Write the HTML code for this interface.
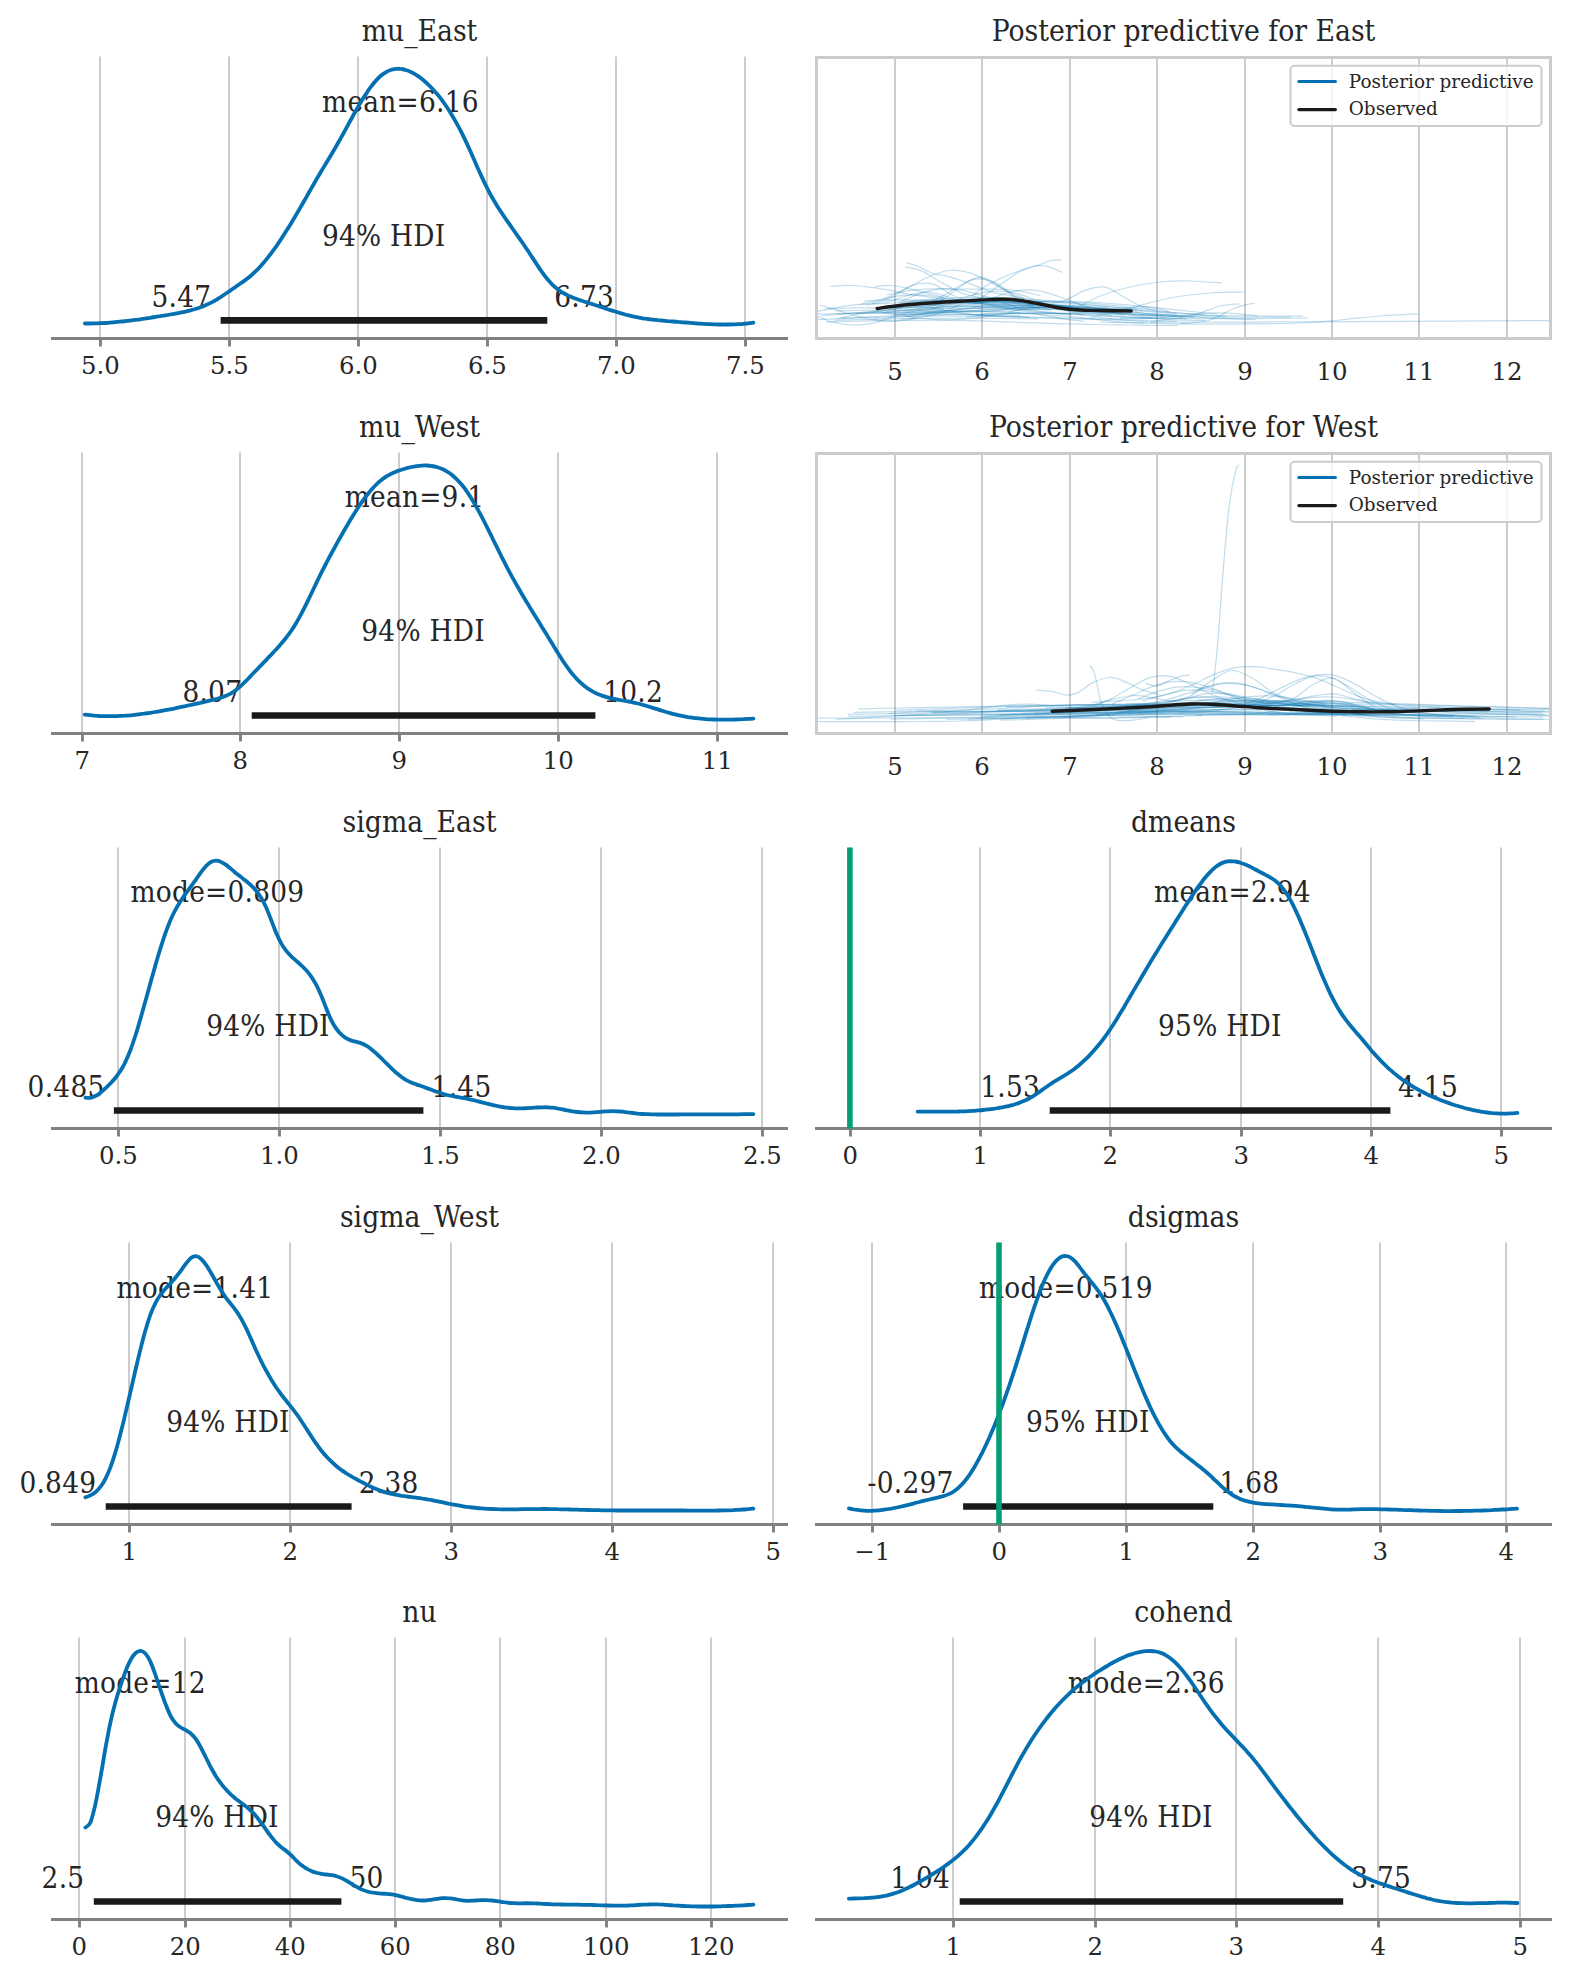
<!DOCTYPE html><html><head><meta charset="utf-8"><title>Posterior plots</title><style>html,body{margin:0;padding:0;background:#fff}svg{display:block}</style></head><body><svg width="1570" height="1980" viewBox="0 0 1570 1980" fill="#262626">
<style>.r{font-family:"DejaVu Serif","Liberation Serif",serif;font-stretch:normal}.c{font-family:"DejaVu Serif Condensed","DejaVu Serif","Liberation Serif",serif;font-stretch:condensed;letter-spacing:0.25px}.t{font-family:"DejaVu Serif Condensed","DejaVu Serif","Liberation Serif",serif;font-stretch:condensed}</style>
<rect width="1570" height="1980" fill="#ffffff"/>
<line x1="100" y1="56.5" x2="100" y2="338.5" stroke="#cccccc" stroke-width="2"/>
<line x1="229" y1="56.5" x2="229" y2="338.5" stroke="#cccccc" stroke-width="2"/>
<line x1="358" y1="56.5" x2="358" y2="338.5" stroke="#cccccc" stroke-width="2"/>
<line x1="487" y1="56.5" x2="487" y2="338.5" stroke="#cccccc" stroke-width="2"/>
<line x1="616" y1="56.5" x2="616" y2="338.5" stroke="#cccccc" stroke-width="2"/>
<line x1="745" y1="56.5" x2="745" y2="338.5" stroke="#cccccc" stroke-width="2"/>
<text class="c" x="322.1" y="112.0" font-size="29.4" text-anchor="start">mean=6.16</text>
<text class="c" x="321.9" y="246.3" font-size="29.4" text-anchor="start">94% HDI</text>
<text class="c" x="151.5" y="306.9" font-size="29.4" text-anchor="start">5.47</text>
<text class="c" x="554.2" y="306.9" font-size="29.4" text-anchor="start">6.73</text>
<path d="M84.9,323.5C85.7,323.5 88.3,323.5 89.9,323.5C91.6,323.5 93.3,323.5 95.0,323.4C96.6,323.4 98.3,323.3 100.0,323.2C101.7,323.1 103.3,323.1 105.0,323.0C106.7,322.9 108.4,322.7 110.0,322.6C111.7,322.5 113.4,322.4 115.1,322.2C116.7,322.1 118.4,321.9 120.1,321.7C121.8,321.6 123.4,321.4 125.1,321.2C126.8,321.0 128.5,320.8 130.1,320.6C131.8,320.4 133.5,320.2 135.2,319.9C136.8,319.7 138.5,319.5 140.2,319.3C141.9,319.0 143.5,318.8 145.2,318.5C146.9,318.3 148.6,318.0 150.2,317.8C151.9,317.5 153.6,317.2 155.3,317.0C156.9,316.7 158.6,316.4 160.3,316.2C162.0,315.9 163.6,315.6 165.3,315.3C167.0,315.1 168.7,314.8 170.3,314.5C172.0,314.2 173.7,313.9 175.4,313.6C177.0,313.3 178.7,313.0 180.4,312.7C182.1,312.4 183.8,312.0 185.4,311.7C187.1,311.3 188.8,310.9 190.5,310.4C192.1,310.0 193.8,309.5 195.5,309.0C197.2,308.5 198.8,307.9 200.5,307.3C202.2,306.7 203.9,306.0 205.5,305.3C207.2,304.6 208.9,303.8 210.6,302.9C212.2,302.1 213.9,301.1 215.6,300.2C217.3,299.2 218.9,298.1 220.6,297.1C222.3,296.0 224.0,294.8 225.6,293.7C227.3,292.6 229.0,291.4 230.7,290.3C232.3,289.1 234.0,287.9 235.7,286.8C237.4,285.6 239.0,284.5 240.7,283.3C242.4,282.1 244.1,281.0 245.7,279.7C247.4,278.4 249.1,277.1 250.8,275.7C252.4,274.3 254.1,272.8 255.8,271.2C257.5,269.5 259.1,267.8 260.8,265.9C262.5,264.1 264.2,262.1 265.8,260.1C267.5,258.1 269.2,255.9 270.9,253.7C272.5,251.5 274.2,249.1 275.9,246.8C277.6,244.4 279.2,241.9 280.9,239.4C282.6,236.8 284.3,234.2 285.9,231.6C287.6,228.9 289.3,226.2 291.0,223.4C292.6,220.7 294.3,217.9 296.0,215.0C297.7,212.2 299.4,209.3 301.0,206.4C302.7,203.5 304.4,200.5 306.1,197.6C307.7,194.7 309.4,191.7 311.1,188.8C312.8,185.8 314.4,182.9 316.1,180.0C317.8,177.1 319.5,174.3 321.1,171.5C322.8,168.6 324.5,165.9 326.2,163.1C327.8,160.3 329.5,157.5 331.2,154.7C332.9,151.9 334.5,149.1 336.2,146.2C337.9,143.2 339.6,140.3 341.2,137.3C342.9,134.3 344.6,131.2 346.3,128.1C347.9,125.1 349.6,122.0 351.3,119.0C353.0,115.9 354.6,112.9 356.3,110.0C358.0,107.0 359.7,104.1 361.3,101.4C363.0,98.6 364.7,95.9 366.4,93.4C368.0,90.8 369.7,88.4 371.4,86.2C373.1,84.0 374.7,81.9 376.4,80.1C378.1,78.3 379.8,76.7 381.4,75.3C383.1,73.9 384.8,72.8 386.5,71.8C388.1,70.9 389.8,70.2 391.5,69.7C393.2,69.2 394.8,68.9 396.5,68.8C398.2,68.7 399.9,68.7 401.5,69.0C403.2,69.2 404.9,69.6 406.6,70.2C408.3,70.7 409.9,71.4 411.6,72.3C413.3,73.1 415.0,74.1 416.6,75.2C418.3,76.3 420.0,77.5 421.7,78.8C423.3,80.1 425.0,81.6 426.7,83.1C428.4,84.6 430.0,86.3 431.7,88.0C433.4,89.8 435.1,91.6 436.7,93.6C438.4,95.6 440.1,97.7 441.8,99.9C443.4,102.2 445.1,104.5 446.8,107.0C448.5,109.5 450.1,112.1 451.8,114.9C453.5,117.7 455.2,120.6 456.8,123.6C458.5,126.6 460.2,129.8 461.9,133.2C463.5,136.5 465.2,140.0 466.9,143.6C468.6,147.2 470.2,151.0 471.9,154.8C473.6,158.5 475.3,162.4 476.9,166.2C478.6,169.9 480.3,173.7 482.0,177.4C483.6,181.0 485.3,184.5 487.0,187.9C488.7,191.2 490.3,194.3 492.0,197.3C493.7,200.3 495.4,203.1 497.0,205.7C498.7,208.4 500.4,211.0 502.1,213.5C503.7,216.0 505.4,218.4 507.1,220.8C508.8,223.2 510.4,225.6 512.1,228.0C513.8,230.4 515.5,232.8 517.1,235.2C518.8,237.6 520.5,240.0 522.2,242.4C523.9,244.8 525.5,247.3 527.2,249.8C528.9,252.3 530.6,254.8 532.2,257.4C533.9,259.9 535.6,262.5 537.3,265.1C538.9,267.6 540.6,270.1 542.3,272.5C544.0,274.8 545.6,277.1 547.3,279.1C549.0,281.1 550.7,283.0 552.3,284.6C554.0,286.3 555.7,287.7 557.4,289.0C559.0,290.3 560.7,291.4 562.4,292.5C564.1,293.5 565.7,294.4 567.4,295.2C569.1,296.0 570.8,296.7 572.4,297.4C574.1,298.1 575.8,298.7 577.5,299.3C579.1,299.9 580.8,300.5 582.5,301.0C584.2,301.6 585.8,302.1 587.5,302.6C589.2,303.1 590.9,303.7 592.5,304.2C594.2,304.7 595.9,305.3 597.6,305.8C599.2,306.4 600.9,307.0 602.6,307.5C604.3,308.1 605.9,308.6 607.6,309.2C609.3,309.7 611.0,310.3 612.6,310.8C614.3,311.3 616.0,311.8 617.7,312.3C619.3,312.9 621.0,313.3 622.7,313.8C624.4,314.3 626.0,314.7 627.7,315.2C629.4,315.6 631.1,316.0 632.7,316.4C634.4,316.7 636.1,317.1 637.8,317.4C639.5,317.7 641.1,318.0 642.8,318.3C644.5,318.5 646.2,318.8 647.8,319.0C649.5,319.2 651.2,319.4 652.9,319.6C654.5,319.8 656.2,320.0 657.9,320.2C659.6,320.3 661.2,320.5 662.9,320.6C664.6,320.8 666.3,320.9 667.9,321.1C669.6,321.2 671.3,321.3 673.0,321.5C674.6,321.6 676.3,321.7 678.0,321.9C679.7,322.0 681.3,322.2 683.0,322.3C684.7,322.4 686.4,322.6 688.0,322.7C689.7,322.8 691.4,323.0 693.1,323.1C694.7,323.2 696.4,323.3 698.1,323.5C699.8,323.6 701.4,323.7 703.1,323.8C704.8,323.9 706.5,324.0 708.1,324.1C709.8,324.2 711.5,324.2 713.2,324.3C714.8,324.4 716.5,324.4 718.2,324.5C719.9,324.5 721.5,324.5 723.2,324.5C724.9,324.6 726.6,324.5 728.2,324.5C729.9,324.5 731.6,324.5 733.3,324.4C734.9,324.4 736.6,324.3 738.3,324.2C740.0,324.1 741.6,324.0 743.3,323.8C745.0,323.7 746.7,323.5 748.3,323.3C750.0,323.2 752.5,322.8 753.4,322.7" fill="none" stroke="#0470b1" stroke-width="3.8" stroke-linecap="round" stroke-linejoin="round"/>
<line x1="220.6" y1="320.4" x2="547.3" y2="320.4" stroke="#1a1a1a" stroke-width="6.7"/>
<line x1="51.0" y1="338.5" x2="788.0" y2="338.5" stroke="#808080" stroke-width="3.0"/>
<line x1="100.5" y1="338.5" x2="100.5" y2="346.5" stroke="#808080" stroke-width="2.9"/>
<line x1="229.5" y1="338.5" x2="229.5" y2="346.5" stroke="#808080" stroke-width="2.9"/>
<line x1="358.5" y1="338.5" x2="358.5" y2="346.5" stroke="#808080" stroke-width="2.9"/>
<line x1="487.5" y1="338.5" x2="487.5" y2="346.5" stroke="#808080" stroke-width="2.9"/>
<line x1="616.5" y1="338.5" x2="616.5" y2="346.5" stroke="#808080" stroke-width="2.9"/>
<line x1="745.5" y1="338.5" x2="745.5" y2="346.5" stroke="#808080" stroke-width="2.9"/>
<text class="r" x="100.3" y="374.0" font-size="24.4" text-anchor="middle">5.0</text>
<text class="r" x="229.3" y="374.0" font-size="24.4" text-anchor="middle">5.5</text>
<text class="r" x="358.3" y="374.0" font-size="24.4" text-anchor="middle">6.0</text>
<text class="r" x="487.3" y="374.0" font-size="24.4" text-anchor="middle">6.5</text>
<text class="r" x="616.3" y="374.0" font-size="24.4" text-anchor="middle">7.0</text>
<text class="r" x="745.3" y="374.0" font-size="24.4" text-anchor="middle">7.5</text>
<text class="t" x="419.5" y="41.3" font-size="29.7" text-anchor="middle">mu_East</text>
<line x1="82" y1="452.5" x2="82" y2="733.5" stroke="#cccccc" stroke-width="2"/>
<line x1="240" y1="452.5" x2="240" y2="733.5" stroke="#cccccc" stroke-width="2"/>
<line x1="399" y1="452.5" x2="399" y2="733.5" stroke="#cccccc" stroke-width="2"/>
<line x1="558" y1="452.5" x2="558" y2="733.5" stroke="#cccccc" stroke-width="2"/>
<line x1="717" y1="452.5" x2="717" y2="733.5" stroke="#cccccc" stroke-width="2"/>
<text class="c" x="344.7" y="507.0" font-size="29.4" text-anchor="start">mean=9.1</text>
<text class="c" x="361.3" y="641.3" font-size="29.4" text-anchor="start">94% HDI</text>
<text class="c" x="182.4" y="701.9" font-size="29.4" text-anchor="start">8.07</text>
<text class="c" x="603.2" y="701.9" font-size="29.4" text-anchor="start">10.2</text>
<path d="M84.8,714.6C85.6,714.7 88.1,715.0 89.8,715.2C91.5,715.4 93.2,715.5 94.8,715.7C96.5,715.8 98.2,715.9 99.9,716.0C101.5,716.0 103.2,716.1 104.9,716.1C106.6,716.2 108.2,716.2 109.9,716.2C111.6,716.2 113.3,716.2 114.9,716.1C116.6,716.1 118.3,716.0 120.0,715.9C121.6,715.9 123.3,715.8 125.0,715.7C126.7,715.5 128.3,715.4 130.0,715.3C131.7,715.1 133.4,715.0 135.0,714.8C136.7,714.6 138.4,714.4 140.1,714.2C141.8,714.0 143.4,713.8 145.1,713.5C146.8,713.3 148.5,713.1 150.1,712.8C151.8,712.6 153.5,712.3 155.2,712.0C156.8,711.7 158.5,711.5 160.2,711.2C161.9,710.9 163.5,710.6 165.2,710.2C166.9,709.9 168.6,709.6 170.2,709.3C171.9,709.0 173.6,708.6 175.3,708.3C176.9,707.9 178.6,707.6 180.3,707.2C182.0,706.9 183.6,706.5 185.3,706.2C187.0,705.8 188.7,705.4 190.3,705.0C192.0,704.7 193.7,704.3 195.4,703.9C197.0,703.5 198.7,703.1 200.4,702.8C202.1,702.4 203.8,702.0 205.4,701.6C207.1,701.2 208.8,700.8 210.5,700.4C212.1,700.0 213.8,699.6 215.5,699.2C217.2,698.7 218.8,698.3 220.5,697.8C222.2,697.2 223.9,696.7 225.5,696.0C227.2,695.3 228.9,694.5 230.6,693.6C232.2,692.6 233.9,691.6 235.6,690.3C237.3,689.1 238.9,687.7 240.6,686.2C242.3,684.7 244.0,683.0 245.6,681.3C247.3,679.6 249.0,677.8 250.7,676.1C252.3,674.3 254.0,672.6 255.7,670.8C257.4,669.1 259.0,667.3 260.7,665.6C262.4,663.9 264.1,662.2 265.8,660.4C267.4,658.7 269.1,656.9 270.8,655.2C272.5,653.4 274.1,651.6 275.8,649.8C277.5,647.9 279.2,646.1 280.8,644.1C282.5,642.2 284.2,640.2 285.9,638.0C287.5,635.9 289.2,633.7 290.9,631.2C292.6,628.8 294.2,626.2 295.9,623.4C297.6,620.6 299.3,617.6 300.9,614.5C302.6,611.3 304.3,608.0 306.0,604.6C307.6,601.2 309.3,597.7 311.0,594.2C312.7,590.7 314.3,587.2 316.0,583.7C317.7,580.2 319.4,576.7 321.0,573.4C322.7,570.0 324.4,566.7 326.1,563.5C327.8,560.3 329.4,557.1 331.1,554.0C332.8,550.9 334.5,547.8 336.1,544.8C337.8,541.7 339.5,538.7 341.2,535.8C342.8,532.8 344.5,529.8 346.2,527.0C347.9,524.1 349.5,521.3 351.2,518.5C352.9,515.8 354.6,513.1 356.2,510.5C357.9,507.9 359.6,505.3 361.3,502.9C362.9,500.5 364.6,498.2 366.3,496.0C368.0,493.9 369.6,491.8 371.3,489.8C373.0,487.9 374.7,486.1 376.3,484.5C378.0,482.8 379.7,481.3 381.4,480.0C383.0,478.6 384.7,477.5 386.4,476.4C388.1,475.4 389.8,474.5 391.4,473.6C393.1,472.8 394.8,472.1 396.5,471.4C398.1,470.8 399.8,470.2 401.5,469.7C403.2,469.2 404.8,468.7 406.5,468.2C408.2,467.8 409.9,467.4 411.5,467.0C413.2,466.7 414.9,466.4 416.6,466.1C418.2,465.9 419.9,465.7 421.6,465.6C423.3,465.5 424.9,465.4 426.6,465.5C428.3,465.6 430.0,465.7 431.6,466.0C433.3,466.2 435.0,466.5 436.7,467.0C438.3,467.5 440.0,468.1 441.7,468.8C443.4,469.5 445.0,470.4 446.7,471.4C448.4,472.4 450.1,473.5 451.8,474.8C453.4,476.2 455.1,477.6 456.8,479.3C458.5,480.9 460.1,482.8 461.8,484.8C463.5,486.8 465.2,489.0 466.8,491.4C468.5,493.9 470.2,496.5 471.9,499.2C473.5,501.9 475.2,504.9 476.9,507.9C478.6,510.9 480.2,514.0 481.9,517.2C483.6,520.4 485.3,523.7 486.9,527.0C488.6,530.4 490.3,533.8 492.0,537.2C493.6,540.6 495.3,544.0 497.0,547.4C498.7,550.8 500.3,554.2 502.0,557.6C503.7,560.9 505.4,564.2 507.0,567.4C508.7,570.6 510.4,573.7 512.1,576.8C513.8,579.9 515.4,582.9 517.1,585.8C518.8,588.8 520.5,591.7 522.1,594.5C523.8,597.4 525.5,600.2 527.2,602.9C528.8,605.7 530.5,608.5 532.2,611.2C533.9,613.9 535.5,616.6 537.2,619.3C538.9,622.0 540.6,624.7 542.2,627.5C543.9,630.2 545.6,632.9 547.3,635.6C548.9,638.3 550.6,641.1 552.3,643.8C554.0,646.6 555.6,649.3 557.3,652.0C559.0,654.7 560.7,657.4 562.3,659.9C564.0,662.5 565.7,665.0 567.4,667.3C569.1,669.7 570.7,671.9 572.4,673.9C574.1,676.0 575.8,677.9 577.4,679.6C579.1,681.3 580.8,682.9 582.5,684.3C584.1,685.8 585.8,687.1 587.5,688.3C589.2,689.4 590.8,690.5 592.5,691.4C594.2,692.4 595.9,693.2 597.5,693.9C599.2,694.7 600.9,695.3 602.6,695.9C604.2,696.5 605.9,697.0 607.6,697.4C609.3,697.9 610.9,698.3 612.6,698.6C614.3,699.0 616.0,699.3 617.6,699.6C619.3,699.9 621.0,700.2 622.7,700.5C624.3,700.8 626.0,701.1 627.7,701.4C629.4,701.7 631.1,702.0 632.7,702.4C634.4,702.7 636.1,703.1 637.8,703.5C639.4,703.9 641.1,704.4 642.8,704.9C644.5,705.3 646.1,705.8 647.8,706.3C649.5,706.8 651.2,707.3 652.8,707.9C654.5,708.4 656.2,708.9 657.9,709.4C659.5,710.0 661.2,710.5 662.9,711.0C664.6,711.5 666.2,712.0 667.9,712.5C669.6,713.0 671.3,713.4 672.9,713.9C674.6,714.3 676.3,714.7 678.0,715.1C679.6,715.5 681.3,715.8 683.0,716.2C684.7,716.5 686.3,716.8 688.0,717.1C689.7,717.3 691.4,717.6 693.1,717.8C694.7,718.0 696.4,718.2 698.1,718.4C699.8,718.6 701.4,718.8 703.1,718.9C704.8,719.0 706.5,719.2 708.1,719.3C709.8,719.4 711.5,719.4 713.2,719.5C714.8,719.6 716.5,719.6 718.2,719.6C719.9,719.7 721.5,719.7 723.2,719.7C724.9,719.7 726.6,719.7 728.2,719.7C729.9,719.6 731.6,719.6 733.3,719.6C734.9,719.5 736.6,719.5 738.3,719.4C740.0,719.3 741.6,719.2 743.3,719.2C745.0,719.1 746.7,719.0 748.3,718.9C750.0,718.8 752.5,718.6 753.4,718.6" fill="none" stroke="#0470b1" stroke-width="3.8" stroke-linecap="round" stroke-linejoin="round"/>
<line x1="251.7" y1="715.5" x2="595.4" y2="715.5" stroke="#1a1a1a" stroke-width="6.7"/>
<line x1="51.0" y1="733.5" x2="788.0" y2="733.5" stroke="#808080" stroke-width="3.0"/>
<line x1="82.5" y1="733.5" x2="82.5" y2="741.5" stroke="#808080" stroke-width="2.9"/>
<line x1="240.5" y1="733.5" x2="240.5" y2="741.5" stroke="#808080" stroke-width="2.9"/>
<line x1="399.5" y1="733.5" x2="399.5" y2="741.5" stroke="#808080" stroke-width="2.9"/>
<line x1="558.5" y1="733.5" x2="558.5" y2="741.5" stroke="#808080" stroke-width="2.9"/>
<line x1="717.5" y1="733.5" x2="717.5" y2="741.5" stroke="#808080" stroke-width="2.9"/>
<text class="r" x="82.3" y="769.0" font-size="24.4" text-anchor="middle">7</text>
<text class="r" x="240.3" y="769.0" font-size="24.4" text-anchor="middle">8</text>
<text class="r" x="399.3" y="769.0" font-size="24.4" text-anchor="middle">9</text>
<text class="r" x="558.3" y="769.0" font-size="24.4" text-anchor="middle">10</text>
<text class="r" x="717.3" y="769.0" font-size="24.4" text-anchor="middle">11</text>
<text class="t" x="419.5" y="437.3" font-size="29.7" text-anchor="middle">mu_West</text>
<line x1="118" y1="847.5" x2="118" y2="1128.5" stroke="#cccccc" stroke-width="2"/>
<line x1="279" y1="847.5" x2="279" y2="1128.5" stroke="#cccccc" stroke-width="2"/>
<line x1="440" y1="847.5" x2="440" y2="1128.5" stroke="#cccccc" stroke-width="2"/>
<line x1="601" y1="847.5" x2="601" y2="1128.5" stroke="#cccccc" stroke-width="2"/>
<line x1="762" y1="847.5" x2="762" y2="1128.5" stroke="#cccccc" stroke-width="2"/>
<text class="c" x="130.5" y="902.0" font-size="29.4" text-anchor="start">mode=0.809</text>
<text class="c" x="206.2" y="1036.3" font-size="29.4" text-anchor="start">94% HDI</text>
<text class="c" x="27.6" y="1096.9" font-size="29.4" text-anchor="start">0.485</text>
<text class="c" x="431.6" y="1096.9" font-size="29.4" text-anchor="start">1.45</text>
<path d="M85.4,1097.7C86.2,1097.8 88.7,1098.1 90.4,1097.8C92.0,1097.6 93.7,1096.9 95.4,1096.0C97.1,1095.2 98.7,1094.0 100.4,1092.7C102.1,1091.5 103.8,1089.9 105.4,1088.4C107.1,1086.8 108.8,1085.1 110.5,1083.3C112.1,1081.6 113.8,1079.8 115.5,1077.7C117.2,1075.6 118.8,1073.4 120.5,1070.8C122.2,1068.1 123.9,1065.2 125.5,1061.7C127.2,1058.2 128.9,1054.2 130.6,1049.7C132.2,1045.3 133.9,1040.2 135.6,1035.0C137.3,1029.8 138.9,1024.1 140.6,1018.3C142.3,1012.5 143.9,1006.4 145.6,1000.4C147.3,994.4 149.0,988.2 150.6,982.2C152.3,976.2 154.0,970.1 155.7,964.3C157.3,958.5 159.0,952.9 160.7,947.5C162.4,942.2 164.0,937.1 165.7,932.4C167.4,927.8 169.1,923.4 170.7,919.6C172.4,915.7 174.1,912.3 175.8,909.2C177.4,906.1 179.1,903.4 180.8,900.7C182.5,898.1 184.1,895.8 185.8,893.4C187.5,891.1 189.2,888.9 190.8,886.6C192.5,884.3 194.2,881.9 195.9,879.6C197.5,877.2 199.2,874.7 200.9,872.4C202.5,870.2 204.2,868.0 205.9,866.2C207.6,864.5 209.2,862.9 210.9,862.0C212.6,861.0 214.3,860.6 215.9,860.6C217.6,860.6 219.3,861.1 221.0,861.9C222.6,862.6 224.3,863.7 226.0,864.9C227.7,866.1 229.3,867.5 231.0,868.9C232.7,870.3 234.4,871.8 236.0,873.2C237.7,874.5 239.4,875.8 241.1,877.1C242.7,878.4 244.4,879.6 246.1,881.0C247.8,882.4 249.4,883.7 251.1,885.4C252.8,887.0 254.4,888.7 256.1,890.7C257.8,892.8 259.5,895.0 261.1,897.8C262.8,900.6 264.5,903.8 266.2,907.5C267.8,911.2 269.5,915.8 271.2,920.1C272.9,924.3 274.5,929.1 276.2,933.0C277.9,936.8 279.6,940.4 281.2,943.4C282.9,946.4 284.6,948.7 286.3,950.9C287.9,953.0 289.6,954.7 291.3,956.3C293.0,958.0 294.6,959.3 296.3,960.8C298.0,962.3 299.7,963.7 301.3,965.3C303.0,966.9 304.7,968.5 306.4,970.4C308.0,972.3 309.7,974.4 311.4,976.8C313.0,979.3 314.7,981.9 316.4,985.1C318.1,988.3 319.7,992.1 321.4,996.0C323.1,999.9 324.8,1004.7 326.4,1008.8C328.1,1012.9 329.8,1017.3 331.5,1020.6C333.1,1024.0 334.8,1026.7 336.5,1029.0C338.2,1031.4 339.8,1033.1 341.5,1034.6C343.2,1036.2 344.9,1037.3 346.5,1038.3C348.2,1039.3 349.9,1040.0 351.6,1040.6C353.2,1041.1 354.9,1041.4 356.6,1041.9C358.3,1042.4 359.9,1042.7 361.6,1043.4C363.3,1044.0 364.9,1044.9 366.6,1045.9C368.3,1046.9 370.0,1048.1 371.6,1049.5C373.3,1050.8 375.0,1052.3 376.7,1053.8C378.3,1055.4 380.0,1057.0 381.7,1058.7C383.4,1060.3 385.0,1062.0 386.7,1063.7C388.4,1065.3 390.1,1067.0 391.7,1068.6C393.4,1070.2 395.1,1071.8 396.8,1073.2C398.4,1074.7 400.1,1076.0 401.8,1077.2C403.5,1078.4 405.1,1079.5 406.8,1080.4C408.5,1081.3 410.2,1082.1 411.8,1082.8C413.5,1083.5 415.2,1084.0 416.9,1084.6C418.5,1085.2 420.2,1085.7 421.9,1086.3C423.5,1086.9 425.2,1087.5 426.9,1088.1C428.6,1088.7 430.2,1089.4 431.9,1090.0C433.6,1090.6 435.3,1091.3 436.9,1091.8C438.6,1092.4 440.3,1093.0 442.0,1093.5C443.6,1094.1 445.3,1094.5 447.0,1095.0C448.7,1095.4 450.3,1095.7 452.0,1096.0C453.7,1096.4 455.4,1096.6 457.0,1096.9C458.7,1097.2 460.4,1097.5 462.1,1097.8C463.7,1098.1 465.4,1098.4 467.1,1098.7C468.8,1099.1 470.4,1099.5 472.1,1099.9C473.8,1100.2 475.5,1100.7 477.1,1101.1C478.8,1101.5 480.5,1101.9 482.1,1102.4C483.8,1102.8 485.5,1103.2 487.2,1103.7C488.8,1104.1 490.5,1104.5 492.2,1104.9C493.9,1105.3 495.5,1105.7 497.2,1106.0C498.9,1106.4 500.6,1106.7 502.2,1107.0C503.9,1107.2 505.6,1107.5 507.3,1107.7C508.9,1107.9 510.6,1108.0 512.3,1108.1C514.0,1108.2 515.6,1108.3 517.3,1108.3C519.0,1108.4 520.7,1108.4 522.3,1108.3C524.0,1108.3 525.7,1108.2 527.4,1108.2C529.0,1108.1 530.7,1108.0 532.4,1107.9C534.0,1107.8 535.7,1107.6 537.4,1107.5C539.1,1107.4 540.7,1107.3 542.4,1107.3C544.1,1107.3 545.8,1107.2 547.4,1107.3C549.1,1107.4 550.8,1107.5 552.5,1107.7C554.1,1107.9 555.8,1108.2 557.5,1108.5C559.2,1108.8 560.8,1109.1 562.5,1109.4C564.2,1109.8 565.9,1110.1 567.5,1110.4C569.2,1110.8 570.9,1111.1 572.6,1111.4C574.2,1111.6 575.9,1111.8 577.6,1112.0C579.3,1112.2 580.9,1112.3 582.6,1112.4C584.3,1112.5 586.0,1112.6 587.6,1112.6C589.3,1112.6 591.0,1112.5 592.6,1112.4C594.3,1112.4 596.0,1112.2 597.7,1112.1C599.3,1112.0 601.0,1111.8 602.7,1111.6C604.4,1111.5 606.0,1111.4 607.7,1111.3C609.4,1111.2 611.1,1111.1 612.7,1111.1C614.4,1111.1 616.1,1111.1 617.8,1111.3C619.4,1111.4 621.1,1111.6 622.8,1111.7C624.5,1111.9 626.1,1112.2 627.8,1112.4C629.5,1112.6 631.2,1112.8 632.8,1113.0C634.5,1113.2 636.2,1113.4 637.9,1113.6C639.5,1113.7 641.2,1113.9 642.9,1114.0C644.5,1114.1 646.2,1114.2 647.9,1114.2C649.6,1114.3 651.2,1114.4 652.9,1114.4C654.6,1114.4 656.3,1114.5 657.9,1114.5C659.6,1114.5 661.3,1114.5 663.0,1114.5C664.6,1114.5 666.3,1114.5 668.0,1114.5C669.7,1114.5 671.3,1114.5 673.0,1114.5C674.7,1114.5 676.4,1114.5 678.0,1114.5C679.7,1114.5 681.4,1114.4 683.1,1114.4C684.7,1114.4 686.4,1114.4 688.1,1114.4C689.8,1114.4 691.4,1114.4 693.1,1114.4C694.8,1114.4 696.5,1114.4 698.1,1114.4C699.8,1114.4 701.5,1114.4 703.1,1114.4C704.8,1114.4 706.5,1114.4 708.2,1114.4C709.8,1114.4 711.5,1114.4 713.2,1114.4C714.9,1114.4 716.5,1114.4 718.2,1114.4C719.9,1114.4 721.6,1114.4 723.2,1114.4C724.9,1114.4 726.6,1114.4 728.3,1114.4C729.9,1114.4 731.6,1114.3 733.3,1114.3C735.0,1114.3 736.6,1114.3 738.3,1114.3C740.0,1114.3 741.7,1114.3 743.3,1114.2C745.0,1114.2 746.7,1114.2 748.4,1114.2C750.0,1114.1 752.5,1114.1 753.4,1114.1" fill="none" stroke="#0470b1" stroke-width="3.8" stroke-linecap="round" stroke-linejoin="round"/>
<line x1="113.9" y1="1110.5" x2="423.4" y2="1110.5" stroke="#1a1a1a" stroke-width="6.7"/>
<line x1="51.0" y1="1128.5" x2="788.0" y2="1128.5" stroke="#808080" stroke-width="3.0"/>
<line x1="118.5" y1="1128.5" x2="118.5" y2="1136.5" stroke="#808080" stroke-width="2.9"/>
<line x1="279.5" y1="1128.5" x2="279.5" y2="1136.5" stroke="#808080" stroke-width="2.9"/>
<line x1="440.5" y1="1128.5" x2="440.5" y2="1136.5" stroke="#808080" stroke-width="2.9"/>
<line x1="601.5" y1="1128.5" x2="601.5" y2="1136.5" stroke="#808080" stroke-width="2.9"/>
<line x1="762.5" y1="1128.5" x2="762.5" y2="1136.5" stroke="#808080" stroke-width="2.9"/>
<text class="r" x="118.3" y="1164.0" font-size="24.4" text-anchor="middle">0.5</text>
<text class="r" x="279.3" y="1164.0" font-size="24.4" text-anchor="middle">1.0</text>
<text class="r" x="440.3" y="1164.0" font-size="24.4" text-anchor="middle">1.5</text>
<text class="r" x="601.3" y="1164.0" font-size="24.4" text-anchor="middle">2.0</text>
<text class="r" x="762.3" y="1164.0" font-size="24.4" text-anchor="middle">2.5</text>
<text class="t" x="419.5" y="832.3" font-size="29.7" text-anchor="middle">sigma_East</text>
<line x1="850" y1="847.5" x2="850" y2="1128.5" stroke="#cccccc" stroke-width="2"/>
<line x1="980" y1="847.5" x2="980" y2="1128.5" stroke="#cccccc" stroke-width="2"/>
<line x1="1110" y1="847.5" x2="1110" y2="1128.5" stroke="#cccccc" stroke-width="2"/>
<line x1="1241" y1="847.5" x2="1241" y2="1128.5" stroke="#cccccc" stroke-width="2"/>
<line x1="1371" y1="847.5" x2="1371" y2="1128.5" stroke="#cccccc" stroke-width="2"/>
<line x1="1501" y1="847.5" x2="1501" y2="1128.5" stroke="#cccccc" stroke-width="2"/>
<text class="c" x="1154.1" y="902.0" font-size="29.4" text-anchor="start">mean=2.94</text>
<text class="c" x="1158.0" y="1036.3" font-size="29.4" text-anchor="start">95% HDI</text>
<text class="c" x="980.2" y="1096.9" font-size="29.4" text-anchor="start">1.53</text>
<text class="c" x="1398.1" y="1096.9" font-size="29.4" text-anchor="start">4.15</text>
<path d="M917.7,1111.7C918.5,1111.7 921.1,1111.7 922.7,1111.7C924.4,1111.7 926.1,1111.7 927.8,1111.7C929.5,1111.7 931.1,1111.7 932.8,1111.7C934.5,1111.7 936.2,1111.7 937.9,1111.7C939.5,1111.7 941.2,1111.7 942.9,1111.7C944.6,1111.7 946.3,1111.7 947.9,1111.7C949.6,1111.7 951.3,1111.6 953.0,1111.6C954.7,1111.6 956.4,1111.5 958.0,1111.5C959.7,1111.4 961.4,1111.4 963.1,1111.3C964.8,1111.3 966.4,1111.2 968.1,1111.1C969.8,1111.0 971.5,1110.9 973.2,1110.8C974.8,1110.7 976.5,1110.6 978.2,1110.4C979.9,1110.3 981.6,1110.2 983.2,1110.0C984.9,1109.8 986.6,1109.6 988.3,1109.4C990.0,1109.2 991.6,1109.0 993.3,1108.8C995.0,1108.6 996.7,1108.3 998.4,1108.0C1000.0,1107.8 1001.7,1107.5 1003.4,1107.2C1005.1,1106.8 1006.8,1106.5 1008.4,1106.1C1010.1,1105.7 1011.8,1105.2 1013.5,1104.8C1015.2,1104.3 1016.8,1103.7 1018.5,1103.1C1020.2,1102.5 1021.9,1101.8 1023.6,1101.1C1025.2,1100.4 1026.9,1099.6 1028.6,1098.7C1030.3,1097.8 1032.0,1096.8 1033.6,1095.8C1035.3,1094.7 1037.0,1093.5 1038.7,1092.4C1040.4,1091.2 1042.0,1090.0 1043.7,1088.8C1045.4,1087.6 1047.1,1086.4 1048.8,1085.2C1050.4,1084.1 1052.1,1083.0 1053.8,1081.9C1055.5,1080.9 1057.2,1079.9 1058.8,1078.9C1060.5,1077.9 1062.2,1076.9 1063.9,1075.9C1065.6,1074.9 1067.2,1073.9 1068.9,1072.7C1070.6,1071.6 1072.3,1070.4 1074.0,1069.2C1075.6,1067.9 1077.3,1066.6 1079.0,1065.2C1080.7,1063.8 1082.4,1062.3 1084.0,1060.7C1085.7,1059.2 1087.4,1057.5 1089.1,1055.8C1090.8,1054.1 1092.4,1052.2 1094.1,1050.3C1095.8,1048.4 1097.5,1046.4 1099.2,1044.3C1100.8,1042.3 1102.5,1040.1 1104.2,1037.8C1105.9,1035.5 1107.6,1033.2 1109.2,1030.7C1110.9,1028.2 1112.6,1025.7 1114.3,1023.0C1116.0,1020.4 1117.6,1017.6 1119.3,1014.8C1121.0,1012.1 1122.7,1009.2 1124.4,1006.4C1126.0,1003.5 1127.7,1000.7 1129.4,997.8C1131.1,995.0 1132.8,992.1 1134.4,989.2C1136.1,986.3 1137.8,983.5 1139.5,980.6C1141.2,977.7 1142.8,974.9 1144.5,972.0C1146.2,969.2 1147.9,966.4 1149.6,963.6C1151.2,960.8 1152.9,958.0 1154.6,955.3C1156.3,952.5 1158.0,949.8 1159.6,947.1C1161.3,944.3 1163.0,941.6 1164.7,939.0C1166.4,936.3 1168.0,933.6 1169.7,930.9C1171.4,928.3 1173.1,925.6 1174.8,922.9C1176.4,920.3 1178.1,917.7 1179.8,915.0C1181.5,912.4 1183.2,909.7 1184.8,907.1C1186.5,904.5 1188.2,901.8 1189.9,899.2C1191.6,896.7 1193.2,894.1 1194.9,891.6C1196.6,889.1 1198.3,886.7 1200.0,884.4C1201.7,882.1 1203.3,879.9 1205.0,877.8C1206.7,875.8 1208.4,873.8 1210.1,872.1C1211.7,870.4 1213.4,868.8 1215.1,867.4C1216.8,866.0 1218.5,864.9 1220.1,864.0C1221.8,863.0 1223.5,862.4 1225.2,861.9C1226.9,861.4 1228.5,861.2 1230.2,861.1C1231.9,861.1 1233.6,861.2 1235.3,861.5C1236.9,861.7 1238.6,862.1 1240.3,862.7C1242.0,863.2 1243.7,863.8 1245.3,864.5C1247.0,865.2 1248.7,866.1 1250.4,866.9C1252.1,867.7 1253.7,868.6 1255.4,869.5C1257.1,870.4 1258.8,871.4 1260.5,872.3C1262.1,873.1 1263.8,874.0 1265.5,874.9C1267.2,875.7 1268.9,876.5 1270.5,877.6C1272.2,878.6 1273.9,879.6 1275.6,881.0C1277.3,882.3 1278.9,883.8 1280.6,885.7C1282.3,887.6 1284.0,889.8 1285.7,892.3C1287.3,894.8 1289.0,897.6 1290.7,900.7C1292.4,903.7 1294.1,907.1 1295.7,910.6C1297.4,914.2 1299.1,917.9 1300.8,921.9C1302.5,925.8 1304.1,929.9 1305.8,934.1C1307.5,938.2 1309.2,942.6 1310.9,946.9C1312.5,951.1 1314.2,955.5 1315.9,959.8C1317.6,964.0 1319.3,968.3 1320.9,972.4C1322.6,976.4 1324.3,980.4 1326.0,984.3C1327.7,988.1 1329.3,991.7 1331.0,995.2C1332.7,998.6 1334.4,1001.9 1336.1,1004.8C1337.7,1007.8 1339.4,1010.5 1341.1,1013.1C1342.8,1015.6 1344.5,1017.9 1346.1,1020.2C1347.8,1022.4 1349.5,1024.4 1351.2,1026.5C1352.9,1028.5 1354.5,1030.4 1356.2,1032.4C1357.9,1034.4 1359.6,1036.3 1361.3,1038.3C1362.9,1040.3 1364.6,1042.3 1366.3,1044.3C1368.0,1046.3 1369.7,1048.4 1371.3,1050.4C1373.0,1052.3 1374.7,1054.3 1376.4,1056.1C1378.1,1058.0 1379.7,1059.7 1381.4,1061.4C1383.1,1063.1 1384.8,1064.8 1386.5,1066.4C1388.1,1067.9 1389.8,1069.5 1391.5,1070.9C1393.2,1072.4 1394.9,1073.8 1396.5,1075.1C1398.2,1076.5 1399.9,1077.7 1401.6,1079.0C1403.3,1080.2 1404.9,1081.4 1406.6,1082.5C1408.3,1083.7 1410.0,1084.7 1411.7,1085.8C1413.3,1086.8 1415.0,1087.8 1416.7,1088.8C1418.4,1089.7 1420.1,1090.7 1421.7,1091.5C1423.4,1092.4 1425.1,1093.3 1426.8,1094.1C1428.5,1094.9 1430.1,1095.7 1431.8,1096.4C1433.5,1097.1 1435.2,1097.9 1436.9,1098.6C1438.5,1099.3 1440.2,1099.9 1441.9,1100.6C1443.6,1101.2 1445.3,1101.8 1447.0,1102.4C1448.6,1103.0 1450.3,1103.6 1452.0,1104.2C1453.7,1104.8 1455.4,1105.3 1457.0,1105.8C1458.7,1106.3 1460.4,1106.8 1462.1,1107.3C1463.8,1107.8 1465.4,1108.2 1467.1,1108.7C1468.8,1109.1 1470.5,1109.5 1472.2,1109.9C1473.8,1110.2 1475.5,1110.6 1477.2,1110.9C1478.9,1111.2 1480.6,1111.5 1482.2,1111.8C1483.9,1112.1 1485.6,1112.3 1487.3,1112.5C1489.0,1112.7 1490.6,1112.9 1492.3,1113.1C1494.0,1113.2 1495.7,1113.3 1497.4,1113.4C1499.0,1113.5 1500.7,1113.6 1502.4,1113.6C1504.1,1113.6 1505.8,1113.6 1507.4,1113.6C1509.1,1113.5 1510.8,1113.4 1512.5,1113.3C1514.2,1113.2 1516.7,1112.9 1517.5,1112.9" fill="none" stroke="#0470b1" stroke-width="3.8" stroke-linecap="round" stroke-linejoin="round"/>
<line x1="1049.7" y1="1110.5" x2="1390.4" y2="1110.5" stroke="#1a1a1a" stroke-width="6.7"/>
<line x1="815.0" y1="1128.5" x2="1552.0" y2="1128.5" stroke="#808080" stroke-width="3.0"/>
<line x1="850.5" y1="1128.5" x2="850.5" y2="1136.5" stroke="#808080" stroke-width="2.9"/>
<line x1="980.5" y1="1128.5" x2="980.5" y2="1136.5" stroke="#808080" stroke-width="2.9"/>
<line x1="1110.5" y1="1128.5" x2="1110.5" y2="1136.5" stroke="#808080" stroke-width="2.9"/>
<line x1="1241.5" y1="1128.5" x2="1241.5" y2="1136.5" stroke="#808080" stroke-width="2.9"/>
<line x1="1371.5" y1="1128.5" x2="1371.5" y2="1136.5" stroke="#808080" stroke-width="2.9"/>
<line x1="1501.5" y1="1128.5" x2="1501.5" y2="1136.5" stroke="#808080" stroke-width="2.9"/>
<text class="r" x="850.3" y="1164.0" font-size="24.4" text-anchor="middle">0</text>
<text class="r" x="980.3" y="1164.0" font-size="24.4" text-anchor="middle">1</text>
<text class="r" x="1110.3" y="1164.0" font-size="24.4" text-anchor="middle">2</text>
<text class="r" x="1241.3" y="1164.0" font-size="24.4" text-anchor="middle">3</text>
<text class="r" x="1371.3" y="1164.0" font-size="24.4" text-anchor="middle">4</text>
<text class="r" x="1501.3" y="1164.0" font-size="24.4" text-anchor="middle">5</text>
<text class="t" x="1183.5" y="832.3" font-size="29.7" text-anchor="middle">dmeans</text>
<line x1="849.9" y1="847.5" x2="849.9" y2="1128.5" stroke="#069e73" stroke-width="5.6"/>
<line x1="129" y1="1242.5" x2="129" y2="1524.5" stroke="#cccccc" stroke-width="2"/>
<line x1="290" y1="1242.5" x2="290" y2="1524.5" stroke="#cccccc" stroke-width="2"/>
<line x1="451" y1="1242.5" x2="451" y2="1524.5" stroke="#cccccc" stroke-width="2"/>
<line x1="612" y1="1242.5" x2="612" y2="1524.5" stroke="#cccccc" stroke-width="2"/>
<line x1="773" y1="1242.5" x2="773" y2="1524.5" stroke="#cccccc" stroke-width="2"/>
<text class="c" x="116.5" y="1298.0" font-size="29.4" text-anchor="start">mode=1.41</text>
<text class="c" x="166.2" y="1432.3" font-size="29.4" text-anchor="start">94% HDI</text>
<text class="c" x="19.4" y="1492.9" font-size="29.4" text-anchor="start">0.849</text>
<text class="c" x="358.8" y="1492.9" font-size="29.4" text-anchor="start">2.38</text>
<path d="M85.4,1497.3C86.2,1497.0 88.7,1496.3 90.4,1495.4C92.0,1494.6 93.7,1493.6 95.4,1492.2C97.1,1490.8 98.7,1489.1 100.4,1486.9C102.1,1484.7 103.8,1482.1 105.4,1478.8C107.1,1475.5 108.8,1471.7 110.5,1467.2C112.1,1462.8 113.8,1457.5 115.5,1451.9C117.2,1446.3 118.8,1440.1 120.5,1433.6C122.2,1427.1 123.9,1420.2 125.5,1413.1C127.2,1406.1 128.9,1398.7 130.6,1391.4C132.2,1384.2 133.9,1376.7 135.6,1369.5C137.3,1362.4 138.9,1355.2 140.6,1348.6C142.3,1341.9 143.9,1335.4 145.6,1329.7C147.3,1323.9 149.0,1318.6 150.6,1314.0C152.3,1309.5 154.0,1305.8 155.7,1302.6C157.3,1299.3 159.0,1296.9 160.7,1294.5C162.4,1292.2 164.0,1290.4 165.7,1288.5C167.4,1286.6 169.1,1285.0 170.7,1283.1C172.4,1281.2 174.1,1279.3 175.8,1277.2C177.4,1275.2 179.1,1273.0 180.8,1270.8C182.5,1268.5 184.1,1265.9 185.8,1263.8C187.5,1261.7 189.2,1259.4 190.8,1258.1C192.5,1256.8 194.2,1256.1 195.9,1256.2C197.5,1256.3 199.2,1257.3 200.9,1258.7C202.5,1260.1 204.2,1262.3 205.9,1264.6C207.6,1267.0 209.2,1269.8 210.9,1272.7C212.6,1275.5 214.3,1278.7 215.9,1281.6C217.6,1284.6 219.3,1287.6 221.0,1290.3C222.6,1293.0 224.3,1295.5 226.0,1297.8C227.7,1300.1 229.3,1302.0 231.0,1304.1C232.7,1306.3 234.4,1308.3 236.0,1310.7C237.7,1313.1 239.4,1315.7 241.1,1318.6C242.7,1321.5 244.4,1324.7 246.1,1328.1C247.8,1331.5 249.4,1335.4 251.1,1339.1C252.8,1342.9 254.4,1346.8 256.1,1350.5C257.8,1354.1 259.5,1357.7 261.1,1361.0C262.8,1364.4 264.5,1367.7 266.2,1370.7C267.8,1373.8 269.5,1376.8 271.2,1379.6C272.9,1382.3 274.5,1385.0 276.2,1387.5C277.9,1389.9 279.6,1392.2 281.2,1394.5C282.9,1396.7 284.6,1398.7 286.3,1400.8C287.9,1402.9 289.6,1404.9 291.3,1407.1C293.0,1409.2 294.6,1411.4 296.3,1413.7C298.0,1416.0 299.7,1418.5 301.3,1421.0C303.0,1423.5 304.7,1426.1 306.4,1428.7C308.0,1431.3 309.7,1433.9 311.4,1436.4C313.0,1439.0 314.7,1441.5 316.4,1443.9C318.1,1446.3 319.7,1448.6 321.4,1450.7C323.1,1452.8 324.8,1454.8 326.4,1456.6C328.1,1458.5 329.8,1460.1 331.5,1461.7C333.1,1463.3 334.8,1464.8 336.5,1466.2C338.2,1467.6 339.8,1468.8 341.5,1470.1C343.2,1471.3 344.9,1472.4 346.5,1473.5C348.2,1474.6 349.9,1475.6 351.6,1476.5C353.2,1477.5 354.9,1478.4 356.6,1479.3C358.3,1480.3 359.9,1481.1 361.6,1482.0C363.3,1482.9 364.9,1483.7 366.6,1484.6C368.3,1485.4 370.0,1486.2 371.6,1487.0C373.3,1487.8 375.0,1488.5 376.7,1489.2C378.3,1489.9 380.0,1490.5 381.7,1491.1C383.4,1491.7 385.0,1492.2 386.7,1492.6C388.4,1493.1 390.1,1493.5 391.7,1493.9C393.4,1494.3 395.1,1494.6 396.8,1494.9C398.4,1495.2 400.1,1495.5 401.8,1495.8C403.5,1496.0 405.1,1496.2 406.8,1496.5C408.5,1496.7 410.2,1496.9 411.8,1497.1C413.5,1497.3 415.2,1497.6 416.9,1497.8C418.5,1498.0 420.2,1498.2 421.9,1498.5C423.5,1498.8 425.2,1499.0 426.9,1499.3C428.6,1499.6 430.2,1499.9 431.9,1500.2C433.6,1500.6 435.3,1500.9 436.9,1501.2C438.6,1501.6 440.3,1501.9 442.0,1502.2C443.6,1502.6 445.3,1502.9 447.0,1503.3C448.7,1503.6 450.3,1503.9 452.0,1504.3C453.7,1504.6 455.4,1504.9 457.0,1505.2C458.7,1505.5 460.4,1505.8 462.1,1506.1C463.7,1506.4 465.4,1506.6 467.1,1506.9C468.8,1507.1 470.4,1507.3 472.1,1507.5C473.8,1507.7 475.5,1507.9 477.1,1508.0C478.8,1508.2 480.5,1508.3 482.1,1508.4C483.8,1508.6 485.5,1508.7 487.2,1508.8C488.8,1508.8 490.5,1508.9 492.2,1509.0C493.9,1509.1 495.5,1509.1 497.2,1509.2C498.9,1509.2 500.6,1509.2 502.2,1509.3C503.9,1509.3 505.6,1509.3 507.3,1509.3C508.9,1509.3 510.6,1509.3 512.3,1509.3C514.0,1509.3 515.6,1509.3 517.3,1509.3C519.0,1509.3 520.7,1509.3 522.3,1509.2C524.0,1509.2 525.7,1509.2 527.4,1509.2C529.0,1509.2 530.7,1509.1 532.4,1509.1C534.0,1509.1 535.7,1509.1 537.4,1509.1C539.1,1509.1 540.7,1509.0 542.4,1509.0C544.1,1509.0 545.8,1509.0 547.4,1509.0C549.1,1509.0 550.8,1509.1 552.5,1509.1C554.1,1509.1 555.8,1509.1 557.5,1509.2C559.2,1509.2 560.8,1509.2 562.5,1509.3C564.2,1509.3 565.9,1509.4 567.5,1509.4C569.2,1509.5 570.9,1509.5 572.6,1509.6C574.2,1509.6 575.9,1509.7 577.6,1509.7C579.3,1509.8 580.9,1509.8 582.6,1509.9C584.3,1509.9 586.0,1510.0 587.6,1510.0C589.3,1510.1 591.0,1510.1 592.6,1510.1C594.3,1510.2 596.0,1510.2 597.7,1510.2C599.3,1510.3 601.0,1510.3 602.7,1510.3C604.4,1510.4 606.0,1510.4 607.7,1510.4C609.4,1510.4 611.1,1510.4 612.7,1510.4C614.4,1510.5 616.1,1510.5 617.8,1510.5C619.4,1510.5 621.1,1510.5 622.8,1510.5C624.5,1510.5 626.1,1510.5 627.8,1510.5C629.5,1510.5 631.2,1510.5 632.8,1510.5C634.5,1510.5 636.2,1510.5 637.9,1510.5C639.5,1510.5 641.2,1510.5 642.9,1510.5C644.5,1510.5 646.2,1510.5 647.9,1510.5C649.6,1510.5 651.2,1510.5 652.9,1510.5C654.6,1510.5 656.3,1510.5 657.9,1510.5C659.6,1510.5 661.3,1510.5 663.0,1510.5C664.6,1510.5 666.3,1510.5 668.0,1510.5C669.7,1510.5 671.3,1510.5 673.0,1510.5C674.7,1510.5 676.4,1510.5 678.0,1510.5C679.7,1510.5 681.4,1510.5 683.1,1510.5C684.7,1510.6 686.4,1510.6 688.1,1510.6C689.8,1510.6 691.4,1510.6 693.1,1510.6C694.8,1510.6 696.5,1510.6 698.1,1510.6C699.8,1510.6 701.5,1510.6 703.1,1510.6C704.8,1510.6 706.5,1510.6 708.2,1510.6C709.8,1510.6 711.5,1510.6 713.2,1510.6C714.9,1510.6 716.5,1510.5 718.2,1510.5C719.9,1510.5 721.6,1510.5 723.2,1510.4C724.9,1510.4 726.6,1510.3 728.3,1510.3C729.9,1510.2 731.6,1510.1 733.3,1510.1C735.0,1510.0 736.6,1509.9 738.3,1509.8C740.0,1509.7 741.7,1509.6 743.3,1509.5C745.0,1509.4 746.7,1509.2 748.4,1509.1C750.0,1509.0 752.5,1508.7 753.4,1508.6" fill="none" stroke="#0470b1" stroke-width="3.8" stroke-linecap="round" stroke-linejoin="round"/>
<line x1="105.7" y1="1506.5" x2="351.6" y2="1506.5" stroke="#1a1a1a" stroke-width="6.7"/>
<line x1="51.0" y1="1524.5" x2="788.0" y2="1524.5" stroke="#808080" stroke-width="3.0"/>
<line x1="129.5" y1="1524.5" x2="129.5" y2="1532.5" stroke="#808080" stroke-width="2.9"/>
<line x1="290.5" y1="1524.5" x2="290.5" y2="1532.5" stroke="#808080" stroke-width="2.9"/>
<line x1="451.5" y1="1524.5" x2="451.5" y2="1532.5" stroke="#808080" stroke-width="2.9"/>
<line x1="612.5" y1="1524.5" x2="612.5" y2="1532.5" stroke="#808080" stroke-width="2.9"/>
<line x1="773.5" y1="1524.5" x2="773.5" y2="1532.5" stroke="#808080" stroke-width="2.9"/>
<text class="r" x="129.3" y="1560.0" font-size="24.4" text-anchor="middle">1</text>
<text class="r" x="290.3" y="1560.0" font-size="24.4" text-anchor="middle">2</text>
<text class="r" x="451.3" y="1560.0" font-size="24.4" text-anchor="middle">3</text>
<text class="r" x="612.3" y="1560.0" font-size="24.4" text-anchor="middle">4</text>
<text class="r" x="773.3" y="1560.0" font-size="24.4" text-anchor="middle">5</text>
<text class="t" x="419.5" y="1227.3" font-size="29.7" text-anchor="middle">sigma_West</text>
<line x1="872" y1="1242.5" x2="872" y2="1524.5" stroke="#cccccc" stroke-width="2"/>
<line x1="999" y1="1242.5" x2="999" y2="1524.5" stroke="#cccccc" stroke-width="2"/>
<line x1="1126" y1="1242.5" x2="1126" y2="1524.5" stroke="#cccccc" stroke-width="2"/>
<line x1="1253" y1="1242.5" x2="1253" y2="1524.5" stroke="#cccccc" stroke-width="2"/>
<line x1="1380" y1="1242.5" x2="1380" y2="1524.5" stroke="#cccccc" stroke-width="2"/>
<line x1="1506" y1="1242.5" x2="1506" y2="1524.5" stroke="#cccccc" stroke-width="2"/>
<text class="c" x="978.9" y="1298.0" font-size="29.4" text-anchor="start">mode=0.519</text>
<text class="c" x="1026.1" y="1432.3" font-size="29.4" text-anchor="start">95% HDI</text>
<text class="c" x="867.6" y="1492.9" font-size="29.4" text-anchor="start">-0.297</text>
<text class="c" x="1219.5" y="1492.9" font-size="29.4" text-anchor="start">1.68</text>
<path d="M848.9,1508.4C849.8,1508.6 852.3,1509.2 853.9,1509.5C855.6,1509.8 857.3,1510.0 859.0,1510.2C860.6,1510.4 862.3,1510.5 864.0,1510.6C865.7,1510.7 867.3,1510.8 869.0,1510.8C870.7,1510.8 872.4,1510.7 874.0,1510.6C875.7,1510.6 877.4,1510.4 879.1,1510.3C880.7,1510.1 882.4,1509.9 884.1,1509.7C885.8,1509.5 887.4,1509.3 889.1,1509.0C890.8,1508.7 892.5,1508.4 894.1,1508.0C895.8,1507.7 897.5,1507.4 899.1,1507.0C900.8,1506.6 902.5,1506.2 904.2,1505.8C905.8,1505.4 907.5,1505.0 909.2,1504.6C910.9,1504.1 912.5,1503.7 914.2,1503.3C915.9,1502.8 917.6,1502.4 919.2,1502.0C920.9,1501.5 922.6,1501.1 924.3,1500.7C925.9,1500.3 927.6,1499.9 929.3,1499.5C931.0,1499.1 932.6,1498.7 934.3,1498.3C936.0,1498.0 937.7,1497.6 939.3,1497.2C941.0,1496.8 942.7,1496.4 944.4,1495.8C946.0,1495.3 947.7,1494.7 949.4,1493.9C951.1,1493.1 952.7,1492.2 954.4,1491.0C956.1,1489.8 957.8,1488.5 959.4,1486.9C961.1,1485.3 962.8,1483.5 964.5,1481.5C966.1,1479.4 967.8,1477.2 969.5,1474.8C971.1,1472.3 972.8,1469.7 974.5,1466.9C976.2,1464.1 977.8,1461.1 979.5,1457.9C981.2,1454.8 982.9,1451.5 984.5,1448.0C986.2,1444.5 987.9,1440.8 989.6,1437.0C991.2,1433.2 992.9,1429.3 994.6,1425.2C996.3,1421.0 997.9,1416.8 999.6,1412.4C1001.3,1408.0 1003.0,1403.5 1004.6,1398.8C1006.3,1394.1 1008.0,1389.3 1009.7,1384.4C1011.3,1379.5 1013.0,1374.4 1014.7,1369.2C1016.4,1364.1 1018.0,1358.7 1019.7,1353.4C1021.4,1348.0 1023.1,1342.5 1024.7,1337.1C1026.4,1331.7 1028.1,1326.3 1029.8,1321.0C1031.4,1315.8 1033.1,1310.6 1034.8,1305.7C1036.5,1300.8 1038.1,1296.0 1039.8,1291.7C1041.5,1287.3 1043.1,1283.2 1044.8,1279.5C1046.5,1275.9 1048.2,1272.5 1049.8,1269.7C1051.5,1266.8 1053.2,1264.3 1054.9,1262.3C1056.5,1260.3 1058.2,1258.7 1059.9,1257.6C1061.6,1256.5 1063.2,1255.9 1064.9,1255.8C1066.6,1255.8 1068.3,1256.2 1069.9,1257.1C1071.6,1258.0 1073.3,1259.6 1075.0,1261.3C1076.6,1263.1 1078.3,1265.4 1080.0,1267.6C1081.7,1269.7 1083.3,1272.1 1085.0,1274.2C1086.7,1276.4 1088.4,1278.3 1090.0,1280.4C1091.7,1282.4 1093.4,1284.4 1095.1,1286.6C1096.7,1288.7 1098.4,1290.9 1100.1,1293.5C1101.8,1296.0 1103.4,1298.7 1105.1,1301.7C1106.8,1304.7 1108.5,1308.0 1110.1,1311.5C1111.8,1314.9 1113.5,1318.6 1115.1,1322.3C1116.8,1326.1 1118.5,1330.1 1120.2,1334.1C1121.8,1338.1 1123.5,1342.3 1125.2,1346.4C1126.9,1350.6 1128.5,1354.9 1130.2,1359.1C1131.9,1363.3 1133.6,1367.6 1135.2,1371.8C1136.9,1376.0 1138.6,1380.2 1140.3,1384.3C1141.9,1388.3 1143.6,1392.3 1145.3,1396.2C1147.0,1400.0 1148.6,1403.8 1150.3,1407.3C1152.0,1410.9 1153.7,1414.3 1155.3,1417.5C1157.0,1420.8 1158.7,1423.9 1160.4,1426.7C1162.0,1429.6 1163.7,1432.3 1165.4,1434.7C1167.1,1437.2 1168.7,1439.4 1170.4,1441.4C1172.1,1443.4 1173.8,1445.2 1175.4,1446.9C1177.1,1448.6 1178.8,1450.0 1180.5,1451.5C1182.1,1452.9 1183.8,1454.2 1185.5,1455.6C1187.1,1456.9 1188.8,1458.2 1190.5,1459.5C1192.2,1460.8 1193.8,1462.0 1195.5,1463.4C1197.2,1464.7 1198.9,1466.0 1200.5,1467.3C1202.2,1468.7 1203.9,1470.0 1205.6,1471.5C1207.2,1472.9 1208.9,1474.4 1210.6,1475.9C1212.3,1477.5 1213.9,1479.1 1215.6,1480.7C1217.3,1482.3 1219.0,1483.9 1220.6,1485.5C1222.3,1487.0 1224.0,1488.6 1225.7,1489.9C1227.3,1491.3 1229.0,1492.6 1230.7,1493.8C1232.4,1494.9 1234.0,1495.9 1235.7,1496.8C1237.4,1497.7 1239.1,1498.5 1240.7,1499.2C1242.4,1499.8 1244.1,1500.4 1245.8,1500.9C1247.4,1501.4 1249.1,1501.8 1250.8,1502.2C1252.4,1502.6 1254.1,1502.9 1255.8,1503.1C1257.5,1503.3 1259.1,1503.5 1260.8,1503.7C1262.5,1503.9 1264.2,1504.0 1265.8,1504.1C1267.5,1504.2 1269.2,1504.3 1270.9,1504.4C1272.5,1504.5 1274.2,1504.6 1275.9,1504.7C1277.6,1504.8 1279.2,1504.9 1280.9,1505.0C1282.6,1505.1 1284.3,1505.2 1285.9,1505.3C1287.6,1505.4 1289.3,1505.5 1291.0,1505.6C1292.6,1505.7 1294.3,1505.8 1296.0,1505.9C1297.7,1506.1 1299.3,1506.2 1301.0,1506.3C1302.7,1506.5 1304.4,1506.6 1306.0,1506.8C1307.7,1506.9 1309.4,1507.1 1311.1,1507.3C1312.7,1507.4 1314.4,1507.6 1316.1,1507.8C1317.8,1508.0 1319.4,1508.2 1321.1,1508.4C1322.8,1508.6 1324.4,1508.8 1326.1,1508.9C1327.8,1509.1 1329.5,1509.3 1331.1,1509.4C1332.8,1509.5 1334.5,1509.6 1336.2,1509.7C1337.8,1509.7 1339.5,1509.7 1341.2,1509.7C1342.9,1509.7 1344.5,1509.7 1346.2,1509.6C1347.9,1509.6 1349.6,1509.5 1351.2,1509.5C1352.9,1509.4 1354.6,1509.4 1356.3,1509.3C1357.9,1509.3 1359.6,1509.3 1361.3,1509.2C1363.0,1509.2 1364.6,1509.2 1366.3,1509.2C1368.0,1509.2 1369.7,1509.2 1371.3,1509.2C1373.0,1509.2 1374.7,1509.2 1376.4,1509.2C1378.0,1509.3 1379.7,1509.3 1381.4,1509.3C1383.1,1509.4 1384.7,1509.4 1386.4,1509.4C1388.1,1509.5 1389.8,1509.5 1391.4,1509.6C1393.1,1509.6 1394.8,1509.7 1396.4,1509.7C1398.1,1509.8 1399.8,1509.8 1401.5,1509.9C1403.1,1509.9 1404.8,1510.0 1406.5,1510.1C1408.2,1510.1 1409.8,1510.2 1411.5,1510.2C1413.2,1510.3 1414.9,1510.4 1416.5,1510.4C1418.2,1510.5 1419.9,1510.5 1421.6,1510.6C1423.2,1510.6 1424.9,1510.7 1426.6,1510.7C1428.3,1510.8 1429.9,1510.8 1431.6,1510.8C1433.3,1510.9 1435.0,1510.9 1436.6,1510.9C1438.3,1511.0 1440.0,1511.0 1441.7,1511.0C1443.3,1511.0 1445.0,1511.1 1446.7,1511.1C1448.4,1511.1 1450.0,1511.1 1451.7,1511.1C1453.4,1511.1 1455.1,1511.1 1456.7,1511.0C1458.4,1511.0 1460.1,1511.0 1461.8,1511.0C1463.4,1511.0 1465.1,1510.9 1466.8,1510.9C1468.4,1510.9 1470.1,1510.8 1471.8,1510.8C1473.5,1510.7 1475.1,1510.7 1476.8,1510.6C1478.5,1510.6 1480.2,1510.5 1481.8,1510.5C1483.5,1510.4 1485.2,1510.3 1486.9,1510.3C1488.5,1510.2 1490.2,1510.1 1491.9,1510.1C1493.6,1510.0 1495.2,1509.9 1496.9,1509.8C1498.6,1509.7 1500.3,1509.6 1501.9,1509.5C1503.6,1509.5 1505.3,1509.4 1507.0,1509.3C1508.6,1509.2 1510.3,1509.0 1512.0,1508.9C1513.7,1508.8 1516.2,1508.7 1517.0,1508.6" fill="none" stroke="#0470b1" stroke-width="3.8" stroke-linecap="round" stroke-linejoin="round"/>
<line x1="963.1" y1="1506.5" x2="1213.3" y2="1506.5" stroke="#1a1a1a" stroke-width="6.7"/>
<line x1="815.0" y1="1524.5" x2="1552.0" y2="1524.5" stroke="#808080" stroke-width="3.0"/>
<line x1="872.5" y1="1524.5" x2="872.5" y2="1532.5" stroke="#808080" stroke-width="2.9"/>
<line x1="999.5" y1="1524.5" x2="999.5" y2="1532.5" stroke="#808080" stroke-width="2.9"/>
<line x1="1126.5" y1="1524.5" x2="1126.5" y2="1532.5" stroke="#808080" stroke-width="2.9"/>
<line x1="1253.5" y1="1524.5" x2="1253.5" y2="1532.5" stroke="#808080" stroke-width="2.9"/>
<line x1="1380.5" y1="1524.5" x2="1380.5" y2="1532.5" stroke="#808080" stroke-width="2.9"/>
<line x1="1506.5" y1="1524.5" x2="1506.5" y2="1532.5" stroke="#808080" stroke-width="2.9"/>
<text class="r" x="872.3" y="1560.0" font-size="24.4" text-anchor="middle">−1</text>
<text class="r" x="999.3" y="1560.0" font-size="24.4" text-anchor="middle">0</text>
<text class="r" x="1126.3" y="1560.0" font-size="24.4" text-anchor="middle">1</text>
<text class="r" x="1253.3" y="1560.0" font-size="24.4" text-anchor="middle">2</text>
<text class="r" x="1380.3" y="1560.0" font-size="24.4" text-anchor="middle">3</text>
<text class="r" x="1506.3" y="1560.0" font-size="24.4" text-anchor="middle">4</text>
<text class="t" x="1183.5" y="1227.3" font-size="29.7" text-anchor="middle">dsigmas</text>
<line x1="999.0" y1="1242.5" x2="999.0" y2="1524.5" stroke="#069e73" stroke-width="5.6"/>
<line x1="79" y1="1637.5" x2="79" y2="1919.5" stroke="#cccccc" stroke-width="2"/>
<line x1="185" y1="1637.5" x2="185" y2="1919.5" stroke="#cccccc" stroke-width="2"/>
<line x1="290" y1="1637.5" x2="290" y2="1919.5" stroke="#cccccc" stroke-width="2"/>
<line x1="395" y1="1637.5" x2="395" y2="1919.5" stroke="#cccccc" stroke-width="2"/>
<line x1="500" y1="1637.5" x2="500" y2="1919.5" stroke="#cccccc" stroke-width="2"/>
<line x1="606" y1="1637.5" x2="606" y2="1919.5" stroke="#cccccc" stroke-width="2"/>
<line x1="711" y1="1637.5" x2="711" y2="1919.5" stroke="#cccccc" stroke-width="2"/>
<text class="c" x="74.7" y="1693.0" font-size="29.4" text-anchor="start">mode=12</text>
<text class="c" x="155.2" y="1827.3" font-size="29.4" text-anchor="start">94% HDI</text>
<text class="c" x="41.6" y="1887.9" font-size="29.4" text-anchor="start">2.5</text>
<text class="c" x="349.4" y="1887.9" font-size="29.4" text-anchor="start">50</text>
<path d="M85.4,1827.5C86.2,1826.7 88.7,1826.5 90.4,1822.6C92.0,1818.7 93.7,1811.6 95.4,1804.1C97.1,1796.7 98.7,1786.9 100.4,1777.6C102.1,1768.3 103.8,1757.7 105.4,1748.4C107.1,1739.2 108.8,1729.9 110.5,1722.1C112.1,1714.3 113.8,1707.9 115.5,1701.9C117.2,1695.8 118.8,1690.8 120.5,1685.7C122.2,1680.6 123.9,1675.6 125.5,1671.3C127.2,1667.0 128.9,1663.0 130.6,1660.0C132.2,1656.9 133.9,1654.5 135.6,1653.0C137.3,1651.5 138.9,1650.7 140.6,1650.8C142.3,1650.9 143.9,1651.8 145.6,1653.7C147.3,1655.6 149.0,1658.4 150.6,1662.1C152.3,1665.8 154.0,1671.0 155.7,1675.7C157.3,1680.5 159.0,1685.7 160.7,1690.5C162.4,1695.2 164.0,1700.1 165.7,1704.4C167.4,1708.7 169.1,1713.1 170.7,1716.2C172.4,1719.4 174.1,1721.6 175.8,1723.5C177.4,1725.3 179.1,1726.4 180.8,1727.5C182.5,1728.6 184.1,1729.2 185.8,1730.2C187.5,1731.2 189.2,1732.0 190.8,1733.5C192.5,1735.0 194.2,1736.8 195.9,1739.2C197.5,1741.5 199.2,1744.5 200.9,1747.6C202.5,1750.7 204.2,1754.2 205.9,1757.5C207.6,1760.8 209.2,1764.4 210.9,1767.5C212.6,1770.6 214.3,1773.5 215.9,1776.2C217.6,1778.9 219.3,1781.3 221.0,1783.5C222.6,1785.7 224.3,1787.7 226.0,1789.6C227.7,1791.5 229.3,1793.1 231.0,1794.7C232.7,1796.2 234.4,1797.6 236.0,1799.0C237.7,1800.3 239.4,1801.5 241.1,1802.7C242.7,1804.0 244.4,1805.1 246.1,1806.5C247.8,1807.8 249.4,1809.2 251.1,1810.8C252.8,1812.4 254.4,1814.2 256.1,1816.2C257.8,1818.2 259.5,1820.5 261.1,1822.8C262.8,1825.0 264.5,1827.5 266.2,1829.8C267.8,1832.1 269.5,1834.5 271.2,1836.7C272.9,1838.8 274.5,1840.9 276.2,1842.7C277.9,1844.4 279.6,1845.9 281.2,1847.2C282.9,1848.6 284.6,1849.6 286.3,1851.0C287.9,1852.4 289.6,1853.8 291.3,1855.4C293.0,1857.0 294.6,1859.0 296.3,1860.6C298.0,1862.2 299.7,1863.8 301.3,1865.1C303.0,1866.4 304.7,1867.5 306.4,1868.5C308.0,1869.5 309.7,1870.3 311.4,1871.0C313.0,1871.8 314.7,1872.3 316.4,1872.8C318.1,1873.3 319.7,1873.6 321.4,1873.9C323.1,1874.2 324.8,1874.3 326.4,1874.5C328.1,1874.7 329.8,1874.9 331.5,1875.1C333.1,1875.4 334.8,1875.7 336.5,1876.2C338.2,1876.7 339.8,1877.3 341.5,1878.1C343.2,1878.9 344.9,1879.8 346.5,1880.8C348.2,1881.7 349.9,1882.8 351.6,1883.8C353.2,1884.8 354.9,1885.9 356.6,1886.8C358.3,1887.8 359.9,1888.7 361.6,1889.4C363.3,1890.2 364.9,1890.8 366.6,1891.3C368.3,1891.8 370.0,1892.2 371.6,1892.5C373.3,1892.8 375.0,1893.0 376.7,1893.2C378.3,1893.4 380.0,1893.5 381.7,1893.6C383.4,1893.7 385.0,1893.8 386.7,1893.9C388.4,1894.0 390.1,1894.2 391.7,1894.4C393.4,1894.7 395.1,1895.0 396.8,1895.4C398.4,1895.8 400.1,1896.2 401.8,1896.7C403.5,1897.1 405.1,1897.6 406.8,1898.0C408.5,1898.4 410.2,1898.9 411.8,1899.2C413.5,1899.6 415.2,1899.9 416.9,1900.1C418.5,1900.3 420.2,1900.5 421.9,1900.5C423.5,1900.5 425.2,1900.4 426.9,1900.3C428.6,1900.1 430.2,1899.8 431.9,1899.6C433.6,1899.3 435.3,1899.0 436.9,1898.8C438.6,1898.6 440.3,1898.3 442.0,1898.2C443.6,1898.1 445.3,1898.0 447.0,1898.1C448.7,1898.1 450.3,1898.4 452.0,1898.6C453.7,1898.8 455.4,1899.2 457.0,1899.5C458.7,1899.8 460.4,1900.1 462.1,1900.3C463.7,1900.6 465.4,1900.7 467.1,1900.8C468.8,1900.8 470.4,1900.8 472.1,1900.7C473.8,1900.7 475.5,1900.5 477.1,1900.4C478.8,1900.3 480.5,1900.2 482.1,1900.1C483.8,1900.1 485.5,1900.0 487.2,1900.1C488.8,1900.1 490.5,1900.3 492.2,1900.5C493.9,1900.6 495.5,1900.9 497.2,1901.2C498.9,1901.5 500.6,1901.8 502.2,1902.0C503.9,1902.3 505.6,1902.5 507.3,1902.7C508.9,1902.9 510.6,1903.0 512.3,1903.1C514.0,1903.2 515.6,1903.2 517.3,1903.3C519.0,1903.3 520.7,1903.3 522.3,1903.3C524.0,1903.3 525.7,1903.2 527.4,1903.2C529.0,1903.3 530.7,1903.3 532.4,1903.3C534.0,1903.4 535.7,1903.4 537.4,1903.5C539.1,1903.6 540.7,1903.7 542.4,1903.8C544.1,1903.9 545.8,1904.0 547.4,1904.0C549.1,1904.1 550.8,1904.2 552.5,1904.3C554.1,1904.3 555.8,1904.4 557.5,1904.4C559.2,1904.5 560.8,1904.5 562.5,1904.5C564.2,1904.6 565.9,1904.6 567.5,1904.6C569.2,1904.6 570.9,1904.7 572.6,1904.7C574.2,1904.7 575.9,1904.7 577.6,1904.7C579.3,1904.8 580.9,1904.8 582.6,1904.8C584.3,1904.8 586.0,1904.9 587.6,1904.9C589.3,1904.9 591.0,1905.0 592.6,1905.0C594.3,1905.1 596.0,1905.1 597.7,1905.2C599.3,1905.2 601.0,1905.3 602.7,1905.4C604.4,1905.4 606.0,1905.5 607.7,1905.5C609.4,1905.6 611.1,1905.6 612.7,1905.6C614.4,1905.7 616.1,1905.7 617.8,1905.7C619.4,1905.7 621.1,1905.6 622.8,1905.6C624.5,1905.6 626.1,1905.5 627.8,1905.5C629.5,1905.4 631.2,1905.4 632.8,1905.3C634.5,1905.2 636.2,1905.1 637.9,1905.0C639.5,1904.9 641.2,1904.8 642.9,1904.7C644.5,1904.6 646.2,1904.5 647.9,1904.5C649.6,1904.4 651.2,1904.4 652.9,1904.3C654.6,1904.3 656.3,1904.3 657.9,1904.4C659.6,1904.4 661.3,1904.5 663.0,1904.6C664.6,1904.7 666.3,1904.8 668.0,1905.0C669.7,1905.1 671.3,1905.2 673.0,1905.4C674.7,1905.5 676.4,1905.6 678.0,1905.7C679.7,1905.8 681.4,1905.9 683.1,1906.0C684.7,1906.1 686.4,1906.2 688.1,1906.2C689.8,1906.3 691.4,1906.4 693.1,1906.4C694.8,1906.4 696.5,1906.5 698.1,1906.5C699.8,1906.5 701.5,1906.5 703.1,1906.5C704.8,1906.5 706.5,1906.5 708.2,1906.5C709.8,1906.5 711.5,1906.5 713.2,1906.5C714.9,1906.4 716.5,1906.4 718.2,1906.4C719.9,1906.3 721.6,1906.3 723.2,1906.2C724.9,1906.2 726.6,1906.1 728.3,1906.0C729.9,1906.0 731.6,1905.9 733.3,1905.8C735.0,1905.7 736.6,1905.7 738.3,1905.6C740.0,1905.5 741.7,1905.4 743.3,1905.3C745.0,1905.2 746.7,1905.1 748.4,1905.0C750.0,1904.9 752.5,1904.8 753.4,1904.7" fill="none" stroke="#0470b1" stroke-width="3.8" stroke-linecap="round" stroke-linejoin="round"/>
<line x1="93.8" y1="1901.5" x2="341.4" y2="1901.5" stroke="#1a1a1a" stroke-width="6.7"/>
<line x1="51.0" y1="1919.5" x2="788.0" y2="1919.5" stroke="#808080" stroke-width="3.0"/>
<line x1="79.5" y1="1919.5" x2="79.5" y2="1927.5" stroke="#808080" stroke-width="2.9"/>
<line x1="185.5" y1="1919.5" x2="185.5" y2="1927.5" stroke="#808080" stroke-width="2.9"/>
<line x1="290.5" y1="1919.5" x2="290.5" y2="1927.5" stroke="#808080" stroke-width="2.9"/>
<line x1="395.5" y1="1919.5" x2="395.5" y2="1927.5" stroke="#808080" stroke-width="2.9"/>
<line x1="500.5" y1="1919.5" x2="500.5" y2="1927.5" stroke="#808080" stroke-width="2.9"/>
<line x1="606.5" y1="1919.5" x2="606.5" y2="1927.5" stroke="#808080" stroke-width="2.9"/>
<line x1="711.5" y1="1919.5" x2="711.5" y2="1927.5" stroke="#808080" stroke-width="2.9"/>
<text class="r" x="79.3" y="1955.0" font-size="24.4" text-anchor="middle">0</text>
<text class="r" x="185.3" y="1955.0" font-size="24.4" text-anchor="middle">20</text>
<text class="r" x="290.3" y="1955.0" font-size="24.4" text-anchor="middle">40</text>
<text class="r" x="395.3" y="1955.0" font-size="24.4" text-anchor="middle">60</text>
<text class="r" x="500.3" y="1955.0" font-size="24.4" text-anchor="middle">80</text>
<text class="r" x="606.3" y="1955.0" font-size="24.4" text-anchor="middle">100</text>
<text class="r" x="711.3" y="1955.0" font-size="24.4" text-anchor="middle">120</text>
<text class="t" x="419.5" y="1622.3" font-size="29.7" text-anchor="middle">nu</text>
<line x1="953" y1="1637.5" x2="953" y2="1919.5" stroke="#cccccc" stroke-width="2"/>
<line x1="1095" y1="1637.5" x2="1095" y2="1919.5" stroke="#cccccc" stroke-width="2"/>
<line x1="1236" y1="1637.5" x2="1236" y2="1919.5" stroke="#cccccc" stroke-width="2"/>
<line x1="1378" y1="1637.5" x2="1378" y2="1919.5" stroke="#cccccc" stroke-width="2"/>
<line x1="1520" y1="1637.5" x2="1520" y2="1919.5" stroke="#cccccc" stroke-width="2"/>
<text class="c" x="1068.1" y="1693.0" font-size="29.4" text-anchor="start">mode=2.36</text>
<text class="c" x="1089.2" y="1827.3" font-size="29.4" text-anchor="start">94% HDI</text>
<text class="c" x="890.3" y="1887.9" font-size="29.4" text-anchor="start">1.04</text>
<text class="c" x="1351.2" y="1887.9" font-size="29.4" text-anchor="start">3.75</text>
<path d="M848.9,1898.7C849.8,1898.7 852.3,1898.6 853.9,1898.5C855.6,1898.5 857.3,1898.4 859.0,1898.4C860.6,1898.3 862.3,1898.2 864.0,1898.2C865.7,1898.1 867.3,1898.0 869.0,1897.9C870.7,1897.8 872.4,1897.6 874.1,1897.5C875.7,1897.3 877.4,1897.1 879.1,1896.8C880.8,1896.6 882.4,1896.3 884.1,1896.0C885.8,1895.7 887.5,1895.3 889.1,1894.9C890.8,1894.5 892.5,1894.0 894.2,1893.4C895.8,1892.9 897.5,1892.3 899.2,1891.7C900.9,1891.0 902.5,1890.3 904.2,1889.6C905.9,1888.9 907.6,1888.1 909.2,1887.3C910.9,1886.5 912.6,1885.6 914.3,1884.7C915.9,1883.8 917.6,1882.9 919.3,1882.0C921.0,1881.0 922.6,1880.1 924.3,1879.1C926.0,1878.1 927.7,1877.1 929.4,1876.1C931.0,1875.0 932.7,1874.0 934.4,1873.0C936.1,1871.9 937.7,1870.9 939.4,1869.8C941.1,1868.7 942.8,1867.6 944.4,1866.4C946.1,1865.3 947.8,1864.1 949.5,1862.8C951.1,1861.6 952.8,1860.3 954.5,1858.9C956.2,1857.5 957.8,1856.1 959.5,1854.6C961.2,1853.1 962.9,1851.5 964.5,1849.8C966.2,1848.1 967.9,1846.3 969.6,1844.4C971.2,1842.5 972.9,1840.5 974.6,1838.4C976.3,1836.3 977.9,1834.0 979.6,1831.7C981.3,1829.3 983.0,1826.8 984.6,1824.2C986.3,1821.7 988.0,1819.0 989.7,1816.2C991.4,1813.4 993.0,1810.5 994.7,1807.5C996.4,1804.5 998.1,1801.5 999.7,1798.3C1001.4,1795.2 1003.1,1791.9 1004.8,1788.7C1006.4,1785.4 1008.1,1782.1 1009.8,1778.8C1011.5,1775.6 1013.1,1772.3 1014.8,1769.1C1016.5,1765.9 1018.2,1762.8 1019.8,1759.7C1021.5,1756.7 1023.2,1753.8 1024.9,1750.9C1026.5,1748.1 1028.2,1745.3 1029.9,1742.6C1031.6,1739.9 1033.2,1737.3 1034.9,1734.8C1036.6,1732.3 1038.3,1729.8 1039.9,1727.5C1041.6,1725.1 1043.3,1722.8 1045.0,1720.6C1046.6,1718.4 1048.3,1716.3 1050.0,1714.2C1051.7,1712.2 1053.4,1710.2 1055.0,1708.3C1056.7,1706.4 1058.4,1704.5 1060.1,1702.7C1061.7,1701.0 1063.4,1699.2 1065.1,1697.6C1066.8,1695.9 1068.4,1694.4 1070.1,1692.8C1071.8,1691.3 1073.5,1689.8 1075.1,1688.4C1076.8,1687.0 1078.5,1685.6 1080.2,1684.3C1081.8,1682.9 1083.5,1681.7 1085.2,1680.4C1086.9,1679.2 1088.5,1678.0 1090.2,1676.8C1091.9,1675.6 1093.6,1674.5 1095.2,1673.4C1096.9,1672.2 1098.6,1671.2 1100.3,1670.1C1101.9,1669.1 1103.6,1668.0 1105.3,1667.0C1107.0,1666.0 1108.6,1665.0 1110.3,1664.0C1112.0,1663.1 1113.7,1662.2 1115.4,1661.3C1117.0,1660.4 1118.7,1659.6 1120.4,1658.8C1122.1,1658.0 1123.7,1657.2 1125.4,1656.5C1127.1,1655.8 1128.8,1655.2 1130.4,1654.6C1132.1,1654.0 1133.8,1653.5 1135.5,1653.0C1137.1,1652.6 1138.8,1652.2 1140.5,1651.9C1142.2,1651.6 1143.8,1651.3 1145.5,1651.2C1147.2,1651.1 1148.9,1651.0 1150.5,1651.0C1152.2,1651.1 1153.9,1651.2 1155.6,1651.5C1157.2,1651.8 1158.9,1652.2 1160.6,1652.8C1162.3,1653.4 1163.9,1654.1 1165.6,1655.1C1167.3,1656.0 1169.0,1657.1 1170.6,1658.4C1172.3,1659.7 1174.0,1661.2 1175.7,1662.8C1177.4,1664.5 1179.0,1666.3 1180.7,1668.2C1182.4,1670.2 1184.1,1672.3 1185.7,1674.5C1187.4,1676.7 1189.1,1679.0 1190.8,1681.4C1192.4,1683.7 1194.1,1686.2 1195.8,1688.7C1197.5,1691.2 1199.1,1693.7 1200.8,1696.2C1202.5,1698.7 1204.2,1701.3 1205.8,1703.7C1207.5,1706.1 1209.2,1708.5 1210.9,1710.8C1212.5,1713.0 1214.2,1715.2 1215.9,1717.3C1217.6,1719.4 1219.2,1721.5 1220.9,1723.4C1222.6,1725.4 1224.3,1727.3 1225.9,1729.2C1227.6,1731.0 1229.3,1732.8 1231.0,1734.6C1232.6,1736.4 1234.3,1738.1 1236.0,1739.9C1237.7,1741.6 1239.4,1743.4 1241.0,1745.2C1242.7,1746.9 1244.4,1748.7 1246.1,1750.6C1247.7,1752.4 1249.4,1754.3 1251.1,1756.3C1252.8,1758.3 1254.4,1760.3 1256.1,1762.4C1257.8,1764.5 1259.5,1766.7 1261.1,1768.9C1262.8,1771.1 1264.5,1773.4 1266.2,1775.7C1267.8,1777.9 1269.5,1780.2 1271.2,1782.5C1272.9,1784.7 1274.5,1787.0 1276.2,1789.2C1277.9,1791.5 1279.6,1793.7 1281.2,1795.9C1282.9,1798.1 1284.6,1800.3 1286.3,1802.5C1287.9,1804.6 1289.6,1806.8 1291.3,1808.9C1293.0,1811.0 1294.6,1813.1 1296.3,1815.2C1298.0,1817.3 1299.7,1819.3 1301.4,1821.4C1303.0,1823.4 1304.7,1825.4 1306.4,1827.3C1308.1,1829.3 1309.7,1831.2 1311.4,1833.1C1313.1,1835.0 1314.8,1836.9 1316.4,1838.7C1318.1,1840.5 1319.8,1842.3 1321.5,1844.0C1323.1,1845.7 1324.8,1847.4 1326.5,1849.0C1328.2,1850.7 1329.8,1852.3 1331.5,1853.8C1333.2,1855.4 1334.9,1856.9 1336.5,1858.3C1338.2,1859.7 1339.9,1861.1 1341.6,1862.5C1343.2,1863.8 1344.9,1865.1 1346.6,1866.3C1348.3,1867.5 1349.9,1868.7 1351.6,1869.8C1353.3,1870.9 1355.0,1871.9 1356.7,1872.9C1358.3,1873.9 1360.0,1874.8 1361.7,1875.6C1363.4,1876.5 1365.0,1877.3 1366.7,1878.1C1368.4,1878.8 1370.1,1879.5 1371.7,1880.2C1373.4,1880.9 1375.1,1881.5 1376.8,1882.2C1378.4,1882.8 1380.1,1883.4 1381.8,1883.9C1383.5,1884.5 1385.1,1885.1 1386.8,1885.6C1388.5,1886.2 1390.2,1886.7 1391.8,1887.2C1393.5,1887.8 1395.2,1888.3 1396.9,1888.8C1398.5,1889.4 1400.2,1889.9 1401.9,1890.5C1403.6,1891.0 1405.2,1891.6 1406.9,1892.1C1408.6,1892.7 1410.3,1893.2 1411.9,1893.8C1413.6,1894.3 1415.3,1894.8 1417.0,1895.3C1418.7,1895.9 1420.3,1896.4 1422.0,1896.9C1423.7,1897.3 1425.4,1897.8 1427.0,1898.3C1428.7,1898.7 1430.4,1899.1 1432.1,1899.5C1433.7,1899.9 1435.4,1900.3 1437.1,1900.6C1438.8,1900.9 1440.4,1901.2 1442.1,1901.5C1443.8,1901.8 1445.5,1902.0 1447.1,1902.2C1448.8,1902.4 1450.5,1902.5 1452.2,1902.7C1453.8,1902.8 1455.5,1902.9 1457.2,1903.0C1458.9,1903.1 1460.5,1903.2 1462.2,1903.2C1463.9,1903.3 1465.6,1903.3 1467.2,1903.3C1468.9,1903.3 1470.6,1903.3 1472.3,1903.3C1473.9,1903.3 1475.6,1903.3 1477.3,1903.2C1479.0,1903.2 1480.7,1903.2 1482.3,1903.1C1484.0,1903.1 1485.7,1903.0 1487.4,1903.0C1489.0,1902.9 1490.7,1902.9 1492.4,1902.9C1494.1,1902.8 1495.7,1902.8 1497.4,1902.7C1499.1,1902.7 1500.8,1902.7 1502.4,1902.7C1504.1,1902.7 1505.8,1902.7 1507.5,1902.7C1509.1,1902.7 1510.8,1902.8 1512.5,1902.8C1514.2,1902.9 1516.7,1903.0 1517.5,1903.0" fill="none" stroke="#0470b1" stroke-width="3.8" stroke-linecap="round" stroke-linejoin="round"/>
<line x1="959.7" y1="1901.5" x2="1343.2" y2="1901.5" stroke="#1a1a1a" stroke-width="6.7"/>
<line x1="815.0" y1="1919.5" x2="1552.0" y2="1919.5" stroke="#808080" stroke-width="3.0"/>
<line x1="953.5" y1="1919.5" x2="953.5" y2="1927.5" stroke="#808080" stroke-width="2.9"/>
<line x1="1095.5" y1="1919.5" x2="1095.5" y2="1927.5" stroke="#808080" stroke-width="2.9"/>
<line x1="1236.5" y1="1919.5" x2="1236.5" y2="1927.5" stroke="#808080" stroke-width="2.9"/>
<line x1="1378.5" y1="1919.5" x2="1378.5" y2="1927.5" stroke="#808080" stroke-width="2.9"/>
<line x1="1520.5" y1="1919.5" x2="1520.5" y2="1927.5" stroke="#808080" stroke-width="2.9"/>
<text class="r" x="953.3" y="1955.0" font-size="24.4" text-anchor="middle">1</text>
<text class="r" x="1095.3" y="1955.0" font-size="24.4" text-anchor="middle">2</text>
<text class="r" x="1236.3" y="1955.0" font-size="24.4" text-anchor="middle">3</text>
<text class="r" x="1378.3" y="1955.0" font-size="24.4" text-anchor="middle">4</text>
<text class="r" x="1520.3" y="1955.0" font-size="24.4" text-anchor="middle">5</text>
<text class="t" x="1183.5" y="1622.3" font-size="29.7" text-anchor="middle">cohend</text>
<clipPath id="cp57"><rect x="816.5" y="57.5" width="734.0" height="281.0"/></clipPath>
<line x1="895" y1="57.5" x2="895" y2="338.5" stroke="#cccccc" stroke-width="2"/>
<line x1="982" y1="57.5" x2="982" y2="338.5" stroke="#cccccc" stroke-width="2"/>
<line x1="1070" y1="57.5" x2="1070" y2="338.5" stroke="#cccccc" stroke-width="2"/>
<line x1="1157" y1="57.5" x2="1157" y2="338.5" stroke="#cccccc" stroke-width="2"/>
<line x1="1245" y1="57.5" x2="1245" y2="338.5" stroke="#cccccc" stroke-width="2"/>
<line x1="1332" y1="57.5" x2="1332" y2="338.5" stroke="#cccccc" stroke-width="2"/>
<line x1="1419" y1="57.5" x2="1419" y2="338.5" stroke="#cccccc" stroke-width="2"/>
<line x1="1507" y1="57.5" x2="1507" y2="338.5" stroke="#cccccc" stroke-width="2"/>
<g clip-path="url(#cp57)" fill="none" stroke="#0173b2" stroke-opacity="0.24" stroke-width="1.25">
<path d="M834.0,320.2C837.4,320.1 847.6,319.9 854.5,319.7C861.3,319.6 868.1,319.4 874.9,319.3C881.8,319.1 888.6,319.0 895.4,318.9C902.2,318.7 909.0,318.6 915.9,318.5C922.7,318.4 929.5,318.3 936.3,318.3C943.2,318.2 950.0,318.2 956.8,318.1C963.6,318.1 970.4,318.1 977.3,318.2C984.1,318.2 990.9,318.2 997.7,318.3C1004.6,318.4 1011.4,318.5 1018.2,318.6C1025.0,318.7 1035.3,318.9 1038.7,318.9"/>
<path d="M895.5,306.1C899.2,306.0 910.3,305.9 917.7,305.9C925.1,305.9 932.5,306.0 939.9,306.0C947.3,306.1 954.7,306.3 962.1,306.5C969.5,306.6 976.9,306.9 984.2,307.1C991.6,307.4 999.0,307.7 1006.4,308.0C1013.8,308.3 1021.2,308.6 1028.6,309.0C1036.0,309.3 1047.1,309.9 1050.8,310.0"/>
<path d="M886.8,306.6C890.3,305.9 900.8,303.4 907.8,302.4C914.8,301.3 921.7,300.7 928.7,300.2C935.7,299.8 942.7,299.5 949.7,299.4C956.7,299.4 963.7,299.6 970.6,299.9C977.6,300.2 984.6,301.0 991.6,301.4C998.6,301.9 1005.6,302.3 1012.6,302.6C1019.6,302.9 1030.0,303.0 1033.5,303.1"/>
<path d="M871.6,312.2C875.4,311.7 886.7,310.0 894.2,309.1C901.7,308.3 909.2,307.1 916.7,307.0C924.3,307.0 931.8,308.0 939.3,309.0C946.8,310.0 954.4,312.1 961.9,313.2C969.4,314.3 976.9,315.1 984.4,315.7C992.0,316.3 999.5,316.4 1007.0,316.6C1014.5,316.9 1025.8,317.1 1029.6,317.2"/>
<path d="M883.4,299.1C887.0,297.5 897.8,292.9 905.0,289.3C912.2,285.8 919.4,280.8 926.6,277.7C933.8,274.5 941.1,271.3 948.3,270.5C955.5,269.7 962.7,270.8 969.9,272.9C977.1,275.0 984.3,279.4 991.5,282.9C998.7,286.4 1005.9,290.9 1013.1,294.0C1020.3,297.1 1027.5,299.7 1034.7,301.6C1041.9,303.4 1049.1,304.4 1056.3,305.3C1063.5,306.2 1070.8,306.6 1078.0,307.1C1085.2,307.6 1092.4,307.9 1099.6,308.3C1106.8,308.6 1114.0,309.0 1121.2,309.3C1128.4,309.7 1139.2,310.2 1142.8,310.4"/>
<path d="M860.2,304.3C863.7,303.5 874.2,300.8 881.2,299.3C888.3,297.8 895.3,296.1 902.3,295.4C909.4,294.7 916.4,294.8 923.4,295.2C930.4,295.6 937.5,297.0 944.5,298.0C951.5,298.9 958.5,300.1 965.6,300.8C972.6,301.6 979.6,302.0 986.6,302.4C993.7,302.8 1000.7,303.0 1007.7,303.3C1014.7,303.5 1021.8,303.8 1028.8,304.1C1035.8,304.4 1042.8,304.7 1049.9,305.1C1056.9,305.5 1063.9,305.9 1070.9,306.3C1078.0,306.8 1085.0,307.3 1092.0,307.7C1099.1,308.2 1106.1,308.7 1113.1,309.2C1120.1,309.7 1127.2,310.2 1134.2,310.7C1141.2,311.2 1148.2,311.7 1155.3,312.1C1162.3,312.6 1172.8,313.2 1176.3,313.4"/>
<path d="M871.5,303.6C874.9,302.6 885.1,300.4 891.8,297.4C898.6,294.3 905.3,287.6 912.1,285.4C918.9,283.1 925.6,282.2 932.4,283.8C939.1,285.4 945.9,292.1 952.7,295.2C959.4,298.3 966.2,300.9 973.0,302.4C979.7,303.9 986.5,303.8 993.2,304.2C1000.0,304.7 1006.8,304.8 1013.5,305.1C1020.3,305.5 1027.1,305.8 1033.8,306.1C1040.6,306.5 1047.3,306.9 1054.1,307.3C1060.9,307.7 1067.6,308.1 1074.4,308.5C1081.1,309.0 1091.3,309.7 1094.7,309.9"/>
<path d="M826.0,321.8C829.6,321.7 840.3,321.5 847.5,321.3C854.7,321.2 861.9,321.1 869.0,320.9C876.2,320.8 883.4,320.7 890.6,320.6C897.7,320.5 904.9,320.4 912.1,320.4C919.3,320.3 926.4,320.3 933.6,320.2C940.8,320.1 948.0,320.1 955.1,319.7C962.3,319.3 969.5,318.8 976.7,318.0C983.8,317.2 991.0,315.6 998.2,314.7C1005.4,313.8 1012.5,312.6 1019.7,312.7C1026.9,312.7 1034.1,313.8 1041.2,314.9C1048.4,315.9 1055.6,317.7 1062.8,318.8C1069.9,319.9 1080.7,320.9 1084.3,321.3"/>
<path d="M837.7,318.5C841.0,317.8 851.0,315.3 857.7,314.3C864.4,313.2 871.0,312.1 877.7,312.2C884.4,312.3 891.1,313.7 897.7,314.6C904.4,315.6 911.1,317.2 917.7,318.0C924.4,318.8 931.1,319.3 937.8,319.6C944.4,320.0 951.1,320.1 957.8,320.3C964.5,320.5 971.1,320.7 977.8,320.9C984.5,321.1 991.2,321.4 997.8,321.6C1004.5,321.8 1011.2,322.0 1017.8,322.3C1024.5,322.5 1031.2,322.7 1037.9,322.9C1044.5,323.2 1051.2,323.4 1057.9,323.6C1064.6,323.8 1071.2,323.9 1077.9,324.1C1084.6,324.3 1091.2,324.4 1097.9,324.5C1104.6,324.7 1111.3,324.8 1117.9,324.9C1124.6,325.0 1131.3,325.0 1138.0,325.1C1144.6,325.2 1151.3,325.2 1158.0,325.3C1164.7,325.3 1174.7,325.4 1178.0,325.4"/>
<path d="M815.3,314.1C818.8,314.0 829.4,313.8 836.5,313.7C843.5,313.5 850.6,313.4 857.6,313.3C864.7,313.2 871.7,313.1 878.8,313.1C885.8,313.0 892.9,312.9 899.9,312.8C907.0,312.6 914.1,312.5 921.1,312.2C928.2,311.9 935.2,311.4 942.3,310.9C949.3,310.4 956.4,309.6 963.4,309.0C970.5,308.4 977.5,307.7 984.6,307.4C991.7,307.1 998.7,307.1 1005.8,307.1C1012.8,307.2 1019.9,307.6 1026.9,307.7C1034.0,307.7 1041.0,307.6 1048.1,307.7C1055.1,307.8 1062.2,307.7 1069.2,308.3C1076.3,309.0 1083.4,310.4 1090.4,311.6C1097.5,312.8 1108.0,314.9 1111.6,315.6"/>
<path d="M841.4,318.1C844.7,318.0 854.7,317.8 861.4,317.6C868.1,317.4 874.7,317.2 881.4,317.0C888.1,316.8 894.7,316.6 901.4,316.4C908.1,316.2 914.7,315.9 921.4,315.7C928.1,315.5 934.8,315.3 941.4,315.1C948.1,314.9 954.8,314.7 961.4,314.5C968.1,314.3 974.8,314.2 981.4,314.0C988.1,313.9 994.8,313.8 1001.4,313.7C1008.1,313.6 1014.8,313.5 1021.5,313.4C1028.1,313.4 1034.8,313.4 1041.5,313.4C1048.1,313.4 1054.8,313.4 1061.5,313.5C1068.1,313.6 1074.8,313.7 1081.5,313.8C1088.2,313.9 1098.2,314.1 1101.5,314.2"/>
<path d="M835.7,310.9C839.1,310.8 849.4,310.6 856.2,310.5C863.0,310.4 869.8,310.3 876.7,310.2C883.5,310.2 890.3,310.1 897.1,310.1C904.0,310.1 910.8,310.2 917.6,310.2C924.4,310.3 931.3,310.4 938.1,310.5C944.9,310.6 951.7,310.8 958.6,310.9C965.4,311.1 972.2,311.3 979.0,311.4C985.9,311.6 992.7,311.8 999.5,312.0C1006.3,312.2 1016.6,312.6 1020.0,312.7"/>
<path d="M807.4,313.5C810.7,312.8 820.8,310.8 827.6,309.4C834.3,308.1 841.0,306.5 847.7,305.6C854.5,304.7 861.2,304.6 867.9,303.9C874.6,303.2 881.4,303.1 888.1,301.6C894.8,300.2 901.5,297.0 908.3,295.4C915.0,293.8 921.7,291.7 928.4,292.0C935.2,292.2 941.9,295.1 948.6,297.0C955.4,298.8 962.1,301.6 968.8,302.9C975.5,304.3 982.3,304.6 989.0,304.9C995.7,305.2 1002.4,304.9 1009.2,304.9C1015.9,304.8 1022.6,304.7 1029.3,304.7C1036.1,304.7 1046.1,304.8 1049.5,304.8"/>
<path d="M887.0,294.9C890.7,294.2 901.7,291.7 909.0,290.7C916.3,289.7 923.6,289.2 930.9,288.9C938.2,288.7 945.6,289.0 952.9,289.1C960.2,289.1 967.5,289.2 974.8,289.2C982.1,289.2 989.5,288.8 996.8,289.1C1004.1,289.4 1011.4,289.8 1018.7,290.9C1026.0,292.0 1037.0,294.9 1040.7,295.6"/>
<path d="M837.3,313.9C840.9,313.7 851.7,313.1 858.8,312.8C866.0,312.4 873.2,312.0 880.3,311.7C887.5,311.3 894.7,311.0 901.8,310.7C909.0,310.4 916.2,310.2 923.3,309.8C930.5,309.5 937.7,309.4 944.8,308.7C952.0,308.0 959.2,306.9 966.3,305.8C973.5,304.6 980.7,302.4 987.8,301.8C995.0,301.2 1002.2,301.5 1009.3,302.3C1016.5,303.1 1023.7,305.6 1030.8,306.8C1038.0,308.1 1048.7,309.3 1052.3,309.8"/>
<path d="M854.4,313.5C857.7,313.4 867.9,313.2 874.6,313.1C881.4,313.0 888.2,313.0 894.9,312.9C901.7,312.8 908.5,312.8 915.2,312.7C922.0,312.7 928.8,312.7 935.5,312.6C942.3,312.6 949.0,312.5 955.8,312.4C962.6,312.3 969.3,312.2 976.1,311.9C982.9,311.6 989.6,311.3 996.4,310.6C1003.2,310.0 1009.9,308.9 1016.7,308.0C1023.4,307.1 1030.2,305.6 1037.0,305.2C1043.7,304.8 1050.5,304.9 1057.3,305.6C1064.0,306.2 1074.2,308.5 1077.6,309.1"/>
<path d="M820.7,315.8C824.1,315.5 834.5,314.7 841.4,314.1C848.3,313.5 855.2,312.9 862.1,312.3C869.1,311.6 876.0,310.9 882.9,310.2C889.8,309.6 896.7,308.8 903.6,308.1C910.5,307.4 917.5,306.6 924.4,305.8C931.3,305.0 938.2,304.2 945.1,303.4C952.0,302.7 958.9,301.9 965.9,301.3C972.8,300.8 979.7,300.3 986.6,300.0C993.5,299.8 1000.4,299.7 1007.3,299.8C1014.3,299.9 1021.2,300.3 1028.1,300.6C1035.0,301.0 1045.4,301.7 1048.8,302.0"/>
<path d="M882.1,313.3C885.6,312.8 896.0,311.1 902.9,310.2C909.9,309.4 916.8,308.7 923.7,308.2C930.7,307.6 937.6,307.4 944.5,306.8C951.5,306.2 958.4,305.5 965.3,304.7C972.3,303.8 979.2,302.6 986.1,301.8C993.1,301.1 1000.0,300.4 1006.9,300.3C1013.9,300.3 1020.8,300.9 1027.7,301.8C1034.7,302.7 1041.6,304.4 1048.5,305.8C1055.5,307.2 1062.4,308.9 1069.3,310.2C1076.3,311.5 1083.2,312.8 1090.1,313.7C1097.1,314.6 1104.0,315.3 1110.9,315.8C1117.9,316.4 1124.8,316.8 1131.7,317.1C1138.7,317.5 1149.1,317.8 1152.5,318.0"/>
<path d="M864.2,300.8C867.8,300.7 878.6,300.3 885.8,300.1C893.0,300.0 900.2,299.9 907.4,299.9C914.6,300.0 921.8,300.1 929.0,300.3C936.2,300.4 943.4,300.7 950.5,301.1C957.7,301.4 964.9,301.8 972.1,302.3C979.3,302.8 986.5,303.4 993.7,303.9C1000.9,304.5 1008.1,305.1 1015.3,305.8C1022.5,306.4 1029.7,307.1 1036.9,307.7C1044.1,308.4 1051.3,309.1 1058.5,309.7C1065.7,310.4 1072.9,311.0 1080.0,311.7C1087.2,312.3 1094.4,312.9 1101.6,313.4C1108.8,314.0 1119.6,314.7 1123.2,315.0"/>
<path d="M801.5,320.1C804.9,320.0 815.3,319.6 822.2,319.3C829.1,319.0 836.0,318.7 842.9,318.3C849.8,318.0 856.6,317.6 863.5,317.2C870.4,316.8 877.3,316.4 884.2,316.0C891.1,315.5 898.0,315.1 904.9,314.7C911.8,314.2 918.7,313.8 925.6,313.3C932.5,312.9 939.4,312.5 946.3,312.1C953.2,311.7 960.1,311.4 967.0,311.0C973.9,310.7 980.7,310.4 987.6,310.2C994.5,310.0 1001.4,309.8 1008.3,309.7C1015.2,309.5 1022.1,309.5 1029.0,309.4C1035.9,309.4 1042.8,309.4 1049.7,309.2C1056.6,309.1 1063.5,308.8 1070.4,308.5C1077.3,308.3 1084.2,307.7 1091.1,307.8C1097.9,307.8 1104.8,308.3 1111.7,308.9C1118.6,309.6 1125.5,310.9 1132.4,311.8C1139.3,312.6 1146.2,313.5 1153.1,314.2C1160.0,314.9 1166.9,315.4 1173.8,315.9C1180.7,316.4 1191.0,316.9 1194.5,317.1"/>
<path d="M825.3,308.6C828.8,308.5 839.4,308.3 846.4,308.2C853.5,308.0 860.5,307.9 867.6,307.8C874.6,307.7 881.7,307.7 888.7,307.7C895.8,307.6 902.8,307.6 909.9,307.6C916.9,307.7 924.0,307.7 931.0,307.8C938.1,307.9 945.1,308.0 952.2,308.1C959.2,308.2 966.3,308.4 973.3,308.5C980.4,308.6 987.4,308.8 994.5,308.7C1001.5,308.7 1008.6,308.6 1015.6,308.2C1022.7,307.8 1029.8,307.1 1036.8,306.5C1043.9,306.0 1050.9,305.1 1058.0,305.0C1065.0,304.9 1072.1,305.2 1079.1,305.9C1086.2,306.6 1093.2,308.1 1100.3,309.2C1107.3,310.2 1117.9,311.8 1121.4,312.3"/>
<path d="M886.8,312.0C890.3,311.9 900.7,311.8 907.6,311.7C914.5,311.6 921.4,311.6 928.3,311.5C935.2,311.5 942.1,311.5 949.0,311.4C955.9,311.4 962.8,311.4 969.7,311.4C976.6,311.4 983.5,311.5 990.4,311.5C997.3,311.4 1004.2,311.5 1011.1,311.0C1018.0,310.4 1024.9,309.2 1031.9,308.2C1038.8,307.2 1045.7,305.1 1052.6,304.9C1059.5,304.7 1066.4,306.0 1073.3,307.0C1080.2,308.1 1087.1,310.3 1094.0,311.3C1100.9,312.4 1107.8,312.8 1114.7,313.2C1121.6,313.6 1128.5,313.6 1135.4,313.8C1142.3,314.0 1149.2,314.1 1156.1,314.2C1163.0,314.4 1173.4,314.6 1176.9,314.7"/>
<path d="M865.0,304.8C868.5,304.6 879.0,303.8 886.0,303.4C893.0,302.9 900.0,302.5 907.0,302.2C914.0,301.8 921.0,301.5 928.0,301.3C934.9,301.1 941.9,300.9 948.9,300.8C955.9,300.7 962.9,300.6 969.9,300.7C976.9,300.7 983.9,300.8 990.9,301.0C997.9,301.1 1004.9,301.4 1011.9,301.7C1018.9,302.0 1029.4,302.5 1032.9,302.7"/>
<path d="M892.7,314.1C896.3,314.1 907.0,314.1 914.1,314.2C921.2,314.2 928.3,314.2 935.4,314.3C942.5,314.4 949.7,314.4 956.8,314.5C963.9,314.6 971.0,314.7 978.1,314.8C985.2,315.0 992.3,315.1 999.5,315.2C1006.6,315.3 1017.2,315.5 1020.8,315.6"/>
<path d="M879.8,308.3C883.2,308.1 893.3,307.5 900.0,307.2C906.8,306.8 913.5,306.5 920.3,306.2C927.0,305.8 933.8,305.5 940.5,305.1C947.3,304.7 954.0,304.2 960.8,303.8C967.5,303.3 974.2,302.7 981.0,302.3C987.7,301.9 994.5,301.4 1001.2,301.3C1008.0,301.2 1014.7,301.2 1021.5,301.5C1028.2,301.9 1035.0,302.5 1041.7,303.3C1048.5,304.1 1055.2,305.2 1061.9,306.1C1068.7,307.1 1075.4,308.1 1082.2,309.0C1088.9,309.9 1095.7,310.7 1102.4,311.4C1109.2,312.1 1115.9,312.7 1122.7,313.3C1129.4,313.8 1136.2,314.3 1142.9,314.7C1149.6,315.1 1156.4,315.5 1163.1,315.9C1169.9,316.2 1180.0,316.7 1183.4,316.9"/>
<path d="M873.4,318.4C876.8,318.3 886.9,318.0 893.6,317.5C900.4,317.0 907.1,316.1 913.8,315.4C920.6,314.6 927.3,313.3 934.0,312.9C940.8,312.6 947.5,312.8 954.3,313.1C961.0,313.4 967.7,314.2 974.5,314.7C981.2,315.1 987.9,315.5 994.7,315.8C1001.4,316.2 1008.1,316.5 1014.9,316.8C1021.6,317.1 1028.3,317.4 1035.1,317.6C1041.8,317.9 1048.6,318.1 1055.3,318.3C1062.0,318.4 1068.8,318.6 1075.5,318.8C1082.2,318.9 1089.0,319.1 1095.7,319.3C1102.4,319.4 1109.2,319.6 1115.9,319.8C1122.7,319.9 1129.4,320.1 1136.1,320.3C1142.9,320.5 1149.6,320.7 1156.3,320.9C1163.1,321.0 1173.2,321.3 1176.5,321.4"/>
<path d="M909.5,302.6C912.8,302.4 922.9,301.5 929.5,301.1C936.2,300.7 942.9,300.5 949.6,300.1C956.3,299.7 963.0,299.3 969.7,298.9C976.4,298.5 983.1,297.8 989.8,297.6C996.5,297.5 1003.2,297.4 1009.9,298.0C1016.6,298.6 1023.2,300.1 1029.9,301.5C1036.6,302.9 1043.3,305.0 1050.0,306.4C1056.7,307.7 1063.4,308.7 1070.1,309.4C1076.8,310.0 1083.5,309.6 1090.2,310.0C1096.9,310.4 1103.6,311.0 1110.3,311.8C1116.9,312.5 1123.6,313.9 1130.3,314.6C1137.0,315.4 1143.7,315.8 1150.4,316.1C1157.1,316.5 1163.8,316.5 1170.5,316.7C1177.2,316.8 1183.9,316.8 1190.6,316.9C1197.3,317.0 1203.9,317.0 1210.6,317.0C1217.3,317.1 1224.0,317.1 1230.7,317.1C1237.4,317.1 1244.1,317.1 1250.8,317.1C1257.5,317.1 1264.2,317.1 1270.9,317.1C1277.6,317.1 1287.6,317.1 1291.0,317.1"/>
<path d="M910.4,314.8C914.1,314.6 925.1,313.9 932.5,313.4C939.8,313.0 947.2,312.4 954.5,311.9C961.9,311.4 969.2,310.9 976.6,310.4C983.9,309.9 991.3,309.5 998.6,309.1C1006.0,308.7 1013.3,308.3 1020.7,308.1C1028.0,307.9 1035.4,307.7 1042.7,307.7C1050.1,307.6 1061.1,307.8 1064.8,307.8"/>
<path d="M966.2,317.2C970.1,316.8 981.8,315.8 989.6,315.2C997.4,314.6 1005.2,314.0 1013.0,313.7C1020.8,313.3 1028.7,313.0 1036.5,313.0C1044.3,313.0 1052.1,313.1 1059.9,313.4C1067.7,313.7 1079.4,314.5 1083.3,314.7"/>
<path d="M924.0,312.5C927.4,312.2 937.4,311.3 944.1,310.8C950.8,310.2 957.5,309.6 964.3,309.1C971.0,308.5 977.7,308.0 984.4,307.6C991.1,307.1 997.8,306.7 1004.5,306.3C1011.2,306.0 1017.9,305.8 1024.6,305.5C1031.3,305.1 1038.1,305.3 1044.8,304.5C1051.5,303.6 1058.2,302.7 1064.9,300.3C1071.6,298.0 1078.3,292.6 1085.0,290.4C1091.7,288.2 1098.4,285.8 1105.1,287.1C1111.9,288.4 1118.6,294.5 1125.3,298.0C1132.0,301.5 1138.7,305.6 1145.4,307.9C1152.1,310.2 1158.8,310.7 1165.5,311.7C1172.2,312.6 1178.9,313.0 1185.7,313.6C1192.4,314.1 1199.1,314.6 1205.8,315.1C1212.5,315.6 1222.6,316.2 1225.9,316.4"/>
<path d="M991.8,298.2C995.5,297.1 1006.6,292.6 1014.0,291.3C1021.5,289.9 1028.9,289.4 1036.3,290.3C1043.7,291.1 1051.1,294.1 1058.5,296.5C1065.9,298.9 1073.3,302.5 1080.7,304.6C1088.1,306.7 1095.5,308.4 1102.9,308.9C1110.3,309.5 1117.7,308.1 1125.1,307.8C1132.5,307.4 1139.9,306.3 1147.3,306.9C1154.7,307.6 1165.8,310.9 1169.5,311.7"/>
<path d="M899.5,318.9C902.9,318.7 913.2,318.6 920.0,317.6C926.9,316.6 933.7,315.2 940.6,312.9C947.4,310.7 954.3,306.4 961.1,304.0C967.9,301.6 974.8,298.8 981.6,298.5C988.5,298.3 995.3,300.9 1002.2,302.6C1009.0,304.3 1015.8,307.1 1022.7,308.6C1029.5,310.1 1036.4,310.8 1043.2,311.6C1050.0,312.3 1056.9,312.8 1063.7,313.3C1070.6,313.9 1077.4,314.4 1084.3,314.9C1091.1,315.4 1097.9,315.8 1104.8,316.2C1111.6,316.6 1118.5,316.8 1125.3,317.1C1132.2,317.3 1139.0,317.5 1145.8,317.8C1152.7,318.0 1159.5,318.1 1166.4,318.3C1173.2,318.5 1183.5,318.7 1186.9,318.8"/>
<path d="M902.8,315.1C906.3,314.9 916.8,314.2 923.8,313.6C930.8,312.9 937.8,312.2 944.8,311.2C951.8,310.3 958.9,309.1 965.9,308.0C972.9,306.9 979.9,305.7 986.9,304.8C993.9,304.0 1000.9,303.5 1007.9,303.0C1014.9,302.6 1021.9,302.4 1028.9,302.2C1036.0,302.0 1043.0,301.8 1050.0,301.8C1057.0,301.8 1064.0,301.9 1071.0,302.1C1078.0,302.4 1085.0,302.8 1092.0,303.3C1099.0,303.9 1106.0,304.6 1113.0,305.3C1120.1,306.1 1127.1,307.0 1134.1,307.8C1141.1,308.6 1151.6,309.8 1155.1,310.2"/>
<path d="M902.1,300.5C905.5,299.3 915.6,294.9 922.3,292.9C929.0,290.9 935.8,289.1 942.5,288.7C949.2,288.3 956.0,289.3 962.7,290.4C969.4,291.6 976.1,294.1 982.9,295.8C989.6,297.5 996.3,299.4 1003.1,300.7C1009.8,301.9 1016.5,302.6 1023.2,303.3C1030.0,304.1 1036.7,304.4 1043.4,305.1C1050.2,305.8 1056.9,306.7 1063.6,307.5C1070.3,308.4 1077.1,309.4 1083.8,310.1C1090.5,310.9 1097.3,311.6 1104.0,312.2C1110.7,312.8 1117.4,313.3 1124.2,313.7C1130.9,314.2 1137.6,314.6 1144.4,314.9C1151.1,315.3 1161.2,315.7 1164.5,315.9"/>
<path d="M899.3,301.9C902.7,301.6 912.9,300.6 919.7,300.1C926.5,299.5 933.3,299.0 940.1,298.6C946.9,298.2 953.7,297.9 960.5,297.7C967.3,297.5 974.0,297.4 980.8,297.4C987.6,297.4 994.4,297.5 1001.2,297.7C1008.0,297.9 1014.8,298.2 1021.6,298.6C1028.4,299.0 1035.2,299.5 1042.0,300.1C1048.8,300.6 1055.6,301.2 1062.4,301.9C1069.2,302.5 1076.0,303.3 1082.8,304.0C1089.6,304.7 1096.4,305.4 1103.1,306.2C1109.9,306.9 1116.7,307.6 1123.5,308.3C1130.3,309.0 1137.1,309.7 1143.9,310.3C1150.7,310.9 1157.5,311.5 1164.3,312.0C1171.1,312.6 1177.9,313.1 1184.7,313.5C1191.5,313.9 1201.7,314.5 1205.1,314.7"/>
<path d="M976.7,314.7C980.2,314.5 990.7,313.4 997.6,313.2C1004.6,312.9 1011.6,313.2 1018.6,313.4C1025.6,313.6 1032.6,314.1 1039.6,314.5C1046.5,314.9 1053.5,315.3 1060.5,315.8C1067.5,316.3 1074.5,317.0 1081.5,317.7C1088.5,318.5 1095.4,319.5 1102.4,320.2C1109.4,321.0 1116.4,321.7 1123.4,322.2C1130.4,322.7 1140.9,323.1 1144.3,323.2"/>
<path d="M890.8,309.6C894.3,308.8 904.8,306.3 911.8,304.9C918.8,303.5 925.8,301.9 932.8,301.1C939.8,300.4 946.7,300.0 953.7,300.2C960.7,300.5 967.7,301.5 974.7,302.5C981.7,303.6 988.7,305.2 995.7,306.4C1002.6,307.7 1009.6,309.1 1016.6,310.2C1023.6,311.2 1030.6,312.2 1037.6,312.7C1044.6,313.3 1051.6,313.5 1058.5,313.5C1065.5,313.5 1072.5,312.9 1079.5,312.6C1086.5,312.4 1093.5,311.9 1100.5,312.1C1107.5,312.4 1114.5,313.1 1121.4,314.0C1128.4,314.8 1135.4,316.2 1142.4,317.1C1149.4,318.0 1156.4,318.8 1163.4,319.3C1170.4,319.8 1177.3,320.0 1184.3,320.2C1191.3,320.4 1201.8,320.4 1205.3,320.4"/>
<path d="M939.2,305.2C942.9,304.7 954.0,302.5 961.4,302.3C968.8,302.0 976.1,302.8 983.5,303.6C990.9,304.4 998.3,306.0 1005.7,307.1C1013.1,308.3 1020.5,309.4 1027.9,310.4C1035.3,311.4 1042.7,312.3 1050.1,313.1C1057.4,313.8 1068.5,314.5 1072.2,314.8"/>
<path d="M971.7,306.6C975.5,306.5 986.8,305.9 994.4,305.7C1002.0,305.4 1009.6,305.2 1017.2,305.1C1024.8,305.1 1032.3,305.1 1039.9,305.1C1047.5,305.2 1055.1,305.4 1062.7,305.6C1070.2,305.9 1077.8,306.2 1085.4,306.6C1093.0,306.9 1104.4,307.6 1108.2,307.8"/>
<path d="M917.6,310.0C921.2,309.6 931.9,308.1 939.0,307.4C946.1,306.8 953.2,306.2 960.3,306.0C967.5,305.7 974.6,305.9 981.7,306.0C988.8,306.1 995.9,306.4 1003.0,306.6C1010.2,306.8 1017.3,307.0 1024.4,307.1C1031.5,307.2 1038.6,307.3 1045.8,307.4C1052.9,307.5 1060.0,307.6 1067.1,307.7C1074.2,307.9 1081.3,308.1 1088.5,308.4C1095.6,308.6 1102.7,309.0 1109.8,309.3C1116.9,309.7 1127.6,310.3 1131.2,310.5"/>
<path d="M976.3,299.9C979.6,300.0 989.7,299.9 996.4,300.0C1003.1,300.1 1009.8,300.3 1016.5,300.5C1023.2,300.7 1029.9,301.0 1036.6,301.4C1043.3,301.7 1050.0,302.2 1056.6,302.6C1063.3,303.0 1070.0,303.5 1076.7,304.1C1083.4,304.6 1090.1,305.1 1096.8,305.7C1103.5,306.2 1110.2,306.8 1116.9,307.4C1123.6,308.0 1133.7,308.8 1137.0,309.1"/>
<path d="M905.4,310.8C908.8,310.3 919.0,308.7 925.7,307.3C932.5,306.0 939.2,304.4 946.0,302.7C952.8,300.9 959.5,298.6 966.3,296.8C973.0,295.0 979.8,292.8 986.6,291.9C993.3,291.1 1000.1,290.8 1006.8,291.6C1013.6,292.4 1020.4,294.7 1027.1,296.8C1033.9,299.0 1040.6,302.1 1047.4,304.5C1054.2,306.8 1060.9,309.2 1067.7,311.1C1074.4,312.9 1081.2,314.3 1088.0,315.5C1094.7,316.8 1101.5,317.6 1108.2,318.4C1115.0,319.3 1121.8,319.9 1128.5,320.5C1135.3,321.1 1145.4,321.7 1148.8,322.0"/>
<path d="M905.5,316.6C908.9,316.5 919.3,316.3 926.2,316.2C933.1,316.2 940.0,316.1 946.9,316.0C953.8,316.0 960.7,316.0 967.6,316.0C974.5,316.0 981.4,316.1 988.3,316.2C995.2,316.3 1002.1,316.4 1009.0,316.5C1015.9,316.6 1022.8,316.8 1029.7,317.0C1036.6,317.1 1043.5,317.3 1050.4,317.5C1057.3,317.7 1064.2,317.9 1071.1,318.0C1078.0,318.2 1084.9,318.4 1091.8,318.6C1098.7,318.7 1105.6,318.9 1112.5,318.9C1119.4,319.0 1126.3,319.0 1133.2,318.9C1140.1,318.8 1147.0,318.5 1153.9,318.1C1160.8,317.7 1167.7,317.0 1174.6,316.3C1181.5,315.6 1188.4,314.7 1195.3,314.1C1202.2,313.5 1209.1,313.0 1216.0,312.9C1222.9,312.9 1229.8,313.2 1236.7,313.7C1243.6,314.3 1254.0,315.6 1257.4,316.0"/>
<path d="M1008.3,312.2C1012.2,311.5 1023.9,309.2 1031.8,308.3C1039.6,307.4 1047.4,306.5 1055.3,306.6C1063.1,306.6 1070.9,307.6 1078.8,308.5C1086.6,309.5 1094.4,311.1 1102.3,312.3C1110.1,313.4 1121.9,314.9 1125.8,315.4"/>
<path d="M912.5,305.5C915.8,305.3 925.9,304.5 932.6,304.1C939.4,303.8 946.1,303.4 952.8,303.2C959.5,302.9 966.2,302.8 973.0,302.7C979.7,302.6 986.4,302.6 993.1,302.7C999.8,302.7 1006.6,302.9 1013.3,303.1C1020.0,303.3 1026.7,303.7 1033.4,304.0C1040.2,304.4 1046.9,304.8 1053.6,305.3C1060.3,305.8 1067.0,306.3 1073.8,306.9C1080.5,307.5 1087.2,308.1 1093.9,308.7C1100.6,309.3 1107.4,309.9 1114.1,310.5C1120.8,311.1 1127.5,311.7 1134.2,312.3C1141.0,312.9 1147.7,313.5 1154.4,314.0C1161.1,314.6 1167.8,315.1 1174.6,315.6C1181.3,316.0 1188.0,316.5 1194.7,316.9C1201.4,317.3 1208.1,317.7 1214.9,318.0C1221.6,318.3 1228.3,318.6 1235.0,318.9C1241.7,319.2 1251.8,319.5 1255.2,319.6"/>
<path d="M930.4,308.4C933.8,307.8 944.1,305.5 950.9,304.4C957.7,303.4 964.6,302.4 971.4,302.0C978.2,301.6 985.0,302.2 991.9,302.2C998.7,302.1 1005.5,302.1 1012.3,302.0C1019.2,301.8 1026.0,301.5 1032.8,301.4C1039.6,301.2 1046.5,301.1 1053.3,301.2C1060.1,301.2 1067.0,301.3 1073.8,301.5C1080.6,301.7 1087.4,302.1 1094.3,302.5C1101.1,302.8 1107.9,303.3 1114.7,303.9C1121.6,304.4 1128.4,305.0 1135.2,305.7C1142.0,306.3 1148.9,307.0 1155.7,307.7C1162.5,308.4 1169.3,309.1 1176.2,309.9C1183.0,310.6 1189.8,311.3 1196.6,312.0C1203.5,312.7 1213.7,313.7 1217.1,314.1"/>
<path d="M906.5,262.9C908.3,263.4 912.7,264.0 917.0,265.8C921.3,267.5 927.2,271.7 932.3,273.4C937.4,275.2 942.5,275.0 947.6,276.3C952.7,277.6 957.8,279.3 962.9,281.1C968.0,282.8 973.1,284.9 978.2,286.8C983.3,288.7 988.4,291.1 993.5,292.6C998.5,294.0 1003.6,294.5 1008.7,295.4C1013.8,296.4 1021.5,297.8 1024.0,298.3"/>
<path d="M905.5,267.1C908.1,267.7 916.1,268.7 920.8,270.6C925.6,272.4 929.8,275.7 934.2,278.2C938.7,280.8 942.8,283.3 947.6,285.9C952.4,288.4 957.8,291.6 962.9,293.5C968.0,295.4 973.1,296.1 978.2,297.3C983.3,298.6 990.9,300.5 993.5,301.2"/>
<path d="M966.7,303.1C969.2,302.1 976.3,300.5 982.0,297.3C987.7,294.1 994.7,288.3 1001.1,284.0C1007.5,279.7 1013.8,274.7 1020.2,271.5C1026.6,268.3 1034.2,266.7 1039.3,264.8C1044.4,263.0 1047.1,261.5 1050.8,260.6C1054.4,259.8 1059.5,259.8 1061.3,259.7"/>
<path d="M972.4,295.4C974.7,293.8 981.0,288.7 985.8,285.9C990.6,283.0 995.4,280.8 1001.1,278.2C1006.8,275.7 1014.5,272.6 1020.2,270.6C1025.9,268.5 1030.7,266.4 1035.5,265.8C1040.3,265.2 1044.4,265.6 1048.9,266.8C1053.3,267.9 1060.0,271.5 1062.2,272.5"/>
<path d="M928.5,303.1C931.0,301.8 938.0,298.6 943.8,295.4C949.5,292.2 956.5,287.0 962.9,284.0C969.2,280.9 975.6,276.6 982.0,277.3C988.4,277.9 994.7,283.8 1001.1,287.8C1007.5,291.8 1013.8,297.6 1020.2,301.2C1026.6,304.7 1036.1,307.5 1039.3,308.8"/>
<path d="M934.2,305.0C937.1,303.1 945.7,297.5 951.4,293.5C957.1,289.5 963.2,283.5 968.6,281.1C974.0,278.7 978.8,278.5 983.9,279.2C989.0,279.8 993.8,281.9 999.2,284.9C1004.6,287.9 1011.0,294.0 1016.4,297.3C1021.8,300.7 1029.1,303.7 1031.7,305.0"/>
<path d="M830.1,286.4C833.1,286.3 842.0,285.4 848.2,285.5C854.4,285.5 861.0,286.1 867.3,286.8C873.7,287.5 880.1,288.6 886.4,289.7C892.8,290.8 899.2,292.4 905.5,293.5C911.9,294.6 918.3,295.4 924.7,296.4C931.0,297.3 940.6,298.8 943.8,299.2"/>
<path d="M875.0,286.8C877.5,286.6 885.2,285.3 890.3,285.5C895.4,285.6 899.8,286.6 905.5,287.8C911.3,289.0 918.3,291.0 924.7,292.6C931.0,294.1 940.6,296.5 943.8,297.3"/>
<path d="M817.6,316.4C820.2,317.4 827.2,320.7 832.9,322.2C838.7,323.6 845.4,324.9 852.0,325.0C858.7,325.2 866.1,324.6 873.1,323.1C880.1,321.7 886.8,318.5 894.1,316.4C901.4,314.4 908.7,312.0 917.0,310.7C925.3,309.4 939.3,309.1 943.8,308.8"/>
<path d="M819.6,305.0C822.7,305.9 832.3,308.8 838.7,310.7C845.0,312.6 851.4,314.8 857.8,316.4C864.1,318.0 870.5,319.5 876.9,320.3C883.3,321.1 889.3,321.5 896.0,321.2C902.7,320.9 913.5,318.8 917.0,318.3"/>
<path d="M1075.0,309.0C1079.2,306.8 1090.8,299.7 1100.0,296.0C1109.2,292.3 1120.0,289.3 1130.0,287.0C1140.0,284.7 1150.0,283.0 1160.0,282.0C1170.0,281.0 1179.7,280.8 1190.0,281.0C1200.3,281.2 1216.7,282.7 1222.0,283.0"/>
<path d="M1090.0,318.0C1096.7,316.3 1116.7,311.3 1130.0,308.0C1143.3,304.7 1156.7,300.5 1170.0,298.0C1183.3,295.5 1197.7,294.0 1210.0,293.0C1222.3,292.0 1238.3,292.2 1244.0,292.0"/>
<path d="M1150.0,322.0C1156.7,321.0 1178.3,318.7 1190.0,316.0C1201.7,313.3 1211.7,308.0 1220.0,306.0C1228.3,304.0 1236.7,304.3 1240.0,304.0"/>
<path d="M1180.0,324.0C1185.0,323.3 1200.8,322.7 1210.0,320.0C1219.2,317.3 1227.5,310.8 1235.0,308.0C1242.5,305.2 1251.7,303.8 1255.0,303.0"/>
<path d="M1100.0,322.0C1116.7,322.3 1166.7,323.8 1200.0,324.0C1233.3,324.2 1276.7,323.7 1300.0,323.0C1323.3,322.3 1326.7,321.2 1340.0,320.0C1353.3,318.8 1367.0,317.0 1380.0,316.0C1393.0,315.0 1411.7,314.3 1418.0,314.0"/>
<path d="M1150.0,322.0C1166.7,322.0 1216.7,322.1 1250.0,322.0C1283.3,321.9 1316.7,321.7 1350.0,321.5C1383.3,321.3 1416.7,321.2 1450.0,321.0C1483.3,320.8 1533.3,320.6 1550.0,320.5"/>
<path d="M1140.0,315.0C1150.0,315.1 1180.0,315.3 1200.0,315.5C1220.0,315.7 1242.8,315.9 1260.0,316.0C1277.2,316.1 1295.8,316.0 1303.0,316.0"/>
<path d="M1120.0,318.0C1133.3,318.1 1176.7,318.4 1200.0,318.5C1223.3,318.6 1242.0,318.6 1260.0,318.5C1278.0,318.4 1300.0,318.1 1308.0,318.0"/>
</g>
<path d="M877.2,308.5C881.0,308.0 891.2,306.4 900.0,305.5C908.8,304.6 920.0,303.7 930.0,303.0C940.0,302.3 950.0,301.8 960.0,301.2C970.0,300.6 982.8,299.9 990.0,299.6C997.2,299.3 998.0,299.2 1003.0,299.3C1008.0,299.4 1013.8,299.7 1020.0,300.5C1026.2,301.3 1033.3,302.8 1040.0,304.0C1046.7,305.2 1053.3,307.0 1060.0,308.0C1066.7,309.0 1073.3,309.6 1080.0,310.0C1086.7,310.4 1091.5,310.3 1100.0,310.5C1108.5,310.7 1126.0,310.9 1131.2,311.0" fill="none" stroke="#1a1a1a" stroke-width="3.4" stroke-linecap="round"/>
<rect x="816.5" y="57.5" width="734.0" height="281.0" fill="none" stroke="#cccccc" stroke-width="3"/>
<text class="r" x="895.0" y="379.8" font-size="24.4" text-anchor="middle">5</text>
<text class="r" x="982.0" y="379.8" font-size="24.4" text-anchor="middle">6</text>
<text class="r" x="1070.0" y="379.8" font-size="24.4" text-anchor="middle">7</text>
<text class="r" x="1157.0" y="379.8" font-size="24.4" text-anchor="middle">8</text>
<text class="r" x="1245.0" y="379.8" font-size="24.4" text-anchor="middle">9</text>
<text class="r" x="1332.0" y="379.8" font-size="24.4" text-anchor="middle">10</text>
<text class="r" x="1419.0" y="379.8" font-size="24.4" text-anchor="middle">11</text>
<text class="r" x="1507.0" y="379.8" font-size="24.4" text-anchor="middle">12</text>
<text class="t" x="1183.5" y="41.3" font-size="29.7" text-anchor="middle">Posterior predictive for East</text>
<rect x="1290.5" y="65.7" width="251" height="60.2" rx="4" fill="#ffffff" fill-opacity="0.8" stroke="#cccccc" stroke-width="2"/>
<line x1="1298.9" y1="81.5" x2="1335.4" y2="81.5" stroke="#0470b1" stroke-width="3.2" stroke-linecap="round"/>
<line x1="1298.9" y1="109.6" x2="1335.4" y2="109.6" stroke="#1a1a1a" stroke-width="3.2" stroke-linecap="round"/>
<text class="r" x="1348.8" y="88.1" font-size="18.4" text-anchor="start">Posterior predictive</text>
<text class="r" x="1348.8" y="114.5" font-size="18.4" text-anchor="start">Observed</text>
<clipPath id="cp453"><rect x="816.5" y="453.5" width="734.0" height="280.0"/></clipPath>
<line x1="895" y1="453.5" x2="895" y2="733.5" stroke="#cccccc" stroke-width="2"/>
<line x1="982" y1="453.5" x2="982" y2="733.5" stroke="#cccccc" stroke-width="2"/>
<line x1="1070" y1="453.5" x2="1070" y2="733.5" stroke="#cccccc" stroke-width="2"/>
<line x1="1157" y1="453.5" x2="1157" y2="733.5" stroke="#cccccc" stroke-width="2"/>
<line x1="1245" y1="453.5" x2="1245" y2="733.5" stroke="#cccccc" stroke-width="2"/>
<line x1="1332" y1="453.5" x2="1332" y2="733.5" stroke="#cccccc" stroke-width="2"/>
<line x1="1419" y1="453.5" x2="1419" y2="733.5" stroke="#cccccc" stroke-width="2"/>
<line x1="1507" y1="453.5" x2="1507" y2="733.5" stroke="#cccccc" stroke-width="2"/>
<g clip-path="url(#cp453)" fill="none" stroke="#0173b2" stroke-opacity="0.24" stroke-width="1.25">
<path d="M890.5,719.1C894.0,719.1 904.5,718.9 911.5,718.8C918.5,718.7 925.5,718.6 932.5,718.5C939.5,718.4 946.5,718.3 953.5,718.1C960.6,718.0 967.6,717.9 974.6,717.8C981.6,717.6 988.6,717.5 995.6,717.4C1002.6,717.3 1009.6,717.1 1016.6,717.0C1023.6,716.9 1030.6,716.8 1037.6,716.6C1044.7,716.5 1051.7,716.4 1058.7,716.3C1065.7,716.2 1072.7,716.0 1079.7,715.9C1086.7,715.8 1093.7,715.7 1100.7,715.5C1107.7,715.4 1114.7,715.2 1121.7,715.0C1128.8,714.8 1135.8,714.5 1142.8,714.3C1149.8,714.0 1156.8,713.6 1163.8,713.4C1170.8,713.2 1177.8,712.9 1184.8,712.9C1191.8,712.8 1198.8,712.9 1205.8,713.0C1212.9,713.2 1219.9,713.5 1226.9,713.7C1233.9,713.9 1240.9,714.1 1247.9,714.3C1254.9,714.4 1261.9,714.6 1268.9,714.7C1275.9,714.8 1286.4,714.9 1289.9,714.9"/>
<path d="M889.3,713.4C892.8,713.2 903.4,712.5 910.5,712.2C917.5,711.9 924.6,711.7 931.6,711.7C938.7,711.6 945.7,711.7 952.8,711.7C959.8,711.7 966.9,711.8 973.9,711.8C981.0,711.8 988.0,711.8 995.1,711.7C1002.1,711.6 1009.2,711.4 1016.2,711.3C1023.3,711.1 1030.3,710.9 1037.4,710.7C1044.4,710.5 1051.5,710.3 1058.5,710.0C1065.6,709.8 1072.6,709.5 1079.7,709.2C1086.7,708.8 1093.8,708.4 1100.8,707.9C1107.9,707.5 1114.9,706.9 1122.0,706.5C1129.0,706.1 1136.1,705.6 1143.1,705.4C1150.2,705.2 1157.2,705.2 1164.3,705.3C1171.3,705.4 1181.9,705.8 1185.4,705.9"/>
<path d="M848.4,716.3C851.8,716.3 862.1,716.2 869.0,716.1C875.9,716.0 882.7,716.0 889.6,715.9C896.5,715.8 903.3,715.7 910.2,715.5C917.1,715.4 924.0,715.2 930.8,715.0C937.7,714.7 944.6,714.4 951.4,714.1C958.3,713.7 965.2,713.3 972.0,712.9C978.9,712.6 985.8,712.2 992.7,711.9C999.5,711.7 1006.4,711.6 1013.3,711.6C1020.1,711.6 1027.0,711.8 1033.9,711.9C1040.7,712.0 1047.6,712.2 1054.5,712.4C1061.3,712.5 1068.2,712.6 1075.1,712.6C1082.0,712.6 1088.8,712.6 1095.7,712.5C1102.6,712.5 1109.4,712.4 1116.3,712.3C1123.2,712.2 1130.0,712.1 1136.9,712.0C1143.8,711.9 1154.1,711.7 1157.5,711.7"/>
<path d="M999.5,715.1C1003.0,714.9 1013.5,714.1 1020.6,713.6C1027.6,713.2 1034.6,712.6 1041.6,712.3C1048.6,712.0 1055.6,711.8 1062.6,711.8C1069.6,711.7 1076.6,711.9 1083.6,712.0C1090.6,712.0 1097.6,712.2 1104.6,712.2C1111.6,712.2 1118.6,712.2 1125.7,712.1C1132.7,712.0 1139.7,711.9 1146.7,711.8C1153.7,711.8 1160.7,711.7 1167.7,711.6C1174.7,711.6 1181.7,711.5 1188.7,711.5C1195.7,711.5 1202.7,711.5 1209.7,711.5C1216.7,711.5 1223.8,711.6 1230.8,711.7C1237.8,711.7 1244.8,711.8 1251.8,711.9C1258.8,712.0 1265.8,712.2 1272.8,712.3C1279.8,712.4 1286.8,712.6 1293.8,712.8C1300.8,713.0 1307.8,713.1 1314.8,713.3C1321.8,713.5 1328.9,713.7 1335.9,714.0C1342.9,714.2 1349.9,714.4 1356.9,714.6C1363.9,714.8 1370.9,715.0 1377.9,715.3C1384.9,715.5 1395.4,715.8 1398.9,715.9"/>
<path d="M858.2,708.8C861.6,708.7 871.9,708.5 878.7,708.4C885.6,708.3 892.5,708.1 899.3,708.0C906.2,707.9 913.0,707.7 919.9,707.6C926.7,707.4 933.6,707.3 940.5,707.2C947.3,707.0 954.2,706.9 961.0,706.8C967.9,706.7 974.7,706.5 981.6,706.4C988.4,706.3 995.3,706.2 1002.2,706.0C1009.0,705.9 1015.9,705.8 1022.7,705.7C1029.6,705.6 1036.4,705.5 1043.3,705.4C1050.2,705.3 1057.0,705.2 1063.9,705.1C1070.7,705.0 1077.6,704.9 1084.4,704.9C1091.3,704.8 1098.1,704.7 1105.0,704.6C1111.9,704.6 1118.7,704.5 1125.6,704.5C1132.4,704.4 1139.3,704.4 1146.1,704.4C1153.0,704.4 1163.3,704.3 1166.7,704.3"/>
<path d="M894.0,715.5C897.3,715.5 907.4,715.5 914.0,715.4C920.7,715.4 927.4,715.3 934.1,715.3C940.8,715.3 947.4,715.2 954.1,715.2C960.8,715.1 967.5,715.1 974.2,715.0C980.9,714.9 987.5,714.8 994.2,714.7C1000.9,714.6 1007.6,714.5 1014.3,714.4C1020.9,714.3 1027.6,714.1 1034.3,713.9C1041.0,713.8 1047.7,713.6 1054.3,713.5C1061.0,713.3 1067.7,713.2 1074.4,713.2C1081.1,713.1 1087.8,713.1 1094.4,713.1C1101.1,713.1 1107.8,713.2 1114.5,713.3C1121.2,713.4 1127.8,713.5 1134.5,713.6C1141.2,713.6 1147.9,713.7 1154.6,713.8C1161.2,713.8 1167.9,713.8 1174.6,713.8C1181.3,713.9 1188.0,713.9 1194.7,713.9C1201.3,713.9 1208.0,713.9 1214.7,713.9C1221.4,713.9 1228.1,713.8 1234.7,713.8C1241.4,713.8 1248.1,713.8 1254.8,713.8C1261.5,713.9 1268.1,713.9 1274.8,713.9C1281.5,713.9 1288.2,713.9 1294.9,713.9C1301.6,713.9 1308.2,713.9 1314.9,714.0C1321.6,714.0 1328.3,714.0 1335.0,714.0C1341.6,714.0 1348.3,714.1 1355.0,714.1C1361.7,714.1 1368.4,714.2 1375.0,714.2C1381.7,714.2 1391.7,714.3 1395.1,714.3"/>
<path d="M984.6,716.3C988.3,716.1 999.3,715.7 1006.7,715.4C1014.1,715.1 1021.4,714.9 1028.8,714.7C1036.2,714.6 1043.6,714.5 1050.9,714.4C1058.3,714.4 1065.7,714.5 1073.0,714.6C1080.4,714.7 1087.8,714.9 1095.2,715.0C1102.5,715.2 1109.9,715.5 1117.3,715.6C1124.7,715.8 1132.0,716.0 1139.4,716.2C1146.8,716.4 1154.2,716.5 1161.5,716.6C1168.9,716.7 1180.0,716.9 1183.6,716.9"/>
<path d="M800.1,721.8C803.5,721.8 813.6,721.7 820.3,721.7C827.0,721.7 833.8,721.7 840.5,721.7C847.3,721.7 854.0,721.7 860.7,721.7C867.5,721.7 874.2,721.7 880.9,721.7C887.7,721.6 894.4,721.6 901.2,721.6C907.9,721.6 914.6,721.6 921.4,721.5C928.1,721.5 934.9,721.4 941.6,721.4C948.3,721.3 955.1,721.2 961.8,721.0C968.5,720.8 975.3,720.6 982.0,720.2C988.8,719.9 995.5,719.3 1002.2,718.8C1009.0,718.4 1015.7,717.7 1022.4,717.4C1029.2,717.0 1035.9,716.8 1042.7,716.8C1049.4,716.8 1056.1,717.2 1062.9,717.4C1069.6,717.6 1076.4,718.0 1083.1,718.1C1089.8,718.3 1096.6,718.3 1103.3,718.3C1110.0,718.3 1116.8,718.1 1123.5,717.9C1130.3,717.8 1137.0,717.6 1143.7,717.3C1150.5,717.1 1157.2,716.9 1163.9,716.7C1170.7,716.5 1177.4,716.2 1184.2,716.0C1190.9,715.8 1197.6,715.6 1204.4,715.4C1211.1,715.2 1217.8,715.0 1224.6,714.9C1231.3,714.7 1238.1,714.5 1244.8,714.4C1251.5,714.3 1258.3,714.2 1265.0,714.1C1271.8,714.0 1278.5,713.9 1285.2,713.9C1292.0,713.8 1298.7,713.8 1305.4,713.9C1312.2,713.9 1318.9,713.9 1325.7,714.0C1332.4,714.0 1339.1,714.1 1345.9,714.2C1352.6,714.4 1362.7,714.6 1366.1,714.6"/>
<path d="M997.9,710.0C1001.3,709.9 1011.6,709.6 1018.4,709.3C1025.3,709.1 1032.1,708.9 1039.0,708.7C1045.8,708.5 1052.6,708.3 1059.5,708.1C1066.3,707.8 1073.2,707.6 1080.0,707.5C1086.9,707.3 1093.7,707.1 1100.6,706.9C1107.4,706.7 1114.3,706.6 1121.1,706.4C1128.0,706.3 1134.8,706.2 1141.7,706.1C1148.5,706.0 1155.4,705.9 1162.2,705.8C1169.1,705.7 1175.9,705.7 1182.8,705.6C1189.6,705.6 1199.9,705.6 1203.3,705.6"/>
<path d="M814.9,718.2C818.3,718.2 828.4,718.2 835.2,718.1C842.0,718.1 848.8,718.1 855.6,718.1C862.4,718.0 869.2,718.0 876.0,718.0C882.8,717.9 889.6,717.9 896.4,717.9C903.2,717.8 910.0,717.8 916.8,717.8C923.6,717.7 930.4,717.7 937.2,717.6C944.0,717.6 950.8,717.6 957.6,717.5C964.4,717.5 971.1,717.4 977.9,717.4C984.7,717.3 991.5,717.3 998.3,717.2C1005.1,717.2 1011.9,717.1 1018.7,717.0C1025.5,716.9 1032.3,716.9 1039.1,716.8C1045.9,716.6 1052.7,716.5 1059.5,716.4C1066.3,716.3 1073.1,716.1 1079.9,715.9C1086.7,715.8 1093.5,715.6 1100.3,715.4C1107.1,715.3 1113.8,715.1 1120.6,715.0C1127.4,714.9 1134.2,714.8 1141.0,714.7C1147.8,714.7 1154.6,714.7 1161.4,714.7C1168.2,714.7 1175.0,714.8 1181.8,714.9C1188.6,715.0 1198.8,715.2 1202.2,715.3"/>
<path d="M836.6,719.3C840.0,719.1 850.4,718.6 857.3,718.2C864.2,717.8 871.1,717.4 878.0,716.9C884.9,716.4 891.8,715.9 898.7,715.5C905.6,715.1 912.5,714.6 919.4,714.3C926.3,714.1 933.2,713.9 940.1,713.7C947.0,713.6 953.9,713.7 960.8,713.7C967.7,713.7 974.6,713.8 981.5,713.9C988.4,713.9 995.3,714.0 1002.2,714.0C1009.1,714.0 1016.0,714.0 1022.9,713.9C1029.8,713.8 1036.7,713.7 1043.6,713.6C1050.5,713.4 1057.4,713.3 1064.3,713.1C1071.2,712.9 1078.1,712.7 1085.0,712.6C1091.9,712.4 1098.8,712.2 1105.7,712.0C1112.6,711.9 1119.5,711.7 1126.4,711.6C1133.3,711.5 1140.2,711.4 1147.1,711.3C1154.0,711.2 1160.9,711.1 1167.8,711.1C1174.7,711.0 1185.1,711.0 1188.5,711.0"/>
<path d="M847.7,714.3C851.1,714.2 861.5,714.1 868.5,714.0C875.4,713.9 882.4,713.8 889.3,713.7C896.2,713.6 903.2,713.4 910.1,713.3C917.0,713.2 924.0,713.0 930.9,712.8C937.8,712.7 944.8,712.5 951.7,712.3C958.6,712.2 965.6,712.0 972.5,711.8C979.4,711.6 986.4,711.4 993.3,711.2C1000.2,711.0 1007.2,710.7 1014.1,710.5C1021.0,710.3 1028.0,710.1 1034.9,709.8C1041.8,709.6 1048.8,709.4 1055.7,709.1C1062.6,708.9 1069.6,708.7 1076.5,708.4C1083.4,708.2 1090.4,708.0 1097.3,707.7C1104.2,707.5 1111.2,707.3 1118.1,707.0C1125.1,706.8 1132.0,706.6 1138.9,706.3C1145.9,706.1 1152.8,705.8 1159.7,705.5C1166.7,705.2 1173.6,704.8 1180.5,704.4C1187.5,704.1 1194.4,703.6 1201.3,703.2C1208.3,702.8 1215.2,702.3 1222.1,701.9C1229.1,701.6 1236.0,701.3 1242.9,701.2C1249.9,701.1 1256.8,701.2 1263.7,701.4C1270.7,701.6 1277.6,702.0 1284.5,702.4C1291.5,702.8 1298.4,703.3 1305.3,703.8C1312.3,704.3 1322.7,704.9 1326.1,705.2"/>
<path d="M930.7,712.2C934.2,712.2 944.5,712.1 951.4,712.0C958.4,712.0 965.3,711.9 972.2,711.8C979.1,711.8 986.0,711.7 992.9,711.6C999.8,711.6 1006.7,711.5 1013.6,711.4C1020.6,711.4 1027.5,711.3 1034.4,711.2C1041.3,711.2 1048.2,711.1 1055.1,711.0C1062.0,710.9 1068.9,710.9 1075.9,710.8C1082.8,710.7 1089.7,710.7 1096.6,710.6C1103.5,710.5 1110.4,710.5 1117.3,710.4C1124.2,710.3 1131.2,710.3 1138.1,710.2C1145.0,710.2 1151.9,710.1 1158.8,710.1C1165.7,710.0 1172.6,710.0 1179.5,709.9C1186.5,709.9 1193.4,709.8 1200.3,709.8C1207.2,709.8 1214.1,709.7 1221.0,709.7C1227.9,709.7 1234.8,709.6 1241.8,709.6C1248.7,709.6 1255.6,709.6 1262.5,709.6C1269.4,709.6 1276.3,709.5 1283.2,709.5C1290.1,709.5 1300.5,709.6 1304.0,709.6"/>
<path d="M853.8,712.4C857.2,712.3 867.4,712.2 874.2,712.1C881.0,711.9 887.8,711.8 894.6,711.7C901.4,711.6 908.2,711.5 915.0,711.4C921.8,711.3 928.6,711.3 935.4,711.2C942.1,711.2 948.9,711.2 955.7,711.1C962.5,711.1 969.3,711.1 976.1,711.1C982.9,711.1 989.7,711.0 996.5,711.0C1003.3,711.0 1010.1,710.9 1016.9,710.9C1023.7,710.8 1030.5,710.8 1037.3,710.7C1044.0,710.6 1050.8,710.6 1057.6,710.5C1064.4,710.5 1071.2,710.4 1078.0,710.4C1084.8,710.3 1091.6,710.2 1098.4,710.2C1105.2,710.1 1112.0,710.1 1118.8,710.1C1125.6,710.0 1132.4,710.0 1139.2,709.9C1145.9,709.9 1152.7,709.9 1159.5,709.9C1166.3,709.8 1173.1,709.8 1179.9,709.8C1186.7,709.8 1193.5,709.8 1200.3,709.8C1207.1,709.8 1213.9,709.8 1220.7,709.8C1227.5,709.8 1234.3,709.8 1241.0,709.8C1247.8,709.8 1258.0,709.9 1261.4,709.9"/>
<path d="M946.6,719.5C950.1,719.4 960.5,719.2 967.5,719.1C974.4,719.0 981.4,718.8 988.3,718.7C995.3,718.6 1002.2,718.4 1009.2,718.3C1016.1,718.1 1023.1,717.9 1030.1,717.8C1037.0,717.6 1044.0,717.4 1050.9,717.1C1057.9,716.9 1064.8,716.6 1071.8,716.3C1078.8,715.9 1085.7,715.5 1092.7,715.1C1099.6,714.7 1106.6,714.2 1113.5,713.8C1120.5,713.3 1127.4,712.8 1134.4,712.4C1141.4,712.0 1148.3,711.6 1155.3,711.3C1162.2,711.1 1169.2,710.9 1176.1,710.9C1183.1,710.9 1190.1,711.0 1197.0,711.1C1204.0,711.2 1210.9,711.5 1217.9,711.7C1224.8,711.9 1231.8,712.2 1238.7,712.4C1245.7,712.6 1252.7,712.8 1259.6,713.0C1266.6,713.1 1277.0,713.3 1280.5,713.3"/>
<path d="M896.4,710.1C899.9,710.0 910.3,709.7 917.2,709.4C924.1,709.2 931.1,709.0 938.0,708.8C944.9,708.5 951.8,708.3 958.8,708.1C965.7,707.8 972.6,707.6 979.5,707.4C986.5,707.2 993.4,706.9 1000.3,706.7C1007.2,706.5 1014.1,706.3 1021.1,706.1C1028.0,705.9 1034.9,705.7 1041.8,705.5C1048.8,705.4 1055.7,705.2 1062.6,705.0C1069.5,704.9 1076.5,704.7 1083.4,704.6C1090.3,704.5 1097.2,704.4 1104.2,704.3C1111.1,704.2 1118.0,704.1 1124.9,704.0C1131.8,704.0 1138.8,703.9 1145.7,703.9C1152.6,703.9 1159.5,703.9 1166.5,703.9C1173.4,703.9 1180.3,703.9 1187.2,704.0C1194.2,704.0 1201.1,704.1 1208.0,704.1C1214.9,704.2 1221.8,704.3 1228.8,704.4C1235.7,704.5 1242.6,704.7 1249.5,704.8C1256.5,705.0 1263.4,705.1 1270.3,705.3C1277.2,705.4 1284.2,705.6 1291.1,705.8C1298.0,706.0 1304.9,706.2 1311.9,706.4C1318.8,706.6 1329.2,706.9 1332.6,707.0"/>
<path d="M980.0,716.6C983.5,716.5 993.9,716.3 1000.9,716.1C1007.8,715.9 1014.8,715.7 1021.7,715.5C1028.7,715.4 1035.6,715.2 1042.6,715.0C1049.5,714.8 1056.4,714.5 1063.4,714.3C1070.3,714.1 1077.3,713.9 1084.2,713.7C1091.2,713.4 1098.1,713.2 1105.1,713.0C1112.0,712.7 1119.0,712.5 1125.9,712.2C1132.8,712.0 1139.8,711.7 1146.7,711.4C1153.7,711.1 1160.6,710.7 1167.6,710.3C1174.5,709.9 1181.5,709.4 1188.4,708.9C1195.4,708.4 1202.3,707.8 1209.2,707.2C1216.2,706.6 1223.1,705.9 1230.1,705.4C1237.0,704.9 1244.0,704.3 1250.9,704.1C1257.9,703.8 1264.8,703.7 1271.8,703.7C1278.7,703.8 1285.7,704.1 1292.6,704.5C1299.5,704.8 1306.5,705.4 1313.4,705.9C1320.4,706.3 1330.8,707.1 1334.3,707.4"/>
<path d="M916.5,710.7C919.9,710.7 930.1,710.5 936.8,710.4C943.6,710.3 950.4,710.1 957.1,710.0C963.9,709.8 970.7,709.6 977.4,709.4C984.2,709.2 991.0,709.0 997.7,708.7C1004.5,708.4 1011.3,708.0 1018.0,707.7C1024.8,707.3 1031.6,706.8 1038.3,706.5C1045.1,706.1 1051.9,705.7 1058.6,705.4C1065.4,705.1 1072.2,704.9 1078.9,704.8C1085.7,704.7 1092.5,704.8 1099.2,704.9C1106.0,704.9 1112.8,705.1 1119.5,705.3C1126.3,705.4 1133.1,705.6 1139.8,705.7C1146.6,705.8 1153.4,705.9 1160.1,706.0C1166.9,706.0 1173.7,706.0 1180.4,706.0C1187.2,705.9 1194.0,705.9 1200.7,705.8C1207.5,705.8 1214.3,705.7 1221.0,705.7C1227.8,705.6 1234.6,705.6 1241.3,705.5C1248.1,705.5 1254.9,705.4 1261.6,705.4C1268.4,705.4 1275.2,705.4 1281.9,705.3C1288.7,705.3 1298.8,705.3 1302.2,705.3"/>
<path d="M967.7,718.8C971.1,718.7 981.2,718.7 988.0,718.6C994.8,718.6 1001.6,718.5 1008.3,718.5C1015.1,718.4 1021.9,718.4 1028.7,718.3C1035.4,718.3 1042.2,718.2 1049.0,718.2C1055.8,718.1 1062.5,718.0 1069.3,717.9C1076.1,717.9 1082.9,717.8 1089.6,717.7C1096.4,717.6 1103.2,717.6 1110.0,717.5C1116.7,717.4 1123.5,717.4 1130.3,717.3C1137.1,717.3 1143.8,717.2 1150.6,717.2C1157.4,717.2 1167.6,717.2 1170.9,717.2"/>
<path d="M897.3,715.4C900.7,715.3 911.1,715.3 918.0,715.2C924.9,715.2 931.8,715.1 938.7,715.0C945.6,715.0 952.5,714.9 959.5,714.9C966.4,714.8 973.3,714.7 980.2,714.7C987.1,714.6 994.0,714.5 1000.9,714.5C1007.8,714.4 1014.7,714.3 1021.7,714.3C1028.6,714.2 1035.5,714.1 1042.4,714.1C1049.3,714.0 1056.2,713.9 1063.1,713.9C1070.0,713.8 1076.9,713.7 1083.9,713.7C1090.8,713.6 1097.7,713.5 1104.6,713.4C1111.5,713.3 1118.4,713.2 1125.3,713.0C1132.2,712.8 1139.1,712.6 1146.0,712.4C1153.0,712.2 1159.9,711.9 1166.8,711.7C1173.7,711.6 1180.6,711.4 1187.5,711.3C1194.4,711.2 1201.3,711.2 1208.2,711.2C1215.2,711.3 1222.1,711.5 1229.0,711.6C1235.9,711.8 1242.8,712.0 1249.7,712.2C1256.6,712.3 1263.5,712.5 1270.4,712.6C1277.4,712.7 1284.3,712.8 1291.2,712.9C1298.1,712.9 1305.0,713.0 1311.9,713.0C1318.8,713.1 1325.7,713.1 1332.6,713.2C1339.6,713.2 1346.5,713.3 1353.4,713.3C1360.3,713.4 1370.6,713.4 1374.1,713.5"/>
<path d="M933.2,712.4C936.6,712.2 946.8,711.7 953.7,711.2C960.5,710.6 967.3,709.9 974.2,709.1C981.0,708.3 987.8,707.2 994.7,706.4C1001.5,705.6 1008.3,704.8 1015.2,704.4C1022.0,704.1 1028.8,704.1 1035.7,704.4C1042.5,704.6 1049.3,705.4 1056.2,706.0C1063.0,706.6 1069.8,707.3 1076.7,707.7C1083.5,708.2 1090.3,708.4 1097.1,708.6C1104.0,708.7 1110.8,708.6 1117.6,708.6C1124.5,708.5 1131.3,708.4 1138.1,708.3C1145.0,708.2 1151.8,708.0 1158.6,707.9C1165.5,707.8 1172.3,707.7 1179.1,707.6C1186.0,707.5 1196.2,707.4 1199.6,707.3"/>
<path d="M996.1,710.5C999.6,710.4 1010.2,710.3 1017.2,710.1C1024.3,710.0 1031.3,709.9 1038.4,709.8C1045.4,709.7 1052.4,709.5 1059.5,709.4C1066.5,709.3 1073.6,709.2 1080.6,709.0C1087.7,708.9 1094.7,708.7 1101.8,708.5C1108.8,708.3 1115.9,708.1 1122.9,707.9C1130.0,707.7 1137.0,707.5 1144.1,707.3C1151.1,707.1 1158.2,706.8 1165.2,706.6C1172.2,706.4 1179.3,706.2 1186.3,706.0C1193.4,705.9 1200.4,705.7 1207.5,705.7C1214.5,705.6 1221.6,705.6 1228.6,705.6C1235.7,705.6 1242.7,705.6 1249.8,705.6C1256.8,705.6 1263.9,705.6 1270.9,705.5C1277.9,705.5 1285.0,705.3 1292.0,705.2C1299.1,705.1 1306.1,705.0 1313.2,705.1C1320.2,705.2 1327.3,705.5 1334.3,705.8C1341.4,706.0 1351.9,706.6 1355.5,706.7"/>
<path d="M1094.9,714.2C1098.3,714.2 1108.6,714.1 1115.4,714.0C1122.2,713.9 1129.1,713.9 1135.9,713.8C1142.7,713.8 1149.5,713.8 1156.4,713.8C1163.2,713.8 1170.0,713.9 1176.8,713.9C1183.7,713.9 1190.5,714.0 1197.3,714.1C1204.2,714.2 1211.0,714.3 1217.8,714.4C1224.6,714.5 1231.5,714.6 1238.3,714.7C1245.1,714.9 1252.0,715.1 1258.8,715.1C1265.6,715.1 1272.4,715.3 1279.3,715.0C1286.1,714.7 1292.9,714.0 1299.7,713.2C1306.6,712.5 1313.4,710.8 1320.2,710.5C1327.1,710.1 1333.9,710.3 1340.7,711.0C1347.5,711.7 1354.4,713.6 1361.2,714.6C1368.0,715.6 1374.8,716.5 1381.7,717.0C1388.5,717.6 1395.3,717.6 1402.2,717.8C1409.0,718.0 1415.8,718.0 1422.6,718.1C1429.5,718.1 1436.3,718.2 1443.1,718.2C1450.0,718.3 1456.8,718.3 1463.6,718.4C1470.4,718.4 1480.7,718.4 1484.1,718.5"/>
<path d="M1000.3,720.2C1003.8,720.1 1014.1,719.9 1021.0,719.7C1027.8,719.4 1034.7,719.2 1041.6,719.0C1048.5,718.7 1055.3,718.5 1062.2,718.1C1069.1,717.8 1076.0,717.5 1082.8,717.1C1089.7,716.7 1096.6,716.3 1103.5,715.6C1110.4,714.9 1117.2,714.1 1124.1,712.9C1131.0,711.7 1137.9,710.2 1144.7,708.5C1151.6,706.8 1158.5,704.6 1165.4,702.8C1172.2,701.1 1179.1,699.0 1186.0,698.1C1192.9,697.1 1199.7,696.6 1206.6,696.9C1213.5,697.3 1220.4,698.7 1227.2,700.2C1234.1,701.7 1241.0,704.0 1247.9,705.8C1254.7,707.6 1261.6,709.5 1268.5,710.8C1275.4,712.1 1282.3,713.1 1289.1,713.7C1296.0,714.3 1302.9,714.2 1309.8,714.5C1316.6,714.7 1323.5,714.6 1330.4,715.0C1337.3,715.3 1344.1,716.0 1351.0,716.6C1357.9,717.2 1364.8,718.1 1371.6,718.6C1378.5,719.1 1385.4,719.5 1392.3,719.8C1399.1,720.1 1406.0,720.3 1412.9,720.5C1419.8,720.7 1426.7,720.8 1433.5,720.9C1440.4,721.0 1447.3,721.1 1454.2,721.2C1461.0,721.3 1471.3,721.4 1474.8,721.4"/>
<path d="M1101.8,708.0C1105.2,707.8 1115.3,707.2 1122.1,706.7C1128.9,706.2 1135.7,705.6 1142.5,704.9C1149.2,704.2 1156.0,703.3 1162.8,702.4C1169.6,701.5 1176.3,700.3 1183.1,699.4C1189.9,698.6 1196.7,697.6 1203.5,697.1C1210.2,696.7 1217.0,696.6 1223.8,697.0C1230.6,697.4 1237.4,698.4 1244.1,699.5C1250.9,700.6 1257.7,702.3 1264.5,703.7C1271.2,705.1 1278.0,706.6 1284.8,707.9C1291.6,709.1 1298.4,710.2 1305.1,711.1C1311.9,712.1 1322.1,713.1 1325.5,713.4"/>
<path d="M1177.1,713.1C1180.7,713.0 1191.4,712.8 1198.5,712.3C1205.7,711.9 1212.8,711.4 1219.9,710.2C1227.1,709.1 1234.2,707.6 1241.3,705.5C1248.5,703.3 1255.6,700.3 1262.8,697.1C1269.9,693.9 1277.0,689.7 1284.2,686.4C1291.3,683.1 1298.4,679.0 1305.6,677.3C1312.7,675.7 1319.8,675.0 1327.0,676.5C1334.1,678.0 1341.3,682.6 1348.4,686.5C1355.5,690.4 1362.7,696.1 1369.8,699.9C1376.9,703.6 1384.1,706.7 1391.2,708.9C1398.3,711.1 1405.5,712.0 1412.6,713.0C1419.8,713.9 1426.9,714.2 1434.0,714.5C1441.2,714.9 1451.9,715.1 1455.4,715.2"/>
<path d="M1138.0,698.9C1141.5,697.7 1151.8,693.2 1158.6,691.2C1165.5,689.2 1172.4,687.3 1179.3,686.8C1186.1,686.2 1193.0,686.8 1199.9,687.7C1206.8,688.6 1213.6,689.9 1220.5,691.9C1227.4,694.0 1234.3,697.7 1241.2,700.0C1248.0,702.4 1254.9,704.7 1261.8,705.9C1268.7,707.2 1275.5,707.3 1282.4,707.7C1289.3,708.0 1296.2,708.1 1303.0,708.2C1309.9,708.4 1316.8,708.6 1323.7,708.7C1330.5,708.9 1337.4,709.1 1344.3,709.2C1351.2,709.4 1358.0,709.6 1364.9,709.7C1371.8,709.9 1378.7,710.1 1385.5,710.2C1392.4,710.4 1399.3,710.5 1406.2,710.7C1413.0,710.8 1419.9,711.0 1426.8,711.1C1433.7,711.3 1440.5,711.4 1447.4,711.5C1454.3,711.6 1461.2,711.7 1468.0,711.8C1474.9,712.0 1485.2,712.1 1488.7,712.1"/>
<path d="M1150.7,706.4C1154.2,706.1 1164.7,705.4 1171.8,704.6C1178.8,703.9 1185.8,702.6 1192.9,701.8C1199.9,700.9 1207.0,699.8 1214.0,699.5C1221.0,699.2 1228.1,699.6 1235.1,700.0C1242.1,700.4 1249.2,701.3 1256.2,701.8C1263.3,702.4 1270.3,702.7 1277.3,703.3C1284.4,703.8 1291.4,704.6 1298.4,705.2C1305.5,705.9 1312.5,706.6 1319.6,707.1C1326.6,707.6 1333.6,707.9 1340.7,708.1C1347.7,708.4 1358.3,708.7 1361.8,708.8"/>
<path d="M1191.2,694.0C1194.9,692.4 1206.0,686.6 1213.4,684.8C1220.8,682.9 1228.3,682.3 1235.7,682.9C1243.1,683.5 1250.5,686.0 1257.9,688.5C1265.3,691.0 1272.8,694.8 1280.2,697.9C1287.6,700.9 1295.0,704.3 1302.4,706.7C1309.8,709.2 1317.3,711.0 1324.7,712.5C1332.1,713.9 1343.2,714.9 1346.9,715.3"/>
<path d="M1199.7,705.5C1203.1,705.5 1213.1,705.3 1219.8,705.3C1226.5,705.2 1233.2,705.2 1239.9,705.1C1246.6,705.1 1253.3,705.1 1260.0,705.1C1266.7,705.0 1273.4,705.0 1280.1,705.1C1286.8,705.1 1293.5,705.1 1300.2,705.1C1306.9,705.2 1313.7,705.2 1320.4,705.3C1327.1,705.4 1333.8,705.5 1340.5,705.5C1347.2,705.6 1353.9,705.7 1360.6,705.8C1367.3,706.0 1374.0,706.1 1380.7,706.2C1387.4,706.3 1394.1,706.5 1400.8,706.6C1407.5,706.7 1414.2,706.9 1420.9,707.0C1427.6,707.2 1437.7,707.4 1441.0,707.5"/>
<path d="M1045.9,708.0C1049.3,707.9 1059.3,707.6 1066.0,707.5C1072.7,707.3 1079.4,707.1 1086.1,706.9C1092.8,706.7 1099.5,706.6 1106.2,706.4C1112.9,706.1 1119.6,705.9 1126.2,705.5C1132.9,705.0 1139.6,704.6 1146.3,703.6C1153.0,702.7 1159.7,701.5 1166.4,699.8C1173.1,698.1 1179.8,695.7 1186.5,693.6C1193.2,691.4 1199.9,688.6 1206.6,686.9C1213.3,685.2 1220.0,683.6 1226.7,683.3C1233.4,683.1 1240.1,684.0 1246.8,685.4C1253.5,686.8 1260.2,689.6 1266.9,691.8C1273.5,694.1 1280.2,696.9 1286.9,698.9C1293.6,701.0 1300.3,702.7 1307.0,704.0C1313.7,705.4 1320.4,706.1 1327.1,706.8C1333.8,707.5 1340.5,707.8 1347.2,708.2C1353.9,708.6 1360.6,708.8 1367.3,709.1C1374.0,709.3 1380.7,709.5 1387.4,709.8C1394.1,710.0 1400.8,710.2 1407.5,710.4C1414.1,710.6 1420.8,710.9 1427.5,711.1C1434.2,711.3 1444.3,711.6 1447.6,711.7"/>
<path d="M1128.0,713.3C1131.6,713.0 1142.2,712.1 1149.2,711.5C1156.3,710.9 1163.4,710.3 1170.4,709.8C1177.5,709.3 1184.5,708.8 1191.6,708.4C1198.7,708.0 1205.7,707.7 1212.8,707.6C1219.8,707.4 1226.9,707.3 1234.0,707.4C1241.0,707.5 1248.1,707.7 1255.2,707.9C1262.2,708.2 1269.3,708.6 1276.3,709.1C1283.4,709.6 1290.5,710.1 1297.5,710.7C1304.6,711.3 1311.6,711.9 1318.7,712.5C1325.8,713.1 1332.8,713.7 1339.9,714.3C1347.0,714.8 1354.0,715.4 1361.1,715.9C1368.1,716.3 1375.2,716.8 1382.3,717.2C1389.3,717.6 1396.4,717.9 1403.4,718.2C1410.5,718.4 1421.1,718.7 1424.6,718.9"/>
<path d="M1138.8,712.9C1142.5,712.8 1153.5,712.6 1160.8,712.5C1168.2,712.5 1175.5,712.4 1182.8,712.4C1190.2,712.4 1197.5,712.4 1204.8,712.5C1212.2,712.5 1219.5,712.6 1226.8,712.7C1234.2,712.9 1241.5,713.0 1248.9,713.2C1256.2,713.4 1263.5,713.6 1270.9,713.8C1278.2,714.0 1285.5,714.3 1292.9,714.5C1300.2,714.8 1307.5,715.0 1314.9,715.3C1322.2,715.6 1333.2,716.0 1336.9,716.1"/>
<path d="M1112.0,704.1C1115.3,702.6 1125.4,698.3 1132.1,695.4C1138.9,692.5 1145.6,688.9 1152.3,686.7C1159.0,684.4 1165.8,682.3 1172.5,681.7C1179.2,681.0 1185.9,681.6 1192.6,682.7C1199.4,683.9 1206.1,686.4 1212.8,688.6C1219.5,690.7 1226.2,693.5 1233.0,695.6C1239.7,697.6 1246.4,699.6 1253.1,700.9C1259.9,702.1 1266.6,703.4 1273.3,703.0C1280.0,702.6 1286.7,701.6 1293.5,698.5C1300.2,695.4 1306.9,687.6 1313.6,684.3C1320.3,680.9 1327.1,676.8 1333.8,678.2C1340.5,679.6 1347.2,687.9 1353.9,692.6C1360.7,697.3 1367.4,703.2 1374.1,706.3C1380.8,709.3 1387.6,709.9 1394.3,710.9C1401.0,712.0 1407.7,712.1 1414.4,712.6C1421.2,713.1 1427.9,713.5 1434.6,714.0C1441.3,714.4 1448.0,714.8 1454.8,715.2C1461.5,715.6 1471.6,716.2 1474.9,716.4"/>
<path d="M1006.2,706.9C1009.6,706.8 1019.7,706.6 1026.5,706.4C1033.2,706.3 1040.0,706.1 1046.8,706.0C1053.5,705.8 1060.3,705.7 1067.1,705.5C1073.8,705.4 1080.6,705.3 1087.4,705.2C1094.1,705.0 1100.9,704.9 1107.7,704.8C1114.4,704.8 1121.2,704.7 1128.0,704.6C1134.7,704.5 1141.5,704.5 1148.3,704.4C1155.0,704.4 1161.8,704.4 1168.5,704.3C1175.3,704.3 1182.1,704.3 1188.8,704.3C1195.6,704.3 1202.4,704.4 1209.1,704.4C1215.9,704.5 1222.7,704.5 1229.4,704.6C1236.2,704.6 1243.0,704.7 1249.7,704.8C1256.5,704.9 1263.3,705.0 1270.0,705.1C1276.8,705.2 1283.6,705.4 1290.3,705.5C1297.1,705.6 1307.2,705.8 1310.6,705.9"/>
<path d="M1142.1,701.2C1145.6,700.2 1156.1,697.0 1163.1,695.2C1170.2,693.4 1177.2,691.1 1184.2,690.3C1191.3,689.5 1198.3,689.9 1205.3,690.6C1212.3,691.2 1219.4,693.1 1226.4,694.4C1233.4,695.6 1240.5,697.1 1247.5,698.1C1254.5,699.1 1261.5,699.7 1268.6,700.3C1275.6,700.9 1282.6,701.2 1289.6,701.5C1296.7,701.8 1303.7,702.0 1310.7,702.3C1317.8,702.6 1324.8,702.9 1331.8,703.2C1338.8,703.5 1349.4,704.0 1352.9,704.1"/>
<path d="M1028.4,710.6C1031.9,710.4 1042.5,710.1 1049.6,709.7C1056.6,709.4 1063.7,709.2 1070.8,708.4C1077.9,707.7 1084.9,706.7 1092.0,705.2C1099.1,703.6 1106.1,700.7 1113.2,699.1C1120.3,697.4 1127.4,695.6 1134.4,695.5C1141.5,695.4 1148.6,697.3 1155.6,698.4C1162.7,699.5 1169.8,701.3 1176.9,702.1C1183.9,703.0 1191.0,703.2 1198.1,703.4C1205.1,703.6 1212.2,703.4 1219.3,703.4C1226.4,703.4 1233.4,703.2 1240.5,703.2C1247.6,703.1 1254.6,703.1 1261.7,703.1C1268.8,703.1 1275.9,703.1 1282.9,703.2C1290.0,703.2 1297.1,703.3 1304.1,703.4C1311.2,703.5 1321.8,703.8 1325.4,703.9"/>
<path d="M1065.5,708.1C1069.0,707.9 1079.3,707.5 1086.3,707.2C1093.2,706.9 1100.1,706.6 1107.1,706.4C1114.0,706.1 1120.9,705.8 1127.8,705.6C1134.8,705.3 1141.7,705.2 1148.6,704.8C1155.5,704.4 1162.5,704.4 1169.4,703.0C1176.3,701.5 1183.3,699.6 1190.2,696.0C1197.1,692.3 1204.0,685.3 1211.0,681.1C1217.9,676.9 1224.8,671.0 1231.7,670.5C1238.7,670.1 1245.6,674.5 1252.5,678.3C1259.5,682.0 1266.4,689.3 1273.3,692.9C1280.2,696.5 1287.2,698.4 1294.1,699.9C1301.0,701.4 1307.9,701.2 1314.9,701.8C1321.8,702.4 1328.7,703.0 1335.7,703.8C1342.6,704.6 1349.5,705.7 1356.4,706.6C1363.4,707.4 1370.3,708.3 1377.2,709.0C1384.2,709.6 1391.1,710.0 1398.0,710.4C1404.9,710.7 1411.9,710.9 1418.8,711.1C1425.7,711.2 1432.6,711.3 1439.6,711.4C1446.5,711.5 1453.4,711.6 1460.4,711.7C1467.3,711.7 1474.2,711.8 1481.1,711.8C1488.1,711.9 1495.0,711.9 1501.9,711.9C1508.8,712.0 1515.8,712.0 1522.7,712.0C1529.6,712.0 1536.6,712.0 1543.5,712.0C1550.4,712.0 1560.8,712.0 1564.3,712.1"/>
<path d="M1092.0,702.2C1095.4,702.0 1105.6,701.6 1112.4,701.2C1119.2,700.9 1126.0,700.6 1132.8,700.0C1139.6,699.3 1146.4,698.7 1153.2,697.5C1160.0,696.2 1166.7,694.7 1173.5,692.4C1180.3,690.2 1187.1,687.1 1193.9,684.1C1200.7,681.1 1207.5,677.2 1214.3,674.4C1221.1,671.7 1227.9,669.0 1234.7,667.7C1241.5,666.4 1248.2,666.4 1255.0,666.7C1261.8,667.0 1268.6,668.4 1275.4,669.4C1282.2,670.4 1289.0,671.4 1295.8,672.8C1302.6,674.3 1309.4,675.8 1316.2,678.1C1323.0,680.4 1329.8,683.8 1336.5,686.7C1343.3,689.7 1350.1,693.3 1356.9,695.8C1363.7,698.3 1370.5,700.3 1377.3,701.7C1384.1,703.2 1390.9,703.9 1397.7,704.6C1404.5,705.3 1411.3,705.6 1418.0,706.0C1424.8,706.4 1431.6,706.6 1438.4,706.9C1445.2,707.2 1452.0,707.5 1458.8,707.8C1465.6,708.0 1472.4,708.3 1479.2,708.5C1486.0,708.8 1492.8,709.0 1499.5,709.2C1506.3,709.4 1516.5,709.7 1519.9,709.8"/>
<path d="M1126.5,703.9C1129.9,703.8 1139.9,703.6 1146.6,703.3C1153.3,703.0 1160.0,702.7 1166.7,701.9C1173.4,701.0 1180.1,699.5 1186.8,698.2C1193.5,696.8 1200.2,694.5 1206.9,693.7C1213.6,693.0 1220.3,693.0 1227.0,693.6C1233.8,694.2 1240.5,696.4 1247.2,697.6C1253.9,698.8 1260.6,699.9 1267.3,700.6C1274.0,701.3 1280.7,701.4 1287.4,701.9C1294.1,702.4 1300.8,703.0 1307.5,703.8C1314.2,704.6 1320.9,705.7 1327.6,706.6C1334.3,707.5 1344.3,708.8 1347.7,709.2"/>
<path d="M1025.2,718.1C1028.6,718.0 1038.9,717.7 1045.8,717.5C1052.7,717.2 1059.6,717.0 1066.5,716.7C1073.4,716.4 1080.2,716.1 1087.1,715.8C1094.0,715.5 1100.9,715.2 1107.8,714.9C1114.7,714.6 1121.5,714.2 1128.4,713.9C1135.3,713.6 1142.2,713.2 1149.1,712.9C1156.0,712.6 1162.8,712.3 1169.7,712.0C1176.6,711.7 1183.5,711.4 1190.4,711.1C1197.2,710.8 1204.1,710.5 1211.0,710.1C1217.9,709.7 1224.8,709.4 1231.7,708.5C1238.5,707.6 1245.4,706.7 1252.3,704.7C1259.2,702.6 1266.1,699.8 1273.0,696.5C1279.8,693.2 1286.7,688.3 1293.6,684.8C1300.5,681.3 1307.4,677.1 1314.3,675.6C1321.1,674.0 1328.0,674.0 1334.9,675.4C1341.8,676.9 1348.7,680.9 1355.6,684.4C1362.4,687.9 1369.3,692.9 1376.2,696.6C1383.1,700.3 1390.0,703.8 1396.9,706.4C1403.7,709.0 1410.6,710.6 1417.5,712.0C1424.4,713.4 1431.3,714.1 1438.2,714.8C1445.0,715.5 1451.9,715.8 1458.8,716.2C1465.7,716.6 1476.0,716.9 1479.5,717.1"/>
<path d="M1021.9,714.4C1025.4,714.3 1035.8,713.8 1042.7,713.5C1049.6,713.1 1056.5,712.8 1063.5,712.5C1070.4,712.1 1077.3,711.8 1084.2,711.5C1091.2,711.1 1098.1,710.8 1105.0,710.5C1111.9,710.2 1118.9,709.8 1125.8,709.5C1132.7,709.3 1139.6,709.0 1146.5,708.7C1153.5,708.4 1160.4,708.2 1167.3,708.0C1174.2,707.7 1181.2,707.5 1188.1,707.3C1195.0,707.2 1201.9,707.0 1208.9,706.8C1215.8,706.7 1222.7,706.5 1229.6,706.3C1236.6,706.0 1243.5,705.7 1250.4,705.2C1257.3,704.7 1264.2,704.0 1271.2,703.1C1278.1,702.3 1285.0,701.1 1291.9,700.1C1298.9,699.1 1305.8,697.9 1312.7,697.4C1319.6,696.9 1326.6,696.6 1333.5,697.0C1340.4,697.4 1347.3,698.5 1354.2,699.7C1361.2,700.9 1371.6,703.3 1375.0,704.0"/>
<path d="M1062.2,717.1C1065.6,716.9 1075.6,716.3 1082.3,715.8C1089.0,715.3 1095.7,714.8 1102.4,714.1C1109.1,713.4 1115.8,712.5 1122.5,711.6C1129.2,710.7 1135.9,709.7 1142.6,708.7C1149.3,707.7 1156.0,706.6 1162.7,705.7C1169.4,704.8 1176.0,704.0 1182.7,703.4C1189.4,702.9 1196.1,702.6 1202.8,702.5C1209.5,702.4 1216.2,702.6 1222.9,702.8C1229.6,703.0 1236.3,703.5 1243.0,703.9C1249.7,704.4 1256.4,704.9 1263.1,705.4C1269.8,705.9 1276.5,706.5 1283.2,707.1C1289.9,707.7 1296.6,708.3 1303.3,708.9C1310.0,709.6 1316.7,710.2 1323.4,710.9C1330.1,711.5 1336.8,712.1 1343.5,712.8C1350.2,713.4 1356.8,713.9 1363.5,714.5C1370.2,715.0 1376.9,715.5 1383.6,715.9C1390.3,716.4 1397.0,716.8 1403.7,717.1C1410.4,717.4 1417.1,717.7 1423.8,718.0C1430.5,718.2 1437.2,718.4 1443.9,718.6C1450.6,718.7 1457.3,718.8 1464.0,718.9C1470.7,719.1 1477.4,719.1 1484.1,719.2C1490.8,719.3 1497.5,719.3 1504.2,719.3C1510.9,719.4 1517.6,719.4 1524.3,719.4C1531.0,719.4 1541.0,719.4 1544.3,719.5"/>
<path d="M1196.3,714.9C1199.6,714.8 1209.7,714.7 1216.3,714.6C1223.0,714.5 1229.7,714.4 1236.3,714.2C1243.0,714.0 1249.7,713.9 1256.4,713.4C1263.0,712.8 1269.7,712.2 1276.4,711.0C1283.0,709.9 1289.7,708.1 1296.4,706.6C1303.1,705.1 1309.7,702.9 1316.4,702.0C1323.1,701.0 1329.8,700.6 1336.4,701.2C1343.1,701.7 1349.8,703.6 1356.4,705.2C1363.1,706.7 1369.8,708.9 1376.5,710.3C1383.1,711.8 1389.8,712.9 1396.5,713.7C1403.1,714.5 1409.8,714.8 1416.5,715.1C1423.2,715.5 1429.8,715.5 1436.5,715.7C1443.2,715.9 1449.9,715.9 1456.5,716.0C1463.2,716.1 1469.9,716.2 1476.5,716.3C1483.2,716.4 1489.9,716.5 1496.6,716.5C1503.2,716.6 1513.2,716.7 1516.6,716.8"/>
<path d="M1126.8,710.7C1130.2,710.5 1140.2,710.0 1147.0,709.6C1153.7,709.2 1160.4,708.8 1167.1,708.2C1173.8,707.6 1180.5,707.0 1187.2,706.2C1193.9,705.4 1200.7,704.4 1207.4,703.4C1214.1,702.3 1220.8,700.9 1227.5,699.9C1234.2,698.8 1240.9,697.5 1247.7,696.9C1254.4,696.2 1261.1,695.8 1267.8,695.9C1274.5,696.0 1281.2,696.7 1287.9,697.6C1294.6,698.4 1301.4,699.8 1308.1,701.0C1314.8,702.2 1321.5,703.5 1328.2,704.6C1334.9,705.7 1341.6,706.6 1348.4,707.4C1355.1,708.2 1361.8,708.8 1368.5,709.3C1375.2,709.9 1381.9,710.3 1388.6,710.7C1395.3,711.1 1405.4,711.5 1408.8,711.7"/>
<path d="M1136.5,707.2C1139.9,707.1 1150.0,706.7 1156.7,706.4C1163.4,706.1 1170.2,705.8 1176.9,705.3C1183.7,704.9 1190.4,704.3 1197.1,703.8C1203.9,703.2 1210.6,702.5 1217.4,702.1C1224.1,701.6 1230.8,701.2 1237.6,701.0C1244.3,700.8 1251.0,700.9 1257.8,701.1C1264.5,701.4 1271.3,701.9 1278.0,702.3C1284.7,702.8 1291.5,703.4 1298.2,703.8C1305.0,704.3 1311.7,704.7 1318.4,705.0C1325.2,705.3 1331.9,705.6 1338.6,705.8C1345.4,706.0 1352.1,706.2 1358.9,706.4C1365.6,706.6 1372.3,706.8 1379.1,707.0C1385.8,707.2 1392.6,707.4 1399.3,707.6C1406.0,707.8 1416.1,708.1 1419.5,708.2"/>
<path d="M1167.4,701.0C1170.8,701.0 1181.2,700.8 1188.1,700.7C1195.0,700.6 1201.9,700.5 1208.8,700.5C1215.7,700.4 1222.7,700.4 1229.6,700.4C1236.5,700.4 1243.4,700.4 1250.3,700.4C1257.2,700.5 1264.1,700.5 1271.0,700.6C1277.9,700.6 1284.8,700.7 1291.8,700.8C1298.7,701.0 1305.6,701.1 1312.5,701.2C1319.4,701.4 1326.3,701.5 1333.2,701.7C1340.1,701.9 1347.0,702.1 1353.9,702.3C1360.9,702.5 1367.8,702.7 1374.7,702.9C1381.6,703.1 1388.5,703.4 1395.4,703.6C1402.3,703.8 1409.2,704.1 1416.1,704.3C1423.0,704.6 1430.0,704.8 1436.9,705.1C1443.8,705.3 1450.7,705.6 1457.6,705.8C1464.5,706.1 1471.4,706.3 1478.3,706.5C1485.2,706.8 1492.1,707.0 1499.1,707.2C1506.0,707.5 1512.9,707.7 1519.8,707.9C1526.7,708.1 1533.6,708.3 1540.5,708.5C1547.4,708.7 1557.8,709.0 1561.2,709.1"/>
<path d="M1118.6,711.8C1122.0,711.7 1132.2,711.2 1139.0,710.8C1145.8,710.5 1152.5,710.2 1159.3,709.9C1166.1,709.6 1172.9,709.3 1179.7,709.0C1186.4,708.6 1193.2,708.3 1200.0,707.9C1206.8,707.6 1213.5,707.2 1220.3,706.9C1227.1,706.6 1233.9,706.3 1240.7,706.1C1247.4,706.0 1254.2,706.0 1261.0,705.8C1267.8,705.6 1274.6,705.4 1281.3,705.0C1288.1,704.5 1294.9,703.7 1301.7,703.2C1308.5,702.7 1315.2,701.9 1322.0,702.0C1328.8,702.1 1335.6,702.6 1342.4,703.6C1349.1,704.6 1355.9,706.4 1362.7,707.8C1369.5,709.2 1376.2,711.0 1383.0,712.2C1389.8,713.4 1396.6,714.4 1403.4,715.1C1410.1,715.9 1416.9,716.3 1423.7,716.7C1430.5,717.1 1437.3,717.4 1444.0,717.6C1450.8,717.9 1461.0,718.2 1464.4,718.3"/>
<path d="M1197.5,700.2C1200.9,700.0 1211.1,699.0 1217.8,698.7C1224.6,698.4 1231.4,698.2 1238.2,698.5C1244.9,698.7 1251.7,699.4 1258.5,700.2C1265.3,701.0 1272.0,702.2 1278.8,703.2C1285.6,704.2 1292.4,705.3 1299.1,706.1C1305.9,706.9 1312.7,707.6 1319.5,708.2C1326.2,708.8 1336.4,709.4 1339.8,709.6"/>
<path d="M1151.5,707.2C1154.8,707.0 1165.0,706.4 1171.8,706.0C1178.5,705.6 1185.3,705.3 1192.1,704.9C1198.8,704.5 1205.6,704.2 1212.4,703.9C1219.1,703.5 1225.9,703.2 1232.7,703.0C1239.4,702.7 1246.2,702.5 1253.0,702.3C1259.8,702.1 1266.5,702.0 1273.3,701.7C1280.1,701.4 1286.8,701.2 1293.6,700.2C1300.4,699.2 1307.1,696.8 1313.9,695.8C1320.7,694.7 1327.4,693.3 1334.2,693.9C1341.0,694.4 1347.7,697.4 1354.5,698.9C1361.3,700.4 1368.0,701.9 1374.8,702.8C1381.6,703.8 1391.7,704.1 1395.1,704.4"/>
<path d="M1068.3,710.9C1071.7,710.4 1081.9,709.3 1088.7,707.4C1095.5,705.6 1102.3,703.2 1109.1,699.9C1115.9,696.7 1122.7,691.9 1129.5,688.1C1136.4,684.4 1143.2,679.6 1150.0,677.7C1156.8,675.7 1163.6,675.2 1170.4,676.3C1177.2,677.5 1184.0,681.4 1190.8,684.5C1197.6,687.5 1204.4,691.8 1211.2,694.5C1218.0,697.2 1224.9,699.3 1231.7,700.7C1238.5,702.1 1245.3,702.5 1252.1,703.0C1258.9,703.6 1265.7,703.6 1272.5,703.8C1279.3,704.0 1286.1,704.2 1292.9,704.4C1299.7,704.6 1306.5,704.8 1313.4,705.1C1320.2,705.4 1327.0,705.7 1333.8,706.0C1340.6,706.3 1347.4,706.7 1354.2,707.1C1361.0,707.4 1371.2,708.1 1374.6,708.2"/>
<path d="M1034.6,713.9C1038.1,713.8 1048.5,713.3 1055.5,712.9C1062.5,712.6 1069.5,712.2 1076.5,711.9C1083.4,711.5 1090.4,711.2 1097.4,710.8C1104.4,710.5 1111.4,710.1 1118.3,709.8C1125.3,709.5 1132.3,709.2 1139.3,708.9C1146.3,708.6 1153.3,708.4 1160.2,708.2C1167.2,708.0 1174.2,707.8 1181.2,707.7C1188.2,707.6 1195.1,707.5 1202.1,707.5C1209.1,707.4 1216.1,707.5 1223.1,707.5C1230.0,707.5 1237.0,707.7 1244.0,707.6C1251.0,707.5 1258.0,707.5 1265.0,707.0C1271.9,706.6 1278.9,705.8 1285.9,704.9C1292.9,704.1 1299.9,702.5 1306.8,701.7C1313.8,700.9 1320.8,700.1 1327.8,700.3C1334.8,700.5 1341.8,701.7 1348.7,703.0C1355.7,704.4 1362.7,706.6 1369.7,708.2C1376.7,709.8 1383.6,711.4 1390.6,712.5C1397.6,713.6 1404.6,714.2 1411.6,714.8C1418.6,715.3 1425.5,715.6 1432.5,715.9C1439.5,716.1 1450.0,716.4 1453.5,716.5"/>
<path d="M1288.9,711.5C1292.4,711.5 1303.2,711.6 1310.4,711.8C1317.5,711.9 1324.7,712.0 1331.9,712.2C1339.0,712.3 1346.2,712.5 1353.4,712.7C1360.6,712.9 1367.7,713.1 1374.9,713.3C1382.1,713.5 1389.2,713.8 1396.4,714.0C1403.6,714.2 1410.8,714.5 1417.9,714.7C1425.1,714.8 1432.3,715.1 1439.4,715.2C1446.6,715.3 1453.8,715.3 1461.0,715.2C1468.1,715.2 1475.3,714.9 1482.5,714.8C1489.6,714.6 1496.8,714.4 1504.0,714.4C1511.2,714.4 1518.3,714.6 1525.5,714.9C1532.7,715.2 1539.8,715.8 1547.0,716.2C1554.2,716.6 1564.9,717.1 1568.5,717.3"/>
<path d="M1376.9,709.4C1380.5,709.4 1391.5,709.4 1398.8,709.4C1406.1,709.4 1413.5,709.4 1420.8,709.4C1428.1,709.4 1435.4,709.4 1442.7,709.4C1450.1,709.4 1457.4,709.4 1464.7,709.4C1472.0,709.4 1479.3,709.4 1486.6,709.4C1494.0,709.4 1501.3,709.4 1508.6,709.4C1515.9,709.4 1523.2,709.4 1530.6,709.4C1537.9,709.4 1545.2,709.5 1552.5,709.5C1559.8,709.5 1570.8,709.6 1574.5,709.6"/>
<path d="M1289.4,714.1C1292.9,714.1 1303.6,714.1 1310.7,714.0C1317.8,713.9 1324.9,713.8 1332.0,713.6C1339.1,713.5 1346.2,713.3 1353.3,713.0C1360.4,712.8 1367.5,712.4 1374.6,712.2C1381.7,711.9 1388.8,711.6 1395.9,711.5C1403.0,711.3 1410.1,711.2 1417.2,711.3C1424.3,711.3 1431.4,711.5 1438.5,711.8C1445.7,712.0 1452.8,712.4 1459.9,712.7C1467.0,713.0 1474.1,713.4 1481.2,713.6C1488.3,713.9 1495.4,714.1 1502.5,714.3C1509.6,714.4 1516.7,714.5 1523.8,714.6C1530.9,714.7 1541.6,714.8 1545.1,714.8"/>
<path d="M1304.6,712.8C1308.2,712.8 1319.1,712.8 1326.3,712.8C1333.5,712.8 1340.7,712.8 1348.0,712.8C1355.2,712.8 1362.4,712.8 1369.6,712.8C1376.9,712.8 1384.1,712.7 1391.3,712.6C1398.5,712.5 1405.7,712.3 1413.0,712.1C1420.2,711.9 1427.4,711.5 1434.6,711.3C1441.9,711.1 1449.1,710.8 1456.3,710.8C1463.5,710.8 1470.8,710.9 1478.0,711.1C1485.2,711.4 1492.4,711.8 1499.6,712.0C1506.9,712.3 1514.1,712.6 1521.3,712.8C1528.5,713.0 1539.4,713.1 1543.0,713.2"/>
<path d="M1351.5,709.7C1355.1,709.7 1365.8,709.4 1372.9,709.2C1380.1,709.0 1387.2,708.8 1394.4,708.6C1401.5,708.5 1408.7,708.3 1415.8,708.2C1422.9,708.1 1430.1,708.0 1437.2,708.1C1444.4,708.1 1451.5,708.2 1458.6,708.4C1465.8,708.5 1472.9,708.8 1480.1,709.0C1487.2,709.3 1494.4,709.6 1501.5,709.8C1508.6,710.1 1515.8,710.4 1522.9,710.6C1530.1,710.8 1540.8,711.1 1544.3,711.2"/>
<path d="M1269.7,713.9C1273.2,713.9 1283.7,713.9 1290.7,714.0C1297.7,714.0 1304.7,714.1 1311.7,714.1C1318.7,714.2 1325.7,714.3 1332.8,714.4C1339.8,714.4 1346.8,714.5 1353.8,714.6C1360.8,714.7 1367.8,714.8 1374.8,714.9C1381.8,715.0 1388.8,715.1 1395.8,715.2C1402.8,715.3 1409.9,715.4 1416.9,715.5C1423.9,715.6 1430.9,715.7 1437.9,715.8C1444.9,715.9 1451.9,716.0 1458.9,716.1C1465.9,716.2 1472.9,716.3 1480.0,716.4C1487.0,716.5 1494.0,716.5 1501.0,716.6C1508.0,716.7 1515.0,716.8 1522.0,716.8C1529.0,716.9 1539.5,717.0 1543.0,717.0"/>
<path d="M1283.7,714.8C1287.1,714.8 1297.4,714.8 1304.2,714.8C1311.0,714.9 1317.8,714.9 1324.7,714.9C1331.5,714.9 1338.3,715.0 1345.1,715.0C1352.0,715.0 1358.8,715.0 1365.6,715.0C1372.4,715.0 1379.2,715.0 1386.1,714.9C1392.9,714.9 1399.7,714.8 1406.5,714.7C1413.4,714.6 1420.2,714.5 1427.0,714.3C1433.8,714.2 1440.6,714.0 1447.5,713.9C1454.3,713.8 1461.1,713.6 1467.9,713.5C1474.8,713.4 1481.6,713.4 1488.4,713.4C1495.2,713.4 1502.0,713.5 1508.9,713.6C1515.7,713.8 1522.5,714.0 1529.3,714.2C1536.2,714.4 1546.4,714.9 1549.8,715.0"/>
<path d="M1306.2,703.9C1309.6,703.9 1319.8,703.9 1326.6,703.9C1333.4,703.9 1340.2,704.0 1347.1,704.0C1353.9,704.1 1360.7,704.2 1367.5,704.2C1374.3,704.3 1381.1,704.4 1387.9,704.5C1394.7,704.7 1401.5,704.8 1408.3,704.9C1415.1,705.0 1421.9,705.2 1428.7,705.3C1435.5,705.5 1442.3,705.7 1449.1,705.8C1455.9,706.0 1462.8,706.1 1469.6,706.3C1476.4,706.4 1483.2,706.6 1490.0,706.7C1496.8,706.9 1503.6,707.0 1510.4,707.2C1517.2,707.4 1524.0,707.6 1530.8,707.7C1537.6,707.9 1544.4,708.1 1551.2,708.3C1558.0,708.5 1568.2,708.7 1571.7,708.8"/>
<path d="M1337.5,709.5C1341.1,709.4 1352.1,709.2 1359.4,709.2C1366.7,709.1 1374.0,709.0 1381.4,709.0C1388.7,709.0 1396.0,709.1 1403.3,709.1C1410.6,709.2 1417.9,709.3 1425.3,709.5C1432.6,709.6 1439.9,709.8 1447.2,710.0C1454.5,710.1 1461.9,710.3 1469.2,710.5C1476.5,710.6 1483.8,710.8 1491.1,710.9C1498.4,711.0 1505.8,711.1 1513.1,711.2C1520.4,711.3 1527.7,711.4 1535.0,711.4C1542.4,711.5 1553.3,711.5 1557.0,711.6"/>
<path d="M1354.3,714.4C1357.6,714.5 1367.8,714.5 1374.5,714.6C1381.3,714.6 1388.0,714.7 1394.7,714.9C1401.5,715.0 1408.2,715.2 1415.0,715.4C1421.7,715.6 1428.5,715.9 1435.2,716.2C1442.0,716.4 1448.7,716.7 1455.5,717.0C1462.2,717.2 1468.9,717.5 1475.7,717.7C1482.4,717.9 1489.2,718.1 1495.9,718.3C1502.7,718.5 1509.4,718.6 1516.2,718.8C1522.9,718.9 1529.7,719.0 1536.4,719.1C1543.1,719.2 1549.9,719.3 1556.6,719.4C1563.4,719.4 1570.1,719.5 1576.9,719.5C1583.6,719.6 1593.7,719.6 1597.1,719.7"/>
<path d="M1212.0,693.0C1212.3,690.8 1213.0,688.8 1214.0,680.0C1215.0,671.2 1216.3,660.0 1218.0,640.0C1219.7,620.0 1222.0,583.3 1224.0,560.0C1226.0,536.7 1228.0,515.0 1230.0,500.0C1232.0,485.0 1234.5,475.8 1236.0,470.0C1237.5,464.2 1238.3,465.8 1238.8,465.0"/>
<path d="M1036.4,690.1C1039.0,690.3 1047.1,690.5 1052.1,691.3C1057.2,692.2 1062.2,695.1 1066.7,695.2C1071.1,695.3 1074.3,694.2 1078.8,692.1C1083.2,689.9 1088.0,684.8 1093.3,682.4C1098.5,680.0 1105.0,677.7 1110.2,677.5C1115.5,677.4 1119.5,679.6 1124.8,681.6C1130.0,683.7 1136.1,687.5 1141.7,689.6C1147.4,691.8 1155.8,693.7 1158.7,694.5"/>
<path d="M1089.7,665.9C1090.3,666.6 1092.1,667.3 1093.3,670.3C1094.5,673.2 1095.7,678.5 1096.9,683.6C1098.1,688.6 1098.7,695.3 1100.6,700.5C1102.4,705.8 1105.0,711.8 1107.8,715.1C1110.6,718.4 1113.1,719.6 1117.5,720.4C1121.9,721.2 1129.2,720.4 1134.5,719.9C1139.7,719.4 1146.6,717.9 1149.0,717.5"/>
<path d="M1145.4,683.1C1147.2,683.6 1152.4,686.3 1156.2,686.0C1160.1,685.7 1164.3,682.8 1168.4,681.2C1172.4,679.5 1176.8,677.3 1180.5,676.3C1184.1,675.3 1188.5,675.3 1190.1,675.1"/>
</g>
<path d="M1052.2,711.3C1060.2,710.9 1083.7,710.0 1100.0,709.2C1116.3,708.5 1138.3,707.5 1150.0,706.8C1161.7,706.1 1163.3,705.7 1170.0,705.2C1176.7,704.7 1183.6,704.2 1190.4,704.0C1197.2,703.8 1203.6,703.9 1210.8,704.2C1218.0,704.5 1225.6,705.1 1233.7,705.7C1241.8,706.3 1250.7,707.2 1259.2,707.8C1267.7,708.3 1276.1,708.6 1284.6,709.0C1293.1,709.4 1301.9,709.9 1310.0,710.3C1318.1,710.7 1324.5,711.0 1333.0,711.3C1341.5,711.5 1352.1,711.7 1361.0,711.8C1369.9,711.9 1378.1,711.9 1386.6,711.8C1395.1,711.7 1403.5,711.4 1412.0,711.1C1420.5,710.8 1429.0,710.4 1437.5,710.1C1446.0,709.8 1454.4,709.5 1463.0,709.3C1471.6,709.1 1484.8,709.0 1489.2,709.0" fill="none" stroke="#1a1a1a" stroke-width="3.4" stroke-linecap="round"/>
<rect x="816.5" y="453.5" width="734.0" height="280.0" fill="none" stroke="#cccccc" stroke-width="3"/>
<text class="r" x="895.0" y="774.8" font-size="24.4" text-anchor="middle">5</text>
<text class="r" x="982.0" y="774.8" font-size="24.4" text-anchor="middle">6</text>
<text class="r" x="1070.0" y="774.8" font-size="24.4" text-anchor="middle">7</text>
<text class="r" x="1157.0" y="774.8" font-size="24.4" text-anchor="middle">8</text>
<text class="r" x="1245.0" y="774.8" font-size="24.4" text-anchor="middle">9</text>
<text class="r" x="1332.0" y="774.8" font-size="24.4" text-anchor="middle">10</text>
<text class="r" x="1419.0" y="774.8" font-size="24.4" text-anchor="middle">11</text>
<text class="r" x="1507.0" y="774.8" font-size="24.4" text-anchor="middle">12</text>
<text class="t" x="1183.5" y="437.3" font-size="29.7" text-anchor="middle">Posterior predictive for West</text>
<rect x="1290.5" y="461.7" width="251" height="60.2" rx="4" fill="#ffffff" fill-opacity="0.8" stroke="#cccccc" stroke-width="2"/>
<line x1="1298.9" y1="477.5" x2="1335.4" y2="477.5" stroke="#0470b1" stroke-width="3.2" stroke-linecap="round"/>
<line x1="1298.9" y1="505.59999999999997" x2="1335.4" y2="505.59999999999997" stroke="#1a1a1a" stroke-width="3.2" stroke-linecap="round"/>
<text class="r" x="1348.8" y="484.1" font-size="18.4" text-anchor="start">Posterior predictive</text>
<text class="r" x="1348.8" y="510.5" font-size="18.4" text-anchor="start">Observed</text>
</svg></body></html>
